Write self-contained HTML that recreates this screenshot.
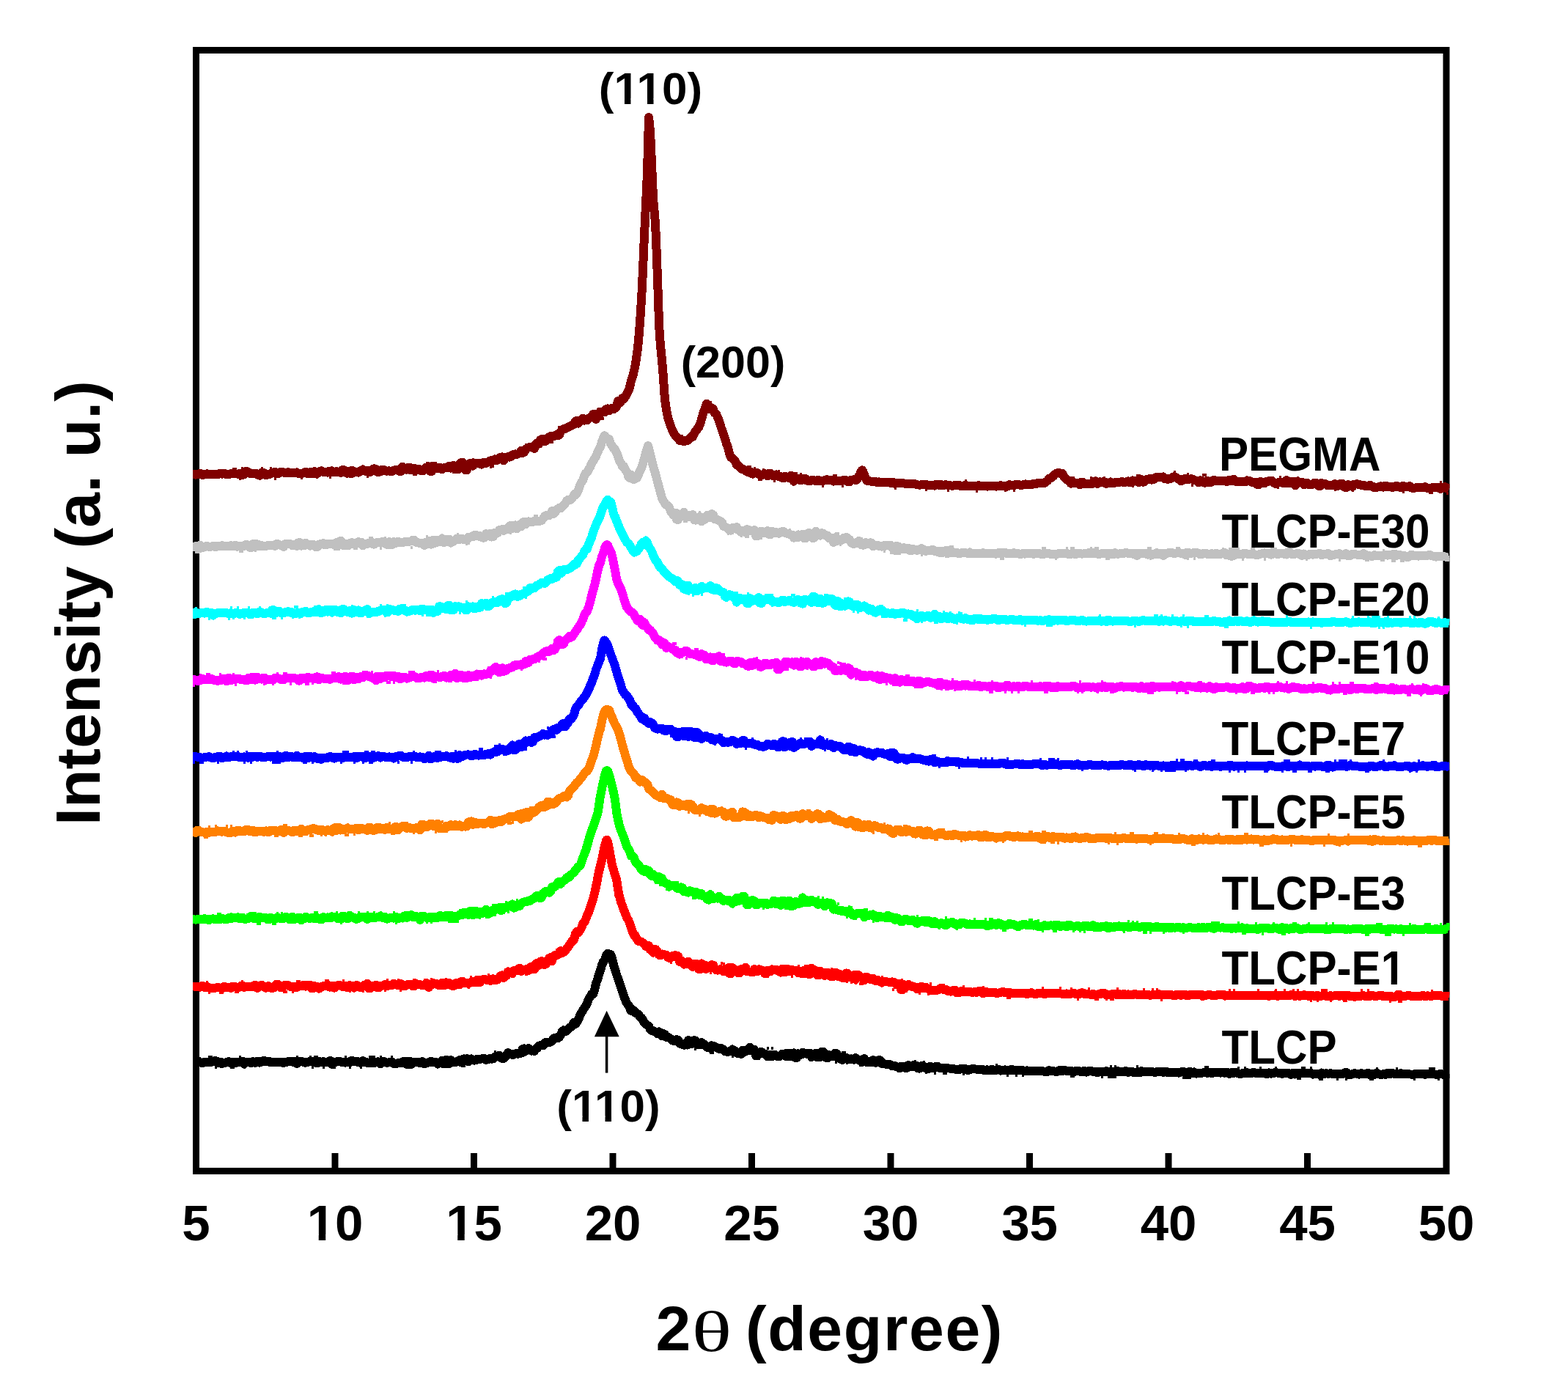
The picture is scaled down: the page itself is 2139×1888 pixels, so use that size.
<!DOCTYPE html>
<html><head><meta charset="utf-8"><title>XRD patterns</title>
<style>
html,body{margin:0;padding:0;background:#fff;}
body{width:2139px;height:1888px;overflow:hidden;}
svg{display:block;}
text{font-family:"Liberation Sans",Arial,sans-serif;font-weight:bold;fill:#000;}
</style></head><body>
<svg width="2139" height="1888" viewBox="0 0 2139 1888">
<rect x="0" y="0" width="2139" height="1888" fill="#fff"/>
<rect x="267.5" y="68.5" width="1705.5" height="1529.0" fill="none" stroke="#000" stroke-width="9"/>
<path d="M457.0,1573 V1595 M646.5,1573 V1595 M836.0,1573 V1595 M1025.5,1573 V1595 M1215.0,1573 V1595 M1404.5,1573 V1595 M1594.0,1573 V1595 M1783.5,1573 V1595" stroke="#000" stroke-width="9" fill="none"/>
<text id="tk0" x="267.5" y="1692" font-size="69" text-anchor="middle">5</text>
<text id="tk1" x="457.0" y="1692" font-size="69" text-anchor="middle">10</text>
<rect x="422.07" y="1684.16" width="12.66" height="8.64" fill="#fff"/><rect x="444.20" y="1684.16" width="11.78" height="8.64" fill="#fff"/><text id="tk2" x="646.5" y="1692" font-size="69" text-anchor="middle">15</text>
<rect x="611.57" y="1684.16" width="12.66" height="8.64" fill="#fff"/><rect x="633.70" y="1684.16" width="11.78" height="8.64" fill="#fff"/><text id="tk3" x="836.0" y="1692" font-size="69" text-anchor="middle">20</text>
<text id="tk4" x="1025.5" y="1692" font-size="69" text-anchor="middle">25</text>
<text id="tk5" x="1215.0" y="1692" font-size="69" text-anchor="middle">30</text>
<text id="tk6" x="1404.5" y="1692" font-size="69" text-anchor="middle">35</text>
<text id="tk7" x="1594.0" y="1692" font-size="69" text-anchor="middle">40</text>
<text id="tk8" x="1783.5" y="1692" font-size="69" text-anchor="middle">45</text>
<text id="tk9" x="1973.0" y="1692" font-size="69" text-anchor="middle">50</text>
<text x="894.5" y="1842" font-size="86">2</text>
<text transform="translate(971,1842.5) scale(1.33,0.915)" x="0" y="0" font-size="86" text-anchor="middle" style="font-family:'Liberation Serif',serif;font-weight:normal">&#952;</text>
<text x="1017" y="1842" font-size="86" letter-spacing="1.6">(degree)</text>
<text transform="translate(136,822.5) rotate(-90)" x="0" y="0" font-size="86" text-anchor="middle">Intensity (a. u.)</text>
<defs><clipPath id="pc"><rect x="263" y="0" width="1714.5" height="1888"/></clipPath></defs>
<g clip-path="url(#pc)">
<path d="M263.0,647.2 265.0,647.2 267.0,647.6 269.0,647.2 271.0,647.2 273.0,645.9 275.0,647.7 277.0,647.7 279.0,647.3 281.0,646.5 283.0,646.4 285.0,647.4 287.0,647.2 289.0,647.2 291.0,647.1 293.0,646.8 295.0,646.8 297.0,647.3 299.0,646.1 301.0,646.0 303.0,646.6 305.0,646.2 307.0,646.2 309.0,647.3 311.0,646.7 313.0,646.7 315.0,646.3 317.0,645.7 319.0,645.7 321.0,646.2 323.0,646.5 325.0,646.5 327.0,646.1 329.0,647.8 331.0,647.8 333.0,647.5 335.0,643.3 337.0,643.2 339.0,644.1 341.0,646.0 343.0,646.0 345.0,645.7 347.0,646.4 349.0,646.4 351.0,646.3 353.0,648.6 355.0,648.6 357.0,644.6 359.0,645.5 361.0,645.4 363.0,648.4 365.0,646.7 367.0,646.6 369.0,646.6 371.0,645.1 373.0,645.0 375.0,643.5 377.0,645.8 379.0,645.8 381.0,645.7 383.0,643.9 385.0,643.8 387.0,644.5 389.0,645.3 391.0,645.3 393.0,644.0 395.0,645.1 397.0,645.1 399.0,645.3 401.0,645.2 403.0,645.2 405.0,644.4 407.0,645.9 409.0,645.8 411.0,646.2 413.0,645.4 415.0,645.3 417.0,643.6 419.0,645.9 421.0,645.8 423.0,644.0 425.0,646.0 427.0,645.9 429.0,643.0 431.0,645.9 433.0,645.9 435.0,644.4 437.0,642.5 439.0,642.4 441.0,643.8 443.0,644.4 445.0,644.3 447.0,644.6 449.0,642.6 451.0,642.5 453.0,642.3 455.0,644.3 457.0,644.3 459.0,643.2 461.0,644.2 463.0,644.2 465.0,645.0 467.0,641.0 469.0,641.0 471.0,644.0 473.0,645.6 475.0,645.5 477.0,642.9 479.0,642.0 481.0,642.0 483.0,644.5 485.0,643.6 487.0,643.6 489.0,644.6 491.0,642.4 493.0,642.4 495.0,640.3 497.0,642.6 499.0,642.6 501.0,641.9 503.0,644.0 505.0,643.9 507.0,642.8 509.0,639.5 511.0,639.4 513.0,640.1 515.0,643.8 517.0,643.7 519.0,643.3 521.0,640.8 523.0,640.7 525.0,641.8 527.0,642.6 529.0,642.5 531.0,642.4 533.0,643.1 535.0,643.1 537.0,641.8 539.0,641.1 541.0,641.0 543.0,640.6 545.0,643.0 547.0,643.0 549.0,636.5 551.0,640.5 553.0,640.4 555.0,640.7 557.0,637.8 559.0,637.7 560.0,641.1 561.0,641.0 563.0,639.0 565.0,638.9 567.0,641.8 569.0,639.8 571.0,639.7 573.0,641.2 575.0,642.2 577.0,642.2 579.0,640.4 581.0,637.7 583.0,637.7 585.0,636.3 587.0,642.8 589.0,642.8 591.0,638.8 593.0,637.5 595.0,637.4 597.0,639.1 599.0,638.3 601.0,638.2 603.0,640.2 605.0,638.4 607.0,638.3 609.0,638.1 611.0,636.4 613.0,636.3 615.0,638.7 617.0,635.3 618.7,635.2 619.0,635.2 621.0,638.6 623.0,640.3 625.0,640.1 627.0,633.4 629.0,631.1 631.0,630.9 633.0,637.4 635.0,641.3 637.0,641.1 639.0,633.1 641.0,632.2 643.0,632.0 645.0,635.7 647.0,632.3 649.0,631.9 651.0,632.4 653.0,632.4 655.0,632.1 657.0,633.7 659.0,631.2 661.0,630.9 662.7,632.1 663.0,632.1 665.0,630.6 667.0,630.2 669.0,628.3 671.0,629.0 673.0,628.5 675.0,626.6 677.0,628.1 679.0,627.5 681.0,624.5 683.0,624.0 685.0,623.4 687.0,628.2 689.0,624.4 691.0,623.7 692.1,623.4 693.0,623.1 695.0,623.7 697.0,623.0 699.0,620.4 701.0,620.1 703.0,619.4 705.0,620.0 707.0,619.0 709.0,618.2 711.0,614.5 713.0,617.8 715.0,617.0 717.0,613.3 719.0,611.5 721.0,610.6 721.5,610.4 723.0,610.0 725.0,610.1 727.0,609.1 729.0,611.9 731.0,605.5 733.0,604.4 735.0,605.7 737.0,600.3 739.0,599.1 741.0,601.9 743.0,602.4 745.0,601.3 747.0,598.0 749.0,596.1 750.8,595.1 751.0,595.0 753.0,595.5 755.0,595.3 757.0,594.2 759.0,593.0 761.0,594.3 763.0,593.2 765.0,588.7 767.0,586.1 769.0,585.0 771.0,584.8 773.0,583.8 775.0,582.7 777.0,582.0 779.0,580.7 780.2,580.1 781.0,579.7 783.0,579.2 785.0,574.6 787.0,573.6 789.0,577.6 791.0,573.8 793.0,572.9 795.0,570.8 797.0,573.5 799.0,572.6 801.0,573.1 803.0,570.6 805.0,569.8 807.0,568.3 809.0,565.3 809.5,565.1 811.0,564.5 813.0,571.9 815.0,567.1 817.0,566.5 819.0,561.5 821.0,561.7 823.0,561.1 825.0,562.4 827.0,558.2 829.0,557.5 831.0,560.2 831.5,559.9 833.0,558.0 835.0,556.8 837.0,558.5 839.0,556.6 841.0,554.9 843.0,547.2 845.0,549.8 846.2,548.7 847.0,547.9 849.0,543.2 851.0,544.4 853.0,541.4 855.0,537.2 857.0,533.9 858.0,531.5 859.0,528.3 861.0,519.2 863.0,513.9 865.0,505.8 866.0,501.2 867.0,496.0 869.0,482.1 870.0,474.6 871.0,465.0 873.0,440.1 875.0,408.4 876.0,389.9 877.0,368.1 879.0,320.0 881.0,279.5 883.0,234.8 885.0,160.1 885.3,161.9 887.0,179.0 888.0,199.8 889.0,222.9 891.0,269.9 893.0,292.5 894.0,305.1 895.0,325.8 897.0,379.9 899.0,438.8 899.7,453.9 901.0,471.8 903.0,491.6 904.2,504.8 905.0,516.5 907.0,545.2 907.2,546.9 909.0,558.6 911.0,569.0 913.0,576.0 913.2,576.6 915.0,581.7 917.0,586.3 919.0,590.3 921.0,594.0 923.0,595.9 923.7,596.5 925.0,597.6 927.0,600.9 929.0,600.4 931.0,601.4 933.0,602.4 935.0,601.3 937.0,601.2 939.0,600.6 941.0,597.9 943.0,595.9 945.0,596.0 947.0,591.0 949.0,588.1 951.0,585.6 952.0,584.0 953.0,583.5 955.0,578.2 957.0,571.9 959.0,564.7 961.0,559.3 963.0,553.2 964.0,550.7 965.0,557.1 967.0,557.5 969.0,558.1 971.0,556.5 973.0,558.2 974.6,563.2 975.0,563.6 977.0,564.6 979.0,569.1 981.0,574.1 983.0,581.0 985.0,586.9 986.5,590.8 987.0,592.2 989.0,598.6 991.0,605.1 993.0,610.0 995.0,618.9 997.0,624.0 999.0,625.0 1001.0,626.6 1002.0,627.8 1003.0,628.9 1005.0,634.3 1007.0,634.9 1009.0,636.8 1011.0,639.5 1013.0,639.9 1015.0,640.9 1015.2,641.0 1017.0,642.3 1019.0,643.6 1021.0,644.2 1023.0,643.1 1025.0,646.1 1027.0,646.6 1029.0,645.0 1030.0,645.2 1031.0,644.6 1033.0,645.0 1035.0,646.9 1037.0,647.9 1039.0,648.1 1041.0,647.2 1043.0,646.3 1045.0,646.6 1047.0,649.3 1049.0,645.5 1051.0,645.7 1053.0,647.1 1055.0,649.1 1057.0,649.3 1059.0,647.3 1061.0,649.7 1063.0,650.0 1065.0,650.1 1067.0,651.8 1069.0,652.1 1071.0,649.7 1073.0,650.4 1075.0,650.7 1077.0,652.3 1079.0,648.9 1081.0,649.3 1083.0,656.7 1085.0,652.2 1087.0,652.5 1089.0,652.7 1091.0,654.9 1093.0,655.1 1095.0,654.3 1097.0,652.7 1099.0,653.0 1101.0,655.7 1103.0,656.1 1105.0,656.2 1107.0,655.1 1109.0,655.4 1111.0,655.4 1113.0,656.2 1115.0,655.0 1116.0,655.0 1117.0,655.0 1119.0,656.2 1121.0,656.0 1123.0,656.0 1125.0,655.1 1127.0,654.4 1129.0,654.4 1131.0,655.5 1133.0,654.9 1135.0,654.9 1137.0,656.7 1139.0,655.9 1141.0,655.8 1143.0,656.5 1145.0,655.8 1147.0,655.7 1149.0,655.8 1151.0,654.7 1153.0,654.6 1155.0,656.2 1157.0,657.4 1159.0,657.3 1161.0,654.9 1163.0,654.5 1165.0,654.4 1167.0,654.9 1168.0,654.8 1169.0,654.1 1171.0,651.4 1173.0,647.4 1175.0,642.5 1176.0,641.3 1177.0,642.5 1179.0,647.7 1181.0,652.9 1183.0,656.0 1184.0,655.5 1185.0,655.7 1187.0,656.4 1189.0,656.8 1191.0,657.5 1193.0,656.9 1195.0,657.2 1197.0,658.4 1199.0,657.4 1201.0,657.6 1203.0,657.7 1205.0,658.1 1207.0,658.2 1209.0,658.5 1211.0,657.8 1213.0,657.9 1215.0,658.8 1217.0,657.9 1219.0,658.0 1221.0,659.9 1223.0,659.1 1225.0,659.2 1227.0,659.0 1229.0,659.0 1231.0,659.1 1233.0,659.5 1235.0,659.8 1237.0,659.9 1239.0,659.5 1241.0,659.7 1243.0,659.8 1245.0,660.4 1247.0,660.3 1249.0,660.4 1251.0,661.3 1253.0,661.5 1255.0,661.6 1257.0,661.1 1259.0,661.4 1261.0,661.5 1263.0,660.6 1265.0,661.8 1267.0,661.9 1269.0,661.6 1271.0,661.9 1273.0,662.0 1275.0,662.7 1277.0,660.5 1279.0,660.6 1281.0,662.1 1282.6,662.2 1283.0,661.4 1285.0,661.4 1287.0,662.5 1289.0,661.4 1291.0,661.4 1293.0,661.9 1295.0,662.4 1297.0,662.4 1299.0,662.7 1301.0,662.4 1303.0,662.5 1305.0,662.0 1307.0,662.2 1309.0,662.2 1311.0,663.1 1313.0,662.6 1315.0,662.7 1317.0,661.7 1319.0,663.2 1321.0,663.3 1323.0,663.0 1325.0,663.3 1327.0,663.4 1329.0,662.7 1331.0,663.4 1333.0,663.4 1335.0,662.3 1337.0,663.3 1339.0,663.3 1341.0,662.7 1343.0,663.4 1345.0,663.4 1347.0,663.6 1349.0,662.6 1350.0,662.6 1351.0,662.6 1353.0,663.0 1355.0,663.0 1357.0,663.0 1359.0,663.6 1361.0,663.3 1363.0,663.2 1365.0,662.0 1367.0,662.9 1369.0,662.9 1371.0,662.9 1373.0,663.6 1375.0,663.5 1377.0,661.2 1379.0,661.8 1381.0,661.7 1383.0,662.6 1385.0,661.0 1387.0,660.9 1389.0,660.8 1391.0,661.7 1393.0,661.5 1395.0,661.7 1397.0,660.6 1399.0,660.4 1401.0,661.0 1403.0,660.6 1405.0,660.5 1407.0,661.1 1409.0,660.1 1411.0,660.0 1413.0,660.4 1415.0,659.2 1417.0,659.0 1419.0,659.2 1421.0,659.1 1422.0,658.9 1423.0,658.7 1425.0,659.0 1427.0,657.3 1429.0,655.9 1431.0,652.8 1433.0,652.6 1435.0,651.0 1437.0,649.6 1439.0,647.0 1441.0,645.9 1443.0,645.0 1444.0,644.9 1445.0,645.2 1447.0,646.1 1449.0,645.6 1451.0,650.0 1453.0,652.2 1455.0,654.4 1457.0,655.4 1459.0,657.2 1461.0,659.7 1463.0,658.2 1465.0,658.2 1467.0,659.0 1469.0,659.0 1471.0,659.0 1473.0,661.4 1475.0,657.8 1477.0,657.8 1479.0,659.9 1481.0,660.3 1483.0,660.3 1485.0,659.6 1487.0,660.5 1489.0,660.4 1491.0,658.0 1493.0,656.5 1495.0,656.4 1497.0,659.8 1499.0,657.5 1501.0,657.4 1503.0,658.3 1505.0,657.2 1507.0,657.2 1509.0,659.8 1511.0,659.5 1513.0,659.4 1515.0,657.4 1517.0,659.4 1519.0,659.3 1521.0,658.2 1522.0,658.2 1523.0,657.8 1525.0,657.7 1527.0,657.8 1529.0,657.4 1531.0,657.2 1533.0,658.2 1535.0,657.6 1537.0,657.5 1539.0,656.4 1541.0,658.2 1543.0,658.0 1545.0,655.4 1547.0,656.6 1549.0,656.4 1551.0,656.4 1553.0,657.8 1555.0,657.6 1557.0,654.3 1559.0,657.7 1561.0,657.5 1563.0,654.7 1565.0,653.9 1567.0,653.7 1569.0,652.7 1571.0,654.6 1573.0,654.4 1575.0,653.3 1577.0,651.0 1579.0,650.8 1581.0,650.5 1583.0,651.3 1585.0,651.0 1587.0,650.5 1589.0,653.5 1591.0,653.4 1593.0,653.8 1595.0,652.8 1596.6,652.8 1597.0,652.8 1599.0,651.8 1601.0,650.3 1603.0,650.5 1605.0,651.6 1607.0,653.4 1609.0,653.7 1611.0,656.2 1613.0,654.3 1615.0,654.6 1617.0,652.9 1619.0,653.7 1621.0,654.0 1623.0,653.5 1625.0,653.2 1627.0,653.5 1629.0,654.7 1631.0,655.5 1632.6,655.5 1633.0,655.6 1635.0,658.5 1637.0,655.4 1639.0,655.5 1641.0,657.8 1643.0,658.6 1645.0,658.6 1647.0,655.8 1649.0,658.4 1651.0,658.5 1653.0,657.0 1655.0,655.1 1657.0,655.1 1659.0,656.3 1661.0,655.9 1663.0,655.9 1665.0,655.5 1667.0,655.6 1669.0,655.7 1671.0,656.3 1673.0,656.8 1675.0,656.8 1677.0,654.6 1679.0,656.1 1681.0,656.1 1683.0,653.6 1685.0,656.7 1687.0,656.7 1689.0,657.3 1691.0,656.6 1693.0,656.6 1695.0,656.9 1697.0,657.4 1699.0,657.5 1701.0,655.4 1703.0,656.1 1705.0,656.2 1707.0,657.5 1709.0,658.4 1711.0,658.4 1713.0,657.5 1715.0,661.1 1717.0,661.2 1719.0,656.9 1721.0,658.7 1723.0,658.8 1725.0,659.3 1727.0,657.1 1729.0,657.2 1731.0,656.2 1733.0,655.7 1735.0,655.8 1737.0,658.0 1739.0,659.6 1741.0,659.7 1743.0,658.4 1745.0,658.4 1747.0,658.5 1749.0,657.7 1751.0,659.3 1753.0,659.3 1755.0,655.3 1757.0,659.0 1759.0,659.1 1761.0,658.9 1763.0,656.9 1765.0,657.0 1767.0,662.4 1769.0,657.2 1771.0,657.3 1773.0,657.9 1775.0,657.8 1777.0,657.9 1779.0,661.3 1781.0,658.6 1783.0,658.7 1785.0,661.0 1787.0,660.9 1789.0,661.0 1791.0,660.7 1793.0,658.6 1795.0,658.7 1797.0,659.7 1799.0,662.9 1801.0,663.0 1803.0,659.1 1805.0,659.8 1807.0,659.9 1809.0,660.8 1811.0,662.2 1813.0,662.3 1815.0,661.6 1816.0,661.6 1817.0,662.3 1819.0,662.4 1821.0,660.1 1823.0,662.7 1825.0,662.8 1827.0,662.4 1829.0,659.7 1831.0,659.8 1833.0,663.8 1835.0,664.8 1837.0,664.8 1839.0,661.1 1841.0,662.2 1843.0,662.3 1845.0,663.9 1847.0,660.5 1849.0,660.6 1851.0,660.1 1853.0,661.0 1855.0,661.0 1857.0,662.0 1859.0,662.0 1861.0,662.1 1863.0,663.5 1865.0,663.2 1867.0,663.2 1869.0,661.6 1871.0,663.7 1873.0,663.8 1875.0,665.3 1877.0,664.6 1879.0,664.6 1881.0,664.4 1883.0,663.4 1885.0,663.5 1887.0,664.6 1889.0,662.6 1891.0,662.6 1893.0,664.5 1895.0,663.7 1897.0,663.7 1899.0,665.0 1901.0,664.4 1903.0,664.5 1905.0,662.9 1907.0,664.2 1909.0,664.3 1911.0,665.4 1913.0,663.2 1915.0,663.2 1917.0,663.8 1919.0,663.7 1921.0,663.7 1923.0,663.1 1925.0,665.5 1927.0,665.5 1929.0,665.9 1931.0,665.4 1933.0,665.5 1935.0,665.0 1937.0,664.8 1939.0,664.9 1941.0,665.2 1943.0,664.4 1945.0,664.4 1947.0,665.8 1949.0,666.0 1951.0,666.0 1953.0,666.0 1955.0,664.8 1957.0,664.9 1959.0,665.4 1961.0,665.3 1963.0,665.3 1965.0,666.8 1967.0,665.6 1969.0,665.7 1971.0,664.3 1973.0,665.9 1975.0,665.9 1977.0,666.8" fill="none" stroke="#800000" stroke-width="12" stroke-linejoin="round" shape-rendering="crispEdges"/>
<path d="M317 638h6v4h-6zM326 651h3v4h-3zM329 637h3v4h-3zM356 637h3v4h-3zM368 637h3v4h-3zM374 651h3v4h-3zM410 650h3v4h-3zM431 649h3v4h-3zM449 649h3v4h-3zM476 648h6v4h-6zM500 648h3v4h-3zM563 645h6v4h-6zM581 630h3v4h-3zM587 630h3v4h-3zM590 630h6v4h-6zM617 642h3v4h-3zM644 625h3v4h-3zM668 635h3v4h-3zM671 634h3v4h-3zM680 618h3v4h-3zM686 630h3v4h-3zM716 605h6v4h-6zM740 593h3v4h-3zM749 601h6v4h-6zM761 581h3v4h-3zM818 569h6v4h-6zM824 553h6v4h-6zM929 593h3v4h-3zM965 547h6v4h-6zM1019 635h6v4h-6zM1028 637h3v4h-3zM1034 652h6v4h-6zM1040 639h3v4h-3zM1055 654h3v4h-3zM1061 641h3v4h-3zM1085 644h3v4h-3zM1091 645h3v4h-3zM1121 661h3v4h-3zM1136 647h3v4h-3zM1139 647h3v4h-3zM1148 661h3v4h-3zM1166 646h6v4h-6zM1220 664h3v4h-3zM1262 666h3v4h-3zM1292 667h3v4h-3zM1316 654h3v4h-3zM1331 668h3v4h-3zM1370 667h3v4h-3zM1382 667h3v4h-3zM1460 650h6v4h-6zM1487 650h3v4h-3zM1505 650h3v4h-3zM1544 661h3v4h-3zM1550 647h6v4h-6zM1601 642h3v4h-3zM1619 645h3v4h-3zM1625 660h3v4h-3zM1640 646h6v4h-6zM1742 663h3v4h-3zM1745 649h3v4h-3zM1769 650h3v4h-3zM1820 666h3v4h-3zM1844 667h3v4h-3zM1913 669h3v4h-3zM1949 670h6v4h-6zM1964 656h3v4h-3zM1973 671h3v4h-3z" fill="#800000" shape-rendering="crispEdges"/>
<path d="M263.0,745.7 265.0,745.7 267.0,745.2 269.0,745.2 271.0,745.2 273.0,743.5 275.0,746.9 277.0,746.9 279.0,746.3 281.0,745.0 283.0,745.0 285.0,746.0 287.0,745.5 289.0,745.5 291.0,744.6 293.0,746.1 295.0,746.0 297.0,744.7 299.0,744.7 301.0,744.7 303.0,744.1 305.0,745.4 307.0,745.4 309.0,744.7 311.0,745.4 313.0,745.4 315.0,744.1 317.0,744.9 319.0,744.8 321.0,743.6 323.0,745.6 325.0,745.5 327.0,744.8 329.0,744.9 331.0,744.9 333.0,744.9 335.0,743.2 337.0,743.2 339.0,745.3 341.0,746.8 343.0,746.8 345.0,742.2 347.0,742.0 349.0,742.0 351.0,742.2 353.0,745.1 355.0,745.1 357.0,744.2 359.0,745.3 361.0,745.3 363.0,744.8 365.0,744.1 367.0,744.1 369.0,744.1 371.0,743.5 373.0,743.5 375.0,744.8 377.0,742.1 379.0,742.0 381.0,743.0 383.0,743.8 385.0,743.8 387.0,745.9 389.0,742.3 391.0,742.3 393.0,741.8 395.0,742.5 397.0,742.4 399.0,744.5 401.0,742.8 403.0,742.7 405.0,745.0 407.0,740.3 409.0,740.2 411.0,744.6 413.0,744.4 415.0,744.4 417.0,740.7 419.0,743.0 421.0,742.9 423.0,744.5 425.0,742.8 427.0,742.7 429.0,744.1 431.0,746.1 433.0,746.1 435.0,742.8 437.0,742.0 439.0,741.9 441.0,741.1 443.0,743.3 445.0,743.2 447.0,741.9 449.0,741.8 451.0,741.8 453.0,741.9 455.0,743.0 457.0,743.0 459.0,740.2 461.0,739.4 463.0,739.4 465.0,737.8 467.0,743.7 469.0,743.7 471.0,741.8 473.0,744.1 475.0,744.1 477.0,741.6 479.0,740.3 481.0,740.3 483.0,742.3 485.0,741.3 487.0,741.3 489.0,739.2 491.0,739.8 493.0,739.8 495.0,744.2 497.0,741.8 499.0,741.8 501.0,741.9 503.0,740.6 505.0,740.6 507.0,739.8 509.0,742.5 511.0,742.5 513.0,740.7 515.0,739.6 517.0,739.5 519.0,740.6 521.0,739.2 523.0,739.1 525.0,741.0 527.0,742.7 529.0,742.6 531.0,739.1 533.0,743.1 535.0,743.0 537.0,739.2 539.0,740.7 541.0,740.6 543.0,738.8 545.0,739.9 547.0,739.8 549.0,740.2 551.0,739.3 553.0,739.3 555.0,738.7 557.0,738.7 559.0,738.6 561.0,738.3 563.0,736.9 565.0,736.8 567.0,739.2 569.0,740.3 571.0,740.3 573.0,741.2 575.0,740.6 577.0,740.5 579.0,743.9 581.0,739.8 583.0,739.7 585.0,738.2 587.0,742.5 589.0,742.5 591.0,736.8 593.0,740.6 595.0,740.5 597.0,736.7 599.0,739.1 600.0,739.1 601.0,739.0 603.0,734.4 605.0,739.9 607.0,739.7 609.0,737.5 611.0,735.8 613.0,735.6 615.0,740.6 617.0,738.6 619.0,738.4 621.0,736.7 623.0,734.9 625.0,734.6 627.0,735.8 629.0,735.3 631.0,735.0 633.0,736.5 635.0,736.4 637.0,736.1 639.0,732.8 641.0,732.7 643.0,732.3 645.0,732.1 647.0,730.0 649.0,729.6 651.0,730.9 653.0,731.6 655.0,731.3 657.0,732.7 659.0,733.7 661.0,733.3 663.0,728.1 665.0,730.7 667.0,730.2 669.0,727.5 671.0,732.5 673.0,732.0 675.0,726.8 677.0,727.4 679.0,726.8 681.0,723.1 683.0,722.8 685.0,722.2 687.0,723.8 689.0,721.9 691.0,721.3 693.0,722.2 695.0,717.5 697.0,716.8 699.0,721.0 701.0,717.0 703.0,716.4 705.0,721.5 707.0,716.5 709.0,715.9 711.0,718.4 713.0,712.4 715.0,711.8 717.0,715.3 719.0,711.9 721.0,711.4 723.0,711.8 725.0,712.4 727.0,711.9 729.0,710.7 731.0,711.4 733.0,710.8 735.0,711.2 737.0,710.4 739.0,709.7 741.0,707.4 743.0,704.0 743.9,703.6 745.0,703.2 747.0,703.3 749.0,703.3 751.0,701.9 753.0,697.1 753.9,696.5 755.0,700.8 757.0,699.3 759.0,696.1 761.0,694.4 763.0,692.8 765.0,693.1 767.0,690.9 768.8,689.4 769.0,689.3 771.0,686.9 773.0,683.3 775.0,681.8 777.0,682.5 779.0,680.9 781.0,679.0 783.0,675.1 784.3,673.7 785.0,675.6 787.0,672.6 789.0,668.5 791.0,662.0 791.6,660.8 793.0,658.1 795.0,655.5 797.0,649.4 797.6,648.1 799.0,645.3 801.0,644.4 803.0,640.6 803.7,639.4 805.0,637.4 807.0,632.0 809.0,629.3 809.3,628.8 811.0,625.7 813.0,622.6 815.0,617.7 817.0,613.1 817.6,611.8 819.0,609.6 821.0,602.7 823.0,597.7 824.8,594.3 825.0,594.3 827.0,597.0 829.0,599.2 831.0,599.1 833.0,605.2 834.2,607.0 835.0,608.1 837.0,611.6 839.0,613.3 839.8,614.7 841.0,617.3 843.0,622.2 845.0,628.3 845.3,628.9 847.0,631.6 849.0,636.1 850.9,638.4 851.0,636.4 853.0,640.6 855.0,643.6 856.4,645.3 857.0,649.9 859.0,651.8 861.0,647.7 863.0,653.2 865.0,654.1 866.0,651.5 867.0,651.6 869.0,651.7 871.0,648.0 873.0,642.0 875.0,638.9 877.0,632.2 879.0,625.3 881.0,617.5 883.0,611.8 884.1,607.9 885.0,611.5 887.0,619.8 889.0,628.0 889.5,629.7 891.0,636.0 893.0,642.1 895.0,649.7 897.0,657.3 897.4,658.8 899.0,664.5 901.0,672.0 903.0,679.2 904.0,681.7 905.0,683.3 907.0,686.5 909.0,689.1 911.0,689.6 911.8,690.6 913.0,692.1 915.0,697.7 917.0,700.5 919.0,702.9 921.0,699.9 922.9,699.9 923.0,708.5 925.0,708.9 927.0,705.2 929.0,702.3 931.0,702.3 933.0,698.8 935.0,705.4 937.0,705.5 939.0,705.4 939.6,705.4 941.0,703.0 943.0,703.8 945.0,702.1 947.0,708.9 949.0,709.6 950.0,705.5 951.0,705.5 953.0,705.6 955.0,705.0 957.0,711.3 959.0,709.2 961.0,708.9 963.0,706.1 964.0,706.2 965.0,702.6 967.0,703.1 969.0,706.0 971.0,701.1 973.0,702.4 975.0,708.1 977.0,708.0 979.0,709.5 981.0,710.1 983.0,711.2 985.0,712.7 987.0,717.8 989.0,718.4 991.0,719.6 993.0,720.8 995.0,723.1 997.0,723.7 999.0,720.2 1001.0,719.7 1003.0,720.0 1005.0,719.1 1007.0,722.8 1009.0,723.1 1011.0,725.9 1013.0,724.1 1015.0,724.3 1017.0,726.5 1019.0,722.3 1021.0,722.6 1023.0,724.5 1025.0,724.0 1027.0,724.2 1029.0,723.2 1031.0,731.0 1033.0,731.2 1035.0,728.9 1037.0,725.1 1039.0,725.2 1041.0,725.4 1043.0,727.3 1045.0,727.4 1047.0,724.2 1049.0,729.0 1051.0,729.1 1053.0,724.9 1055.0,727.4 1057.0,727.5 1059.0,726.0 1061.0,727.5 1063.0,727.6 1065.0,725.6 1067.0,725.1 1069.0,725.2 1071.0,726.9 1073.0,727.7 1075.0,727.8 1077.0,728.8 1079.0,729.8 1081.0,729.9 1083.0,733.7 1085.0,732.0 1087.0,732.0 1089.0,729.4 1091.0,732.0 1093.0,732.1 1095.0,728.6 1097.0,734.1 1099.0,734.2 1101.0,732.0 1103.0,727.3 1105.0,727.4 1107.0,732.8 1109.0,733.1 1111.0,733.2 1113.0,724.6 1115.0,729.6 1116.0,729.6 1117.0,729.7 1119.0,730.6 1121.0,727.2 1123.0,727.5 1125.0,729.8 1127.0,730.3 1129.0,730.6 1131.0,734.3 1133.0,734.1 1135.0,734.4 1137.0,740.0 1139.0,733.4 1141.0,733.8 1143.0,737.6 1145.0,735.5 1147.0,735.8 1149.0,736.6 1151.0,733.8 1153.0,734.2 1155.0,732.9 1157.0,735.7 1159.0,736.1 1161.0,739.6 1163.0,741.7 1165.0,742.0 1167.0,740.3 1169.0,740.4 1171.0,740.7 1172.0,738.1 1173.0,738.3 1175.0,743.3 1177.0,743.6 1179.0,743.5 1181.0,740.2 1183.0,740.5 1185.0,741.8 1187.0,740.3 1189.0,740.7 1191.0,745.5 1193.0,743.9 1195.0,744.2 1197.0,743.7 1199.0,744.9 1201.0,745.2 1203.0,745.6 1205.0,744.4 1207.0,744.8 1209.0,743.7 1211.0,743.9 1213.0,744.2 1215.0,743.8 1217.0,747.6 1219.0,747.8 1221.0,750.8 1223.0,745.0 1225.0,745.2 1227.0,748.2 1229.0,748.8 1231.0,749.0 1233.0,747.1 1235.0,749.0 1237.0,749.2 1239.0,747.5 1241.0,751.0 1243.0,751.1 1245.0,748.7 1247.0,749.9 1249.0,750.0 1251.0,750.9 1253.0,749.6 1255.0,749.7 1257.0,748.1 1259.0,749.9 1261.0,750.0 1263.0,751.8 1265.0,750.9 1267.0,751.0 1269.0,751.5 1271.0,750.0 1273.0,750.2 1275.0,751.7 1277.0,752.5 1279.0,752.6 1281.0,752.0 1282.6,752.0 1283.0,754.2 1285.0,754.2 1287.0,752.0 1289.0,751.3 1291.0,751.4 1293.0,750.9 1295.0,753.9 1297.0,754.0 1299.0,752.9 1301.0,754.0 1303.0,754.1 1305.0,753.7 1307.0,754.8 1309.0,754.8 1311.0,754.6 1313.0,753.5 1315.0,753.6 1317.0,754.1 1319.0,754.7 1321.0,754.8 1323.0,753.5 1325.0,755.2 1327.0,755.3 1329.0,755.2 1331.0,755.2 1333.0,755.2 1335.0,754.6 1337.0,755.0 1339.0,755.0 1341.0,754.2 1343.0,755.0 1345.0,755.0 1347.0,754.6 1349.0,755.0 1350.0,755.1 1351.0,755.1 1353.0,754.7 1355.0,755.2 1357.0,755.2 1359.0,755.7 1361.0,754.3 1363.0,754.3 1365.0,755.6 1367.0,753.9 1369.0,753.9 1371.0,753.8 1373.0,755.0 1375.0,755.0 1377.0,755.1 1379.0,755.4 1381.0,755.4 1383.0,754.1 1385.0,755.1 1387.0,755.1 1389.0,755.2 1391.0,755.9 1393.0,755.9 1395.0,755.1 1397.0,755.5 1399.0,755.5 1401.0,754.6 1403.0,755.1 1405.0,755.1 1407.0,754.9 1409.0,755.6 1411.0,755.6 1413.0,754.6 1415.0,754.7 1417.0,754.7 1419.0,755.6 1421.0,756.3 1423.0,756.3 1425.0,755.5 1427.0,755.4 1429.0,755.4 1431.0,755.0 1433.0,755.9 1435.0,755.9 1437.0,755.6 1439.0,756.3 1441.0,756.3 1443.0,755.5 1445.0,754.7 1447.0,754.7 1449.0,754.9 1451.0,754.7 1453.0,754.7 1455.0,754.5 1457.0,756.0 1459.0,756.0 1461.0,755.8 1463.0,754.5 1465.0,754.5 1467.0,756.4 1469.0,755.4 1471.0,755.4 1473.0,754.7 1475.0,755.5 1477.0,755.5 1479.0,755.3 1481.0,754.8 1483.0,754.8 1485.0,754.1 1487.0,755.3 1489.0,755.3 1491.0,755.5 1493.0,753.8 1495.0,753.8 1497.0,755.7 1499.0,755.7 1501.0,755.7 1503.0,755.0 1505.0,755.4 1507.0,755.4 1509.0,755.2 1511.0,754.8 1513.0,754.8 1515.0,755.1 1517.0,756.3 1519.0,756.3 1521.0,754.3 1523.0,755.5 1525.0,755.5 1527.0,755.5 1529.0,754.8 1531.0,754.8 1533.0,755.0 1535.0,754.2 1537.0,754.2 1539.0,754.7 1541.0,755.4 1543.0,755.4 1545.0,755.6 1547.0,754.6 1549.0,754.6 1551.0,758.0 1553.0,754.9 1555.0,754.9 1557.0,755.5 1559.0,755.2 1561.0,755.2 1563.0,755.0 1565.0,756.5 1567.0,756.5 1569.0,755.0 1571.0,756.6 1573.0,756.6 1575.0,756.4 1577.0,754.4 1579.0,754.4 1581.0,756.3 1583.0,754.8 1585.0,754.8 1587.0,758.0 1589.0,755.0 1591.0,755.0 1593.0,754.5 1595.0,753.6 1597.0,753.6 1599.0,754.2 1601.0,754.9 1603.0,754.9 1605.0,754.4 1607.0,754.2 1609.0,754.2 1611.0,754.7 1613.0,755.2 1615.0,755.2 1617.0,756.9 1619.0,753.7 1621.0,753.7 1623.0,754.9 1625.0,754.5 1627.0,754.5 1629.0,753.9 1631.0,754.2 1633.0,754.2 1635.0,754.5 1637.0,756.2 1639.0,756.2 1641.0,755.3 1643.0,754.9 1645.0,754.9 1647.0,756.1 1649.0,755.8 1651.0,755.8 1653.0,755.3 1655.0,755.9 1657.0,755.9 1659.0,754.6 1661.0,756.2 1663.0,756.2 1665.0,756.0 1667.0,755.1 1669.0,755.1 1671.0,754.2 1673.0,757.2 1675.0,757.2 1677.0,755.6 1679.0,758.8 1681.0,758.8 1683.0,754.8 1685.0,756.5 1687.0,756.5 1689.0,755.1 1691.0,755.8 1693.0,755.9 1695.0,756.5 1697.0,754.7 1699.0,754.7 1700.0,755.5 1701.0,755.5 1703.0,755.8 1705.0,755.8 1707.0,755.7 1709.0,756.3 1711.0,756.3 1713.0,756.8 1715.0,756.6 1717.0,756.6 1719.0,756.0 1721.0,755.3 1723.0,755.3 1725.0,754.4 1727.0,754.9 1729.0,754.9 1731.0,755.2 1733.0,756.5 1735.0,756.5 1737.0,755.4 1739.0,754.4 1741.0,754.4 1743.0,756.5 1745.0,754.9 1747.0,755.0 1749.0,755.0 1751.0,755.6 1753.0,755.6 1755.0,756.4 1757.0,753.2 1759.0,753.2 1761.0,754.7 1763.0,756.2 1765.0,756.2 1767.0,755.6 1769.0,755.1 1771.0,755.1 1773.0,755.5 1775.0,757.6 1777.0,757.6 1779.0,755.6 1781.0,756.9 1783.0,757.0 1785.0,757.1 1787.0,755.7 1789.0,755.7 1791.0,756.7 1793.0,755.8 1795.0,755.8 1797.0,755.6 1799.0,755.1 1801.0,755.1 1803.0,757.3 1805.0,756.0 1807.0,756.0 1809.0,755.8 1811.0,755.2 1813.0,755.3 1815.0,758.5 1817.0,757.3 1819.0,757.4 1821.0,756.5 1823.0,755.9 1825.0,755.9 1827.0,755.0 1829.0,757.0 1831.0,757.0 1833.0,757.1 1835.0,755.3 1837.0,755.3 1839.0,758.1 1841.0,757.7 1843.0,757.7 1845.0,755.9 1847.0,756.4 1849.0,756.4 1851.0,756.5 1853.0,757.2 1855.0,757.2 1857.0,756.9 1859.0,755.4 1861.0,755.4 1863.0,758.7 1865.0,757.5 1867.0,757.5 1869.0,758.5 1871.0,758.6 1873.0,758.6 1875.0,757.1 1877.0,757.7 1879.0,757.7 1881.0,758.2 1883.0,758.2 1885.0,758.3 1887.0,757.4 1889.0,756.9 1891.0,757.0 1893.0,757.7 1895.0,756.9 1897.0,756.9 1899.0,757.2 1901.0,755.8 1903.0,755.8 1905.0,757.9 1907.0,756.9 1909.0,756.9 1911.0,757.4 1913.0,757.9 1915.0,757.9 1917.0,758.3 1919.0,759.8 1921.0,759.8 1923.0,758.3 1925.0,756.9 1927.0,756.9 1929.0,758.3 1931.0,757.7 1933.0,757.7 1935.0,758.6 1937.0,757.7 1939.0,757.8 1941.0,757.8 1943.0,758.0 1945.0,758.0 1947.0,758.0 1949.0,757.0 1951.0,757.1 1953.0,758.1 1955.0,758.6 1957.0,758.7 1959.0,759.6 1961.0,758.5 1963.0,758.5 1965.0,758.5 1967.0,759.3 1969.0,759.3 1971.0,759.3 1973.0,760.0 1975.0,760.0 1977.0,759.3" fill="none" stroke="#c0c0c0" stroke-width="12" stroke-linejoin="round" shape-rendering="crispEdges"/>
<path d="M266 751h6v4h-6zM272 750h3v4h-3zM326 750h6v4h-6zM347 749h3v4h-3zM434 747h3v4h-3zM455 747h6v4h-6zM461 747h3v4h-3zM482 746h3v4h-3zM485 746h3v4h-3zM503 732h6v4h-6zM518 746h3v4h-3zM524 732h3v4h-3zM533 745h3v4h-3zM560 745h3v4h-3zM581 730h3v4h-3zM587 744h3v4h-3zM623 727h3v4h-3zM635 740h3v4h-3zM638 739h3v4h-3zM668 733h3v4h-3zM674 732h3v4h-3zM695 725h3v4h-3zM704 723h3v4h-3zM728 702h6v4h-6zM920 708h3v4h-3zM932 709h3v4h-3zM935 709h3v4h-3zM944 711h3v4h-3zM953 697h3v4h-3zM992 726h3v4h-3zM1010 729h3v4h-3zM1016 730h3v4h-3zM1019 730h3v4h-3zM1037 732h3v4h-3zM1046 719h3v4h-3zM1076 721h3v4h-3zM1079 735h3v4h-3zM1085 735h6v4h-6zM1106 736h6v4h-6zM1139 726h6v4h-6zM1145 741h3v4h-3zM1205 750h3v4h-3zM1214 752h3v4h-3zM1223 753h6v4h-6zM1256 755h3v4h-3zM1289 757h6v4h-6zM1295 744h6v4h-6zM1364 760h3v4h-3zM1367 760h3v4h-3zM1421 746h6v4h-6zM1439 760h3v4h-3zM1454 746h3v4h-3zM1460 746h6v4h-6zM1487 746h3v4h-3zM1493 746h6v4h-6zM1508 760h3v4h-3zM1511 760h3v4h-3zM1565 746h6v4h-6zM1568 760h3v4h-3zM1604 746h6v4h-6zM1619 760h3v4h-3zM1628 760h3v4h-3zM1667 747h3v4h-3zM1676 747h3v4h-3zM1679 747h3v4h-3zM1682 747h6v4h-6zM1685 747h6v4h-6zM1694 761h3v4h-3zM1706 747h6v4h-6zM1724 761h3v4h-3zM1733 747h6v4h-6zM1736 747h6v4h-6zM1781 761h3v4h-3zM1826 762h3v4h-3zM1862 762h6v4h-6zM1883 762h6v4h-6zM1886 749h3v4h-3zM1898 763h6v4h-6zM1910 763h3v4h-3zM1913 763h3v4h-3z" fill="#c0c0c0" shape-rendering="crispEdges"/>
<path d="M263.0,838.1 265.0,838.3 267.0,835.1 269.0,837.2 271.0,837.2 273.0,836.4 275.0,836.5 277.0,836.4 279.0,836.6 281.0,835.1 283.0,835.1 285.0,836.6 287.0,836.0 289.0,836.0 291.0,839.6 293.0,836.9 295.0,836.9 297.0,836.3 299.0,836.4 301.0,836.3 303.0,836.0 305.0,835.6 307.0,835.5 309.0,836.2 311.0,837.0 313.0,837.0 315.0,836.2 317.0,837.4 319.0,837.4 321.0,836.2 323.0,836.4 325.0,836.4 327.0,838.0 329.0,836.9 331.0,836.9 333.0,835.7 335.0,836.1 337.0,836.0 339.0,836.8 341.0,838.3 343.0,838.3 345.0,835.8 347.0,835.8 349.0,835.8 351.0,837.2 353.0,835.0 355.0,835.0 357.0,835.6 359.0,837.0 361.0,837.0 363.0,836.6 365.0,836.0 367.0,836.0 369.0,836.6 371.0,832.4 373.0,832.3 375.0,837.0 377.0,834.5 379.0,834.5 381.0,833.6 383.0,836.0 385.0,835.9 387.0,836.5 389.0,835.0 391.0,834.9 393.0,834.1 395.0,835.5 397.0,835.5 399.0,835.3 401.0,837.2 403.0,837.2 405.0,836.3 407.0,835.5 409.0,835.5 411.0,836.7 413.0,834.9 415.0,834.9 417.0,833.9 419.0,835.9 421.0,835.9 423.0,835.8 425.0,834.7 427.0,834.7 429.0,833.8 431.0,835.2 433.0,835.2 435.0,831.3 437.0,835.8 439.0,835.7 441.0,835.4 443.0,832.4 445.0,832.3 447.0,834.7 449.0,833.2 451.0,833.2 453.0,835.6 455.0,831.5 457.0,831.5 459.0,833.1 461.0,835.5 463.0,835.4 465.0,836.1 467.0,831.1 469.0,831.0 471.0,833.5 473.0,834.7 475.0,834.7 477.0,833.2 479.0,836.5 481.0,836.5 483.0,832.2 485.0,834.6 487.0,834.5 489.0,832.3 491.0,836.1 493.0,836.1 495.0,833.8 497.0,833.2 499.0,833.2 501.0,831.0 503.0,836.4 505.0,836.3 507.0,834.8 509.0,834.8 511.0,834.8 513.0,835.3 515.0,834.0 517.0,834.0 519.0,832.4 521.0,832.0 523.0,832.0 525.0,832.0 527.0,835.5 529.0,835.4 531.0,830.7 533.0,832.1 535.0,832.1 537.0,832.5 539.0,833.3 541.0,833.3 543.0,833.8 545.0,830.7 547.0,830.6 549.0,829.8 551.0,832.6 553.0,832.6 555.0,834.6 557.0,833.8 559.0,833.7 561.0,832.8 563.0,831.8 565.0,831.7 567.0,832.7 569.0,831.7 571.0,831.6 573.0,833.5 575.0,830.5 577.0,830.5 579.0,832.0 581.0,831.5 583.0,831.5 585.0,832.6 587.0,831.9 589.0,831.9 591.0,836.0 593.0,834.0 595.0,834.0 597.0,833.9 599.0,827.3 600.0,827.2 601.0,827.2 603.0,830.2 605.0,829.6 607.0,829.5 609.0,831.5 611.0,826.1 613.0,826.0 615.0,832.3 617.0,832.0 619.0,831.8 621.0,827.2 623.0,827.6 625.0,827.4 627.0,827.5 629.0,829.0 631.0,828.8 633.0,829.7 635.0,832.3 637.0,832.1 639.0,827.4 641.0,829.1 643.0,828.9 645.0,827.4 647.0,830.4 649.0,830.1 651.0,827.8 653.0,828.8 655.0,828.6 657.0,823.1 659.0,824.7 661.0,824.3 663.0,822.7 665.0,827.2 667.0,826.8 669.0,824.6 671.0,822.1 673.0,821.6 675.0,820.8 677.0,822.3 679.0,821.8 681.0,818.7 683.0,817.6 685.0,817.1 687.0,819.6 689.0,823.2 691.0,822.6 693.0,816.1 695.0,814.8 697.0,814.2 699.0,812.2 701.0,811.2 703.0,810.5 705.0,813.8 707.0,813.7 709.0,813.0 711.0,810.5 713.0,810.4 715.0,809.6 717.0,808.3 719.0,807.4 721.0,806.5 723.0,802.2 725.0,803.3 727.0,802.3 729.0,802.3 731.0,799.5 733.0,798.4 735.0,797.8 737.0,796.0 739.0,794.9 741.0,794.7 743.0,795.7 745.0,794.6 747.0,791.1 749.0,790.4 751.0,789.2 753.0,789.8 755.0,788.2 757.0,787.0 759.0,787.6 761.0,779.4 763.0,778.1 765.0,782.2 766.0,781.6 767.0,778.5 769.0,777.2 771.0,777.2 773.0,777.3 775.0,776.1 777.0,775.4 779.0,774.0 781.0,772.6 783.0,769.6 785.0,770.5 787.0,768.7 788.9,763.9 789.0,763.8 791.0,761.8 793.0,759.3 795.0,757.6 797.0,752.7 799.0,749.3 800.8,749.1 801.0,748.7 803.0,742.8 805.0,737.6 807.0,733.3 809.0,726.0 809.4,725.0 811.0,721.1 813.0,716.0 815.0,711.9 817.0,707.2 818.7,703.7 819.0,703.0 821.0,696.5 823.0,691.4 824.0,690.5 825.0,688.6 827.0,684.4 829.0,681.7 830.5,685.2 831.0,684.0 833.0,684.5 835.0,691.6 837.0,700.4 838.1,704.0 839.0,704.8 841.0,710.2 843.0,715.2 845.0,720.3 847.0,724.8 848.7,727.5 849.0,728.0 851.0,733.0 853.0,736.0 855.0,739.9 857.0,741.2 858.0,742.4 859.0,743.7 861.0,747.0 863.0,751.0 865.0,753.5 867.0,752.5 867.8,752.7 869.0,751.8 871.0,749.2 873.0,745.6 874.0,744.5 875.0,741.5 877.0,739.9 879.0,743.4 880.7,743.5 881.0,737.4 883.0,739.9 885.0,746.1 887.0,748.5 889.0,752.0 891.0,757.4 893.0,761.3 894.4,764.2 895.0,765.2 897.0,767.4 899.0,771.9 901.0,774.6 903.0,775.8 905.0,778.6 907.0,780.7 909.0,783.1 910.0,784.1 911.0,784.7 913.0,786.6 915.0,788.4 917.0,789.1 919.0,790.8 921.0,793.5 923.0,791.7 925.0,793.0 927.0,797.8 929.0,796.9 931.0,797.8 932.6,803.2 933.0,803.3 935.0,804.3 937.0,805.0 939.0,798.8 941.0,803.9 943.0,804.4 945.0,804.2 947.0,802.3 949.0,802.3 950.0,806.4 951.0,806.3 953.0,803.7 955.0,803.3 957.0,799.9 959.0,802.7 961.0,802.2 963.0,802.0 965.0,802.3 966.6,802.3 967.0,802.3 969.0,799.2 971.0,803.9 973.0,804.3 975.0,805.1 977.0,802.0 979.0,802.9 981.0,804.8 983.0,807.0 985.0,808.0 987.0,808.1 989.0,813.6 991.0,814.7 993.0,812.6 995.0,811.1 997.0,811.9 999.0,813.0 1001.0,815.2 1003.0,815.6 1005.0,821.6 1007.0,815.7 1009.0,815.9 1011.0,816.8 1013.0,818.0 1015.0,818.1 1017.0,816.9 1019.0,822.8 1021.0,823.0 1023.0,816.1 1025.0,819.4 1027.0,819.6 1029.0,818.2 1031.0,819.5 1033.0,819.6 1035.0,815.2 1037.0,822.7 1039.0,822.8 1041.0,818.1 1043.0,818.6 1045.0,818.6 1047.0,816.2 1049.0,816.8 1051.0,816.8 1053.0,820.2 1055.0,821.3 1057.0,821.3 1059.0,820.7 1061.0,821.9 1063.0,821.9 1065.0,820.7 1067.0,818.9 1069.0,818.9 1071.0,821.0 1073.0,820.3 1075.0,820.3 1077.0,818.5 1079.0,820.7 1081.0,820.7 1083.0,822.1 1085.0,819.4 1087.0,819.4 1089.0,817.9 1091.0,820.7 1093.0,820.7 1095.0,823.7 1097.0,818.3 1099.0,818.3 1101.0,818.6 1103.0,818.4 1105.0,818.4 1107.0,822.0 1109.0,814.0 1111.0,814.0 1113.0,819.8 1115.0,821.9 1116.0,821.9 1117.0,821.9 1119.0,816.8 1121.0,822.7 1123.0,822.8 1125.0,820.6 1127.0,818.2 1129.0,818.4 1131.0,820.5 1133.0,816.7 1135.0,817.1 1137.0,819.7 1139.0,825.6 1141.0,826.0 1143.0,820.2 1145.0,826.8 1147.0,827.3 1149.0,823.4 1151.0,826.2 1153.0,826.7 1155.0,825.0 1157.0,820.5 1159.0,821.0 1161.0,825.1 1163.0,827.1 1165.0,827.6 1167.0,825.1 1169.0,825.1 1171.0,825.5 1172.0,829.3 1173.0,829.4 1175.0,827.7 1177.0,828.1 1179.0,826.3 1181.0,828.8 1183.0,829.2 1185.0,832.6 1187.0,830.4 1189.0,830.8 1191.0,833.9 1193.0,835.3 1195.0,835.7 1197.0,833.3 1199.0,831.6 1201.0,832.0 1203.0,832.1 1205.0,834.7 1207.0,835.1 1209.0,837.0 1211.0,836.3 1213.0,836.6 1215.0,837.4 1217.0,836.0 1219.0,836.3 1221.0,837.8 1223.0,836.8 1225.0,837.0 1227.0,837.5 1229.0,836.1 1231.0,836.4 1233.0,836.1 1235.0,838.0 1237.0,838.2 1239.0,837.4 1241.0,837.8 1243.0,838.0 1245.0,840.6 1247.0,839.6 1249.0,839.8 1251.0,844.3 1253.0,841.5 1255.0,841.7 1257.0,839.6 1259.0,841.7 1261.0,841.8 1263.0,841.4 1265.0,840.0 1267.0,840.2 1269.0,842.7 1271.0,840.3 1273.0,840.4 1275.0,837.6 1277.0,842.7 1279.0,842.8 1281.0,841.1 1282.6,841.2 1283.0,843.9 1285.0,844.0 1287.0,841.4 1289.0,840.9 1291.0,841.0 1293.0,844.4 1295.0,841.4 1297.0,841.6 1299.0,843.1 1301.0,844.7 1303.0,844.8 1305.0,843.4 1307.0,843.3 1309.0,843.4 1311.0,843.7 1313.0,844.5 1315.0,844.6 1317.0,843.1 1319.0,844.6 1321.0,844.6 1323.0,844.7 1325.0,846.4 1327.0,846.4 1329.0,844.1 1331.0,843.7 1333.0,843.8 1335.0,845.2 1337.0,844.4 1339.0,844.4 1341.0,845.0 1343.0,844.9 1345.0,845.0 1347.0,845.8 1349.0,844.5 1350.0,844.6 1351.0,844.6 1353.0,845.0 1355.0,843.6 1357.0,843.6 1359.0,844.6 1361.0,846.1 1363.0,846.1 1365.0,844.8 1367.0,844.9 1369.0,844.9 1371.0,844.6 1373.0,845.7 1375.0,845.7 1377.0,845.5 1379.0,844.8 1381.0,844.8 1383.0,845.9 1385.0,845.7 1387.0,845.7 1389.0,846.0 1391.0,845.2 1393.0,845.3 1395.0,846.7 1397.0,846.0 1399.0,846.0 1401.0,845.7 1403.0,845.5 1405.0,845.5 1407.0,845.7 1409.0,846.4 1411.0,846.4 1413.0,845.7 1415.0,846.6 1417.0,846.6 1419.0,846.3 1421.0,846.8 1423.0,846.8 1425.0,846.5 1427.0,846.0 1429.0,846.1 1431.0,845.0 1433.0,846.3 1435.0,846.3 1437.0,846.7 1439.0,846.3 1441.0,846.3 1443.0,846.6 1445.0,846.0 1447.0,846.0 1449.0,846.1 1451.0,845.8 1453.0,845.8 1455.0,847.2 1457.0,846.5 1459.0,846.5 1461.0,846.1 1463.0,845.6 1465.0,845.7 1467.0,846.4 1469.0,847.4 1471.0,847.4 1473.0,846.8 1475.0,846.1 1477.0,846.1 1479.0,847.4 1481.0,847.5 1483.0,847.5 1485.0,847.2 1487.0,847.1 1489.0,847.1 1491.0,847.4 1493.0,847.0 1495.0,847.0 1497.0,847.2 1499.0,846.3 1501.0,846.3 1503.0,847.7 1505.0,846.9 1507.0,846.9 1509.0,848.0 1511.0,845.6 1513.0,845.6 1515.0,847.3 1517.0,847.5 1519.0,847.5 1521.0,846.7 1523.0,847.2 1525.0,847.2 1527.0,847.4 1529.0,847.3 1531.0,847.3 1533.0,846.7 1535.0,846.9 1537.0,846.9 1539.0,847.6 1541.0,847.8 1543.0,847.8 1545.0,847.1 1547.0,847.1 1549.0,847.1 1551.0,847.2 1553.0,847.7 1555.0,847.7 1557.0,846.5 1559.0,846.4 1561.0,846.4 1563.0,847.2 1565.0,846.5 1567.0,846.5 1569.0,846.9 1571.0,847.3 1573.0,847.3 1575.0,847.5 1577.0,846.6 1579.0,846.6 1581.0,847.8 1583.0,846.2 1585.0,846.2 1587.0,847.6 1589.0,846.4 1591.0,846.4 1593.0,846.6 1595.0,847.7 1597.0,847.8 1599.0,847.1 1601.0,846.9 1603.0,846.9 1605.0,847.2 1607.0,847.7 1609.0,847.7 1611.0,847.4 1613.0,847.4 1615.0,847.5 1617.0,848.1 1619.0,847.1 1621.0,847.1 1623.0,847.2 1625.0,847.2 1627.0,847.2 1629.0,848.3 1631.0,848.2 1633.0,848.2 1635.0,848.4 1637.0,847.6 1639.0,847.6 1641.0,847.5 1643.0,848.1 1645.0,848.2 1647.0,847.4 1649.0,848.2 1651.0,848.2 1653.0,848.1 1655.0,847.3 1657.0,847.3 1659.0,847.7 1661.0,847.7 1663.0,847.7 1665.0,848.8 1667.0,849.3 1669.0,849.3 1671.0,847.7 1673.0,847.8 1675.0,847.8 1677.0,846.5 1679.0,848.0 1681.0,848.0 1683.0,847.9 1685.0,847.3 1687.0,847.3 1689.0,848.4 1691.0,847.0 1693.0,847.0 1695.0,847.8 1697.0,848.1 1699.0,848.1 1700.0,847.3 1701.0,847.3 1703.0,848.5 1705.0,848.5 1707.0,848.7 1709.0,847.2 1711.0,847.2 1713.0,847.3 1715.0,848.5 1717.0,848.5 1719.0,848.1 1721.0,847.4 1723.0,847.4 1725.0,848.0 1727.0,848.1 1729.0,848.1 1731.0,848.1 1733.0,848.7 1735.0,848.7 1737.0,848.5 1739.0,849.3 1741.0,849.3 1743.0,849.1 1745.0,848.7 1747.0,848.7 1749.0,849.0 1751.0,849.1 1753.0,849.2 1755.0,848.8 1757.0,847.7 1759.0,847.7 1761.0,848.9 1763.0,848.5 1765.0,848.5 1767.0,849.4 1769.0,848.5 1771.0,848.5 1773.0,848.8 1775.0,848.7 1777.0,848.7 1779.0,849.5 1781.0,848.7 1783.0,848.7 1785.0,848.4 1787.0,848.8 1789.0,848.8 1791.0,848.4 1793.0,848.7 1795.0,848.7 1797.0,848.7 1799.0,848.8 1801.0,848.8 1803.0,849.8 1805.0,848.5 1807.0,848.5 1809.0,848.8 1811.0,848.6 1813.0,848.6 1815.0,849.2 1817.0,848.1 1819.0,848.1 1821.0,848.4 1823.0,848.8 1825.0,848.8 1827.0,849.2 1829.0,848.8 1831.0,848.8 1833.0,848.6 1835.0,848.4 1837.0,848.4 1839.0,849.2 1841.0,849.8 1843.0,849.8 1845.0,849.2 1847.0,849.1 1849.0,849.1 1851.0,849.3 1853.0,848.4 1855.0,848.5 1857.0,848.8 1859.0,848.9 1861.0,848.9 1863.0,849.2 1865.0,849.1 1867.0,849.1 1869.0,848.4 1871.0,849.8 1873.0,849.8 1875.0,850.2 1877.0,849.0 1879.0,849.0 1881.0,849.4 1883.0,849.3 1885.0,849.4 1887.0,849.7 1889.0,848.3 1891.0,848.3 1893.0,850.2 1895.0,849.0 1897.0,849.0 1899.0,850.0 1901.0,849.3 1903.0,849.4 1905.0,849.1 1907.0,849.2 1909.0,849.3 1911.0,849.9 1913.0,848.8 1915.0,848.9 1917.0,849.2 1919.0,849.1 1921.0,849.1 1923.0,848.4 1925.0,850.2 1927.0,850.2 1929.0,849.8 1931.0,849.4 1933.0,849.5 1935.0,850.2 1937.0,848.9 1939.0,848.9 1941.0,849.5 1943.0,850.6 1945.0,850.6 1947.0,850.1 1949.0,848.2 1951.0,848.2 1953.0,847.6 1955.0,849.0 1957.0,849.0 1959.0,850.2 1961.0,849.3 1963.0,849.3 1965.0,849.5 1967.0,850.0 1969.0,850.0 1971.0,849.1 1973.0,849.8 1975.0,849.8 1977.0,850.2" fill="none" stroke="#00ffff" stroke-width="12" stroke-linejoin="round" shape-rendering="crispEdges"/>
<path d="M266 828h3v4h-3zM284 842h3v4h-3zM311 842h3v4h-3zM314 827h3v4h-3zM317 841h3v4h-3zM323 827h3v4h-3zM332 841h3v4h-3zM338 827h3v4h-3zM353 827h3v4h-3zM368 827h3v4h-3zM371 841h6v4h-6zM383 841h3v4h-3zM398 840h3v4h-3zM401 826h6v4h-6zM407 840h3v4h-3zM428 826h3v4h-3zM446 826h6v4h-6zM479 825h3v4h-3zM500 839h6v4h-6zM518 824h3v4h-3zM524 838h3v4h-3zM527 824h3v4h-3zM551 824h3v4h-3zM575 837h3v4h-3zM581 837h3v4h-3zM584 837h3v4h-3zM614 821h3v4h-3zM626 834h3v4h-3zM635 819h3v4h-3zM650 831h3v4h-3zM671 813h3v4h-3zM689 808h6v4h-6zM701 805h6v4h-6zM713 800h6v4h-6zM716 813h3v4h-3zM935 793h3v4h-3zM938 808h3v4h-3zM944 810h3v4h-3zM956 809h3v4h-3zM1001 807h3v4h-3zM1004 807h3v4h-3zM1019 808h3v4h-3zM1043 810h3v4h-3zM1046 810h3v4h-3zM1049 810h6v4h-6zM1052 824h3v4h-3zM1079 810h6v4h-6zM1088 824h6v4h-6zM1124 810h6v4h-6zM1142 827h3v4h-3zM1151 815h6v4h-6zM1163 832h3v4h-3zM1166 819h6v4h-6zM1169 833h3v4h-3zM1199 825h6v4h-6zM1202 839h6v4h-6zM1232 844h6v4h-6zM1250 831h3v4h-3zM1256 846h3v4h-3zM1274 847h6v4h-6zM1286 833h3v4h-3zM1295 834h3v4h-3zM1304 848h3v4h-3zM1307 834h3v4h-3zM1310 835h3v4h-3zM1397 851h3v4h-3zM1427 851h6v4h-6zM1433 851h3v4h-3zM1499 838h3v4h-3zM1547 852h3v4h-3zM1574 838h3v4h-3zM1577 838h3v4h-3zM1583 838h3v4h-3zM1598 838h3v4h-3zM1610 852h3v4h-3zM1613 838h3v4h-3zM1619 853h3v4h-3zM1643 839h6v4h-6zM1670 853h6v4h-6zM1709 839h3v4h-3zM1754 839h3v4h-3zM1787 854h3v4h-3zM1844 840h3v4h-3zM1865 840h3v4h-3zM1871 840h6v4h-6zM1877 840h6v4h-6zM1880 854h3v4h-3zM1886 854h3v4h-3zM1892 840h3v4h-3zM1922 840h3v4h-3zM1928 840h3v4h-3zM1961 841h3v4h-3z" fill="#00ffff" shape-rendering="crispEdges"/>
<path d="M263.0,927.3 265.0,927.2 267.0,927.5 269.0,928.9 271.0,928.9 273.0,928.1 275.0,926.2 277.0,926.1 279.0,927.5 281.0,926.9 283.0,926.9 285.0,927.5 287.0,925.9 289.0,925.9 291.0,927.6 293.0,927.5 295.0,927.5 297.0,928.8 299.0,927.5 301.0,927.5 303.0,927.7 305.0,925.6 307.0,925.6 309.0,929.4 311.0,925.1 313.0,925.0 315.0,928.2 317.0,926.6 319.0,926.6 321.0,926.0 323.0,926.2 325.0,926.1 327.0,926.1 329.0,927.2 331.0,927.2 333.0,926.6 335.0,928.4 337.0,928.4 339.0,924.5 341.0,926.6 343.0,926.6 345.0,925.5 347.0,927.5 349.0,927.5 351.0,923.9 353.0,926.1 355.0,926.0 357.0,926.7 359.0,924.6 361.0,924.5 363.0,927.6 365.0,926.5 367.0,926.5 369.0,927.5 371.0,927.4 373.0,927.4 375.0,924.9 377.0,925.1 379.0,925.1 381.0,925.8 383.0,927.0 385.0,927.0 387.0,927.1 389.0,925.0 391.0,925.0 393.0,925.1 395.0,924.8 397.0,924.8 399.0,925.0 401.0,925.5 403.0,925.4 405.0,925.6 407.0,928.6 409.0,928.5 411.0,924.9 413.0,925.2 415.0,925.2 417.0,926.2 419.0,924.2 421.0,924.1 423.0,924.9 425.0,925.5 427.0,925.4 429.0,926.5 431.0,923.4 433.0,923.4 435.0,927.3 437.0,924.8 439.0,924.7 441.0,925.5 443.0,926.4 445.0,926.4 447.0,926.1 449.0,926.7 451.0,926.6 453.0,925.3 455.0,925.0 457.0,924.9 459.0,925.4 461.0,923.4 463.0,923.4 465.0,926.7 467.0,923.6 469.0,923.6 471.0,922.8 473.0,927.9 475.0,927.9 477.0,924.5 479.0,922.8 481.0,922.8 483.0,927.5 485.0,924.1 487.0,924.1 489.0,926.2 491.0,923.2 493.0,923.2 495.0,924.1 497.0,921.7 499.0,921.7 501.0,921.3 503.0,922.8 505.0,922.8 507.0,924.2 509.0,925.6 511.0,925.6 513.0,928.2 515.0,922.5 517.0,922.5 519.0,925.9 521.0,923.2 523.0,923.1 525.0,923.9 527.0,921.6 529.0,921.6 531.0,921.6 533.0,922.7 535.0,922.7 537.0,921.9 539.0,923.9 541.0,923.9 543.0,922.7 545.0,926.0 547.0,925.9 549.0,924.0 551.0,924.0 553.0,924.0 555.0,925.6 557.0,924.5 559.0,924.5 561.0,923.5 563.0,923.4 565.0,923.3 567.0,923.3 569.0,925.3 571.0,925.3 573.0,924.7 575.0,923.9 577.0,923.9 579.0,924.6 581.0,922.2 583.0,922.2 585.0,924.0 587.0,920.5 589.0,920.5 591.0,925.4 593.0,923.0 595.0,923.0 597.0,923.1 599.0,923.8 600.0,923.8 601.0,923.8 603.0,922.6 605.0,922.1 607.0,922.0 609.0,924.6 611.0,922.5 613.0,922.5 615.0,920.5 617.0,922.9 619.0,922.8 621.0,918.7 623.0,924.9 625.0,924.8 627.0,921.2 629.0,921.5 631.0,921.4 633.0,925.5 635.0,925.2 637.0,925.0 639.0,921.0 641.0,921.8 643.0,921.7 645.0,922.4 647.0,923.4 649.0,923.3 651.0,919.5 653.0,919.9 655.0,919.7 657.0,921.7 659.0,919.5 660.0,919.4 661.0,919.3 663.0,920.0 665.0,919.3 667.0,918.9 669.0,915.1 671.0,915.2 673.0,914.7 675.0,910.6 676.6,910.1 677.0,915.0 679.0,914.5 681.0,917.5 683.0,911.9 685.0,911.4 687.0,916.0 689.0,915.1 691.0,914.6 693.0,911.8 693.3,911.7 695.0,911.3 697.0,910.7 699.0,910.3 701.0,907.7 703.0,907.0 705.0,907.6 707.0,907.4 709.0,906.7 709.9,906.4 711.0,907.4 713.0,907.0 715.0,906.3 717.0,902.3 719.0,904.7 721.0,903.9 723.0,899.8 725.0,900.1 726.5,899.5 727.0,899.2 729.0,899.3 731.0,897.5 733.0,896.4 735.0,895.1 737.0,894.7 739.0,893.6 741.0,890.9 743.0,889.5 743.1,889.5 745.0,888.4 747.0,888.1 749.0,889.1 751.0,887.9 753.0,884.7 755.0,887.2 757.0,885.9 759.0,881.6 759.8,881.1 761.0,874.5 763.0,873.2 765.0,876.8 767.0,879.5 769.0,878.2 771.0,873.9 773.0,871.7 775.0,870.3 776.4,868.4 777.0,867.9 779.0,869.7 781.0,867.7 783.0,864.9 785.0,861.9 787.0,859.1 789.0,855.5 791.0,853.2 793.0,849.5 794.0,847.0 795.0,845.2 797.0,839.2 799.0,835.6 801.0,833.7 803.0,828.2 805.0,821.4 807.0,813.0 808.1,808.6 809.0,805.9 811.0,798.4 812.8,791.0 813.0,790.2 815.0,780.2 817.0,772.2 817.3,771.0 819.0,767.6 821.0,759.8 822.0,757.0 823.0,754.2 825.0,747.9 827.0,743.9 828.0,743.0 829.0,743.9 831.0,748.2 833.0,752.0 834.0,754.8 835.0,758.3 837.0,768.1 838.1,773.4 839.0,778.0 841.0,789.2 841.4,790.8 843.0,795.6 845.0,799.6 847.0,803.7 848.7,808.1 849.0,808.9 851.0,816.6 853.0,822.9 854.9,828.0 855.0,828.2 857.0,830.5 859.0,833.3 861.0,835.0 863.0,835.9 865.0,837.9 867.0,842.3 869.0,845.7 870.0,846.7 871.0,847.7 873.0,844.7 875.0,851.0 877.0,852.8 879.0,849.3 881.0,854.1 883.0,856.1 883.8,857.0 885.0,859.4 887.0,859.3 889.0,861.8 891.0,864.1 893.0,868.8 895.0,870.8 895.3,871.1 897.0,873.7 899.0,873.0 901.0,874.4 903.0,879.1 905.0,876.6 907.0,877.9 909.0,883.8 911.0,881.8 913.0,882.8 915.0,884.0 916.2,884.5 917.0,885.6 919.0,886.4 921.0,886.5 923.0,890.5 925.0,891.2 927.0,892.6 929.0,889.7 931.0,890.3 933.0,889.3 935.0,887.6 937.0,888.1 939.0,889.5 941.0,891.7 943.0,892.2 945.0,892.4 947.0,892.9 949.0,893.4 951.0,893.9 953.0,895.5 955.0,895.9 957.0,892.1 959.0,893.3 961.0,893.7 963.0,899.0 965.0,898.7 967.0,899.1 969.0,896.3 971.0,900.9 973.0,901.3 975.0,897.0 977.0,898.4 979.0,898.7 981.0,895.3 983.0,901.9 985.0,902.2 987.0,900.5 989.0,903.3 991.0,903.6 993.0,903.0 995.0,901.7 997.0,901.9 999.0,902.3 1000.0,902.4 1001.0,905.0 1003.0,905.2 1005.0,902.1 1007.0,902.3 1009.0,902.5 1011.0,903.2 1013.0,905.2 1015.0,905.4 1017.0,905.9 1019.0,908.5 1021.0,908.7 1023.0,904.0 1025.0,907.5 1027.0,907.6 1029.0,903.1 1031.0,906.3 1033.0,906.5 1035.0,905.4 1037.0,909.6 1039.0,909.7 1041.0,907.0 1043.0,904.5 1045.0,904.6 1047.0,907.3 1049.0,906.8 1051.0,906.8 1053.0,905.2 1055.0,905.3 1057.0,905.3 1059.0,903.7 1061.0,913.3 1063.0,913.3 1065.0,906.5 1067.0,908.6 1069.0,908.6 1071.0,903.0 1073.0,903.2 1075.0,903.1 1077.0,905.5 1079.0,905.4 1081.0,905.4 1083.0,907.7 1085.0,903.1 1087.0,903.0 1089.0,906.8 1091.0,909.2 1093.0,909.2 1095.0,902.9 1097.0,907.5 1099.0,907.4 1101.0,902.6 1103.0,905.9 1105.0,905.9 1107.0,905.9 1109.0,909.4 1111.0,909.3 1113.0,903.1 1115.0,905.3 1116.0,905.3 1117.0,905.3 1119.0,907.5 1121.0,902.2 1123.0,902.5 1125.0,905.6 1127.0,904.0 1129.0,904.5 1131.0,905.4 1133.0,909.0 1135.0,909.6 1137.0,910.2 1139.0,914.8 1141.0,915.5 1143.0,913.7 1145.0,914.2 1147.0,914.9 1149.0,912.6 1151.0,913.1 1153.0,913.8 1155.0,915.5 1157.0,911.1 1159.0,911.9 1161.0,920.6 1163.0,916.5 1165.0,917.0 1167.0,916.8 1169.0,918.5 1171.0,918.9 1172.0,921.9 1173.0,922.1 1175.0,923.2 1177.0,923.5 1179.0,920.6 1181.0,922.6 1183.0,922.9 1185.0,922.3 1187.0,920.8 1189.0,921.1 1191.0,923.7 1193.0,923.7 1195.0,924.0 1197.0,921.4 1199.0,926.7 1201.0,926.9 1203.0,922.2 1205.0,925.9 1207.0,926.1 1209.0,924.0 1211.0,924.7 1213.0,925.0 1215.0,925.5 1217.0,928.2 1219.0,928.4 1221.0,925.2 1223.0,927.3 1225.0,927.5 1227.0,930.7 1229.0,927.1 1231.0,927.3 1233.0,928.6 1235.0,929.9 1237.0,930.1 1239.0,928.2 1241.0,930.1 1243.0,930.3 1245.0,928.6 1247.0,931.0 1249.0,931.1 1251.0,930.3 1253.0,928.9 1255.0,929.0 1257.0,932.8 1259.0,930.6 1261.0,930.8 1263.0,930.6 1265.0,929.8 1267.0,930.0 1269.0,930.8 1271.0,931.5 1273.0,931.6 1275.0,932.1 1277.0,933.6 1279.0,933.7 1281.0,930.5 1282.6,930.6 1283.0,932.0 1285.0,932.1 1287.0,934.3 1289.0,933.1 1291.0,933.3 1293.0,933.7 1295.0,935.4 1297.0,935.5 1299.0,934.1 1301.0,934.4 1303.0,934.5 1305.0,934.1 1307.0,936.3 1309.0,936.4 1311.0,935.8 1313.0,934.0 1315.0,934.2 1317.0,935.6 1319.0,934.1 1321.0,934.3 1323.0,936.5 1325.0,936.2 1327.0,936.3 1329.0,935.7 1331.0,935.6 1333.0,935.8 1335.0,934.9 1337.0,936.8 1339.0,936.8 1341.0,936.3 1343.0,936.3 1345.0,936.3 1347.0,937.0 1349.0,936.2 1350.0,936.2 1351.0,936.2 1353.0,936.3 1355.0,936.2 1357.0,936.3 1359.0,935.9 1361.0,938.1 1363.0,938.2 1365.0,936.6 1367.0,936.5 1369.0,936.6 1371.0,937.3 1373.0,934.9 1375.0,934.9 1377.0,936.8 1379.0,936.8 1381.0,936.9 1383.0,936.3 1385.0,937.2 1387.0,937.2 1389.0,935.7 1391.0,936.9 1393.0,936.9 1395.0,937.5 1397.0,935.6 1399.0,935.6 1401.0,936.1 1403.0,936.9 1405.0,936.9 1407.0,937.0 1409.0,936.6 1411.0,936.6 1413.0,937.2 1415.0,937.2 1417.0,937.2 1419.0,936.2 1421.0,937.0 1423.0,937.0 1425.0,936.3 1427.0,935.8 1429.0,935.8 1431.0,935.6 1433.0,937.7 1435.0,937.7 1437.0,937.0 1439.0,938.3 1441.0,938.3 1443.0,936.2 1445.0,936.9 1447.0,936.9 1449.0,937.3 1451.0,937.0 1453.0,937.1 1455.0,937.4 1457.0,937.2 1459.0,937.2 1461.0,936.8 1463.0,935.6 1465.0,935.6 1467.0,936.5 1469.0,938.4 1471.0,938.4 1473.0,937.7 1475.0,938.2 1477.0,938.2 1479.0,936.8 1481.0,937.1 1483.0,937.1 1485.0,936.6 1487.0,937.5 1489.0,937.6 1491.0,937.3 1493.0,937.6 1495.0,937.6 1497.0,938.7 1499.0,936.6 1501.0,936.6 1503.0,937.9 1505.0,936.2 1507.0,936.1 1509.0,938.2 1511.0,936.9 1513.0,936.9 1515.0,937.3 1517.0,937.4 1519.0,937.4 1521.0,938.7 1523.0,937.3 1525.0,937.3 1527.0,936.9 1529.0,936.3 1531.0,936.3 1533.0,937.6 1535.0,936.6 1537.0,936.6 1539.0,936.9 1541.0,937.3 1543.0,937.3 1545.0,938.0 1547.0,936.7 1549.0,936.7 1551.0,938.0 1553.0,939.0 1555.0,939.0 1557.0,936.0 1559.0,938.7 1561.0,938.7 1563.0,939.4 1565.0,936.9 1567.0,936.9 1569.0,938.0 1571.0,936.1 1573.0,936.1 1575.0,937.8 1577.0,937.1 1579.0,937.1 1581.0,937.7 1583.0,936.6 1585.0,936.6 1587.0,936.6 1589.0,937.0 1591.0,937.0 1593.0,936.8 1595.0,936.8 1597.0,936.8 1599.0,937.3 1601.0,936.4 1603.0,936.4 1605.0,937.3 1607.0,938.0 1609.0,938.0 1611.0,935.1 1613.0,937.7 1615.0,937.7 1617.0,936.7 1619.0,936.4 1621.0,936.4 1623.0,936.1 1625.0,936.6 1627.0,936.6 1629.0,936.7 1631.0,937.9 1633.0,937.9 1635.0,936.2 1637.0,938.6 1639.0,938.6 1641.0,936.7 1643.0,938.3 1645.0,938.3 1647.0,938.7 1649.0,936.3 1651.0,936.3 1653.0,938.7 1655.0,939.9 1657.0,939.9 1659.0,937.2 1661.0,938.3 1663.0,938.3 1665.0,937.6 1667.0,937.8 1669.0,937.8 1671.0,937.5 1673.0,937.2 1675.0,937.2 1677.0,938.6 1679.0,938.8 1681.0,938.8 1683.0,937.8 1685.0,939.5 1687.0,939.5 1689.0,939.1 1691.0,938.7 1693.0,938.7 1695.0,937.2 1697.0,940.0 1699.0,940.0 1700.0,939.4 1701.0,939.4 1703.0,935.7 1705.0,935.7 1707.0,936.8 1709.0,937.5 1711.0,937.5 1713.0,939.1 1715.0,939.4 1717.0,939.5 1719.0,937.8 1721.0,938.4 1723.0,938.4 1725.0,938.9 1727.0,936.8 1729.0,936.8 1731.0,938.9 1733.0,937.9 1735.0,937.9 1737.0,938.5 1739.0,938.2 1741.0,938.2 1743.0,937.0 1745.0,937.3 1747.0,937.3 1749.0,938.4 1751.0,938.5 1753.0,938.5 1755.0,938.1 1757.0,939.6 1759.0,939.6 1761.0,938.1 1763.0,937.2 1765.0,937.2 1767.0,938.2 1769.0,938.4 1771.0,938.4 1773.0,938.5 1775.0,939.9 1777.0,939.9 1779.0,939.2 1781.0,939.8 1783.0,939.8 1785.0,939.4 1787.0,938.6 1789.0,938.6 1791.0,939.9 1793.0,938.5 1795.0,938.6 1797.0,939.1 1799.0,937.8 1801.0,937.8 1803.0,939.0 1805.0,938.6 1807.0,938.6 1809.0,939.4 1811.0,940.9 1813.0,941.0 1815.0,941.6 1817.0,940.2 1819.0,940.2 1821.0,939.1 1823.0,940.0 1825.0,940.1 1827.0,939.5 1829.0,938.6 1831.0,938.6 1833.0,939.2 1835.0,939.1 1837.0,939.1 1839.0,938.8 1841.0,940.8 1843.0,940.8 1845.0,938.9 1847.0,939.0 1849.0,939.0 1851.0,940.2 1853.0,938.9 1855.0,938.9 1857.0,938.5 1859.0,938.8 1861.0,938.8 1863.0,940.2 1865.0,940.1 1867.0,940.1 1869.0,940.1 1871.0,939.4 1873.0,939.4 1875.0,939.0 1877.0,940.8 1879.0,940.8 1881.0,938.6 1883.0,939.8 1885.0,939.8 1887.0,938.8 1889.0,939.7 1891.0,939.7 1893.0,940.0 1895.0,941.3 1897.0,941.3 1899.0,937.5 1901.0,941.5 1903.0,941.5 1905.0,939.5 1907.0,940.6 1909.0,940.6 1911.0,941.1 1913.0,939.7 1915.0,939.8 1917.0,940.4 1919.0,941.0 1921.0,941.0 1923.0,940.5 1925.0,940.0 1927.0,940.0 1929.0,940.8 1931.0,940.8 1933.0,940.8 1935.0,939.5 1937.0,941.9 1939.0,942.0 1941.0,941.0 1943.0,938.9 1945.0,938.9 1947.0,940.3 1949.0,942.4 1951.0,942.4 1953.0,942.3 1955.0,941.3 1957.0,941.3 1959.0,939.9 1961.0,941.0 1963.0,941.0 1965.0,942.0 1967.0,941.5 1969.0,941.6 1971.0,941.1 1973.0,940.9 1975.0,940.9 1977.0,941.9" fill="none" stroke="#ff00ff" stroke-width="12" stroke-linejoin="round" shape-rendering="crispEdges"/>
<path d="M263 933h3v4h-3zM272 919h3v4h-3zM281 918h6v4h-6zM299 918h3v4h-3zM317 918h3v4h-3zM320 932h3v4h-3zM341 918h3v4h-3zM344 918h6v4h-6zM359 931h3v4h-3zM371 931h3v4h-3zM377 917h3v4h-3zM386 917h6v4h-6zM395 931h3v4h-3zM416 931h3v4h-3zM419 931h3v4h-3zM425 930h3v4h-3zM452 916h6v4h-6zM455 916h3v4h-3zM467 930h6v4h-6zM470 930h3v4h-3zM494 915h6v4h-6zM506 915h3v4h-3zM527 929h6v4h-6zM536 929h3v4h-3zM557 915h6v4h-6zM563 915h3v4h-3zM590 928h6v4h-6zM596 914h3v4h-3zM611 927h6v4h-6zM641 926h3v4h-3zM650 925h3v4h-3zM665 909h3v4h-3zM668 922h3v4h-3zM710 911h3v4h-3zM734 900h3v4h-3zM740 897h6v4h-6zM827 749h3v4h-3zM917 876h6v4h-6zM929 894h3v4h-3zM935 896h3v4h-3zM947 884h6v4h-6zM983 891h6v4h-6zM1031 896h3v4h-3zM1070 911h6v4h-6zM1079 897h3v4h-3zM1091 896h3v4h-3zM1100 910h3v4h-3zM1118 896h3v4h-3zM1124 897h3v4h-3zM1142 902h3v4h-3zM1145 903h3v4h-3zM1148 904h6v4h-6zM1166 924h3v4h-3zM1208 931h3v4h-3zM1217 932h6v4h-6zM1226 933h3v4h-3zM1235 920h6v4h-6zM1247 935h6v4h-6zM1253 935h3v4h-3zM1277 937h6v4h-6zM1283 938h3v4h-3zM1289 938h6v4h-6zM1298 925h3v4h-3zM1301 939h3v4h-3zM1328 927h3v4h-3zM1349 942h6v4h-6zM1352 928h3v4h-3zM1370 942h3v4h-3zM1379 942h3v4h-3zM1388 942h3v4h-3zM1406 928h3v4h-3zM1424 942h6v4h-6zM1469 942h3v4h-3zM1472 928h3v4h-3zM1475 942h3v4h-3zM1496 942h3v4h-3zM1502 928h3v4h-3zM1514 942h3v4h-3zM1517 942h3v4h-3zM1565 943h3v4h-3zM1568 943h6v4h-6zM1598 929h3v4h-3zM1604 943h3v4h-3zM1616 943h6v4h-6zM1634 929h6v4h-6zM1685 943h3v4h-3zM1706 943h6v4h-6zM1730 943h3v4h-3zM1736 943h3v4h-3zM1742 929h3v4h-3zM1754 929h3v4h-3zM1790 930h3v4h-3zM1817 930h3v4h-3zM1826 930h3v4h-3zM1832 944h6v4h-6zM1841 930h6v4h-6zM1844 930h3v4h-3zM1874 931h6v4h-6zM1919 946h6v4h-6zM1925 932h3v4h-3zM1937 946h3v4h-3zM1940 932h3v4h-3z" fill="#ff00ff" shape-rendering="crispEdges"/>
<path d="M263.0,1032.4 265.0,1032.4 267.0,1032.0 269.0,1032.7 271.0,1032.7 273.0,1033.2 275.0,1033.7 277.0,1033.7 279.0,1033.0 281.0,1032.5 283.0,1032.5 285.0,1032.3 287.0,1033.5 289.0,1033.5 291.0,1034.2 293.0,1033.2 295.0,1033.2 297.0,1032.0 299.0,1032.2 301.0,1032.2 303.0,1034.3 305.0,1033.1 307.0,1033.1 309.0,1031.5 311.0,1032.9 313.0,1032.9 315.0,1032.0 317.0,1032.4 319.0,1032.4 321.0,1032.5 323.0,1032.3 325.0,1032.3 327.0,1033.5 329.0,1032.9 331.0,1032.9 333.0,1032.4 335.0,1033.3 337.0,1033.3 339.0,1033.7 341.0,1031.5 343.0,1031.5 345.0,1032.7 347.0,1032.1 349.0,1032.1 351.0,1032.8 353.0,1031.8 355.0,1031.8 357.0,1033.0 359.0,1033.0 361.0,1033.0 363.0,1032.7 365.0,1032.0 367.0,1032.0 369.0,1032.6 371.0,1031.9 373.0,1031.9 375.0,1031.7 377.0,1033.2 379.0,1033.2 381.0,1031.9 383.0,1034.2 385.0,1034.2 387.0,1033.7 389.0,1031.0 391.0,1031.0 393.0,1033.3 395.0,1031.9 397.0,1031.9 399.0,1033.0 401.0,1033.0 403.0,1033.0 405.0,1030.9 407.0,1032.8 409.0,1032.8 411.0,1032.7 413.0,1034.0 415.0,1034.0 417.0,1031.8 419.0,1033.8 421.0,1033.8 423.0,1031.8 425.0,1032.6 427.0,1032.6 429.0,1032.1 431.0,1034.6 433.0,1034.6 435.0,1033.6 437.0,1035.6 439.0,1035.7 441.0,1033.7 443.0,1033.9 445.0,1033.9 447.0,1033.9 449.0,1032.3 451.0,1032.3 453.0,1032.9 455.0,1034.5 457.0,1034.5 459.0,1032.6 461.0,1033.2 463.0,1033.2 465.0,1033.0 467.0,1033.7 469.0,1033.7 471.0,1032.6 473.0,1032.8 475.0,1032.8 477.0,1033.3 479.0,1033.1 481.0,1033.1 483.0,1032.0 485.0,1034.0 487.0,1034.0 489.0,1031.5 491.0,1031.6 493.0,1031.6 495.0,1031.5 497.0,1034.1 499.0,1034.1 501.0,1032.6 503.0,1031.8 505.0,1031.8 507.0,1031.6 509.0,1033.5 511.0,1033.5 513.0,1031.7 515.0,1031.4 517.0,1031.4 519.0,1033.7 521.0,1031.5 523.0,1031.5 525.0,1032.6 527.0,1032.9 529.0,1032.9 531.0,1032.4 533.0,1032.9 535.0,1032.9 537.0,1034.6 539.0,1032.3 541.0,1032.3 543.0,1031.4 545.0,1030.6 547.0,1030.6 549.0,1032.7 551.0,1032.5 553.0,1032.5 555.0,1033.2 557.0,1032.3 559.0,1032.3 561.0,1032.3 563.0,1032.0 565.0,1032.0 567.0,1032.2 569.0,1033.1 571.0,1033.1 573.0,1032.4 575.0,1033.0 577.0,1033.0 579.0,1035.3 581.0,1033.5 583.0,1033.5 585.0,1030.8 587.0,1035.1 589.0,1035.1 591.0,1033.3 593.0,1031.6 595.0,1031.6 597.0,1034.0 599.0,1032.8 600.0,1032.8 601.0,1032.8 603.0,1032.0 605.0,1031.9 607.0,1031.9 609.0,1031.3 611.0,1032.7 613.0,1032.6 615.0,1033.9 617.0,1031.9 619.0,1031.8 621.0,1032.8 623.0,1034.7 625.0,1034.6 627.0,1030.1 629.0,1032.0 631.0,1031.9 633.0,1030.9 635.0,1029.6 637.0,1029.5 639.0,1029.3 641.0,1030.6 643.0,1030.5 645.0,1030.9 647.0,1029.2 649.0,1029.0 651.0,1029.7 653.0,1030.6 655.0,1030.4 657.0,1029.4 659.0,1030.2 660.0,1030.1 661.0,1029.9 663.0,1028.9 665.0,1028.5 667.0,1027.9 669.0,1029.6 671.0,1027.1 673.0,1026.5 675.0,1025.1 676.6,1024.7 677.0,1025.7 679.0,1025.3 681.0,1021.7 683.0,1022.4 685.0,1021.9 687.0,1023.7 689.0,1022.9 691.0,1022.5 693.0,1023.9 693.3,1023.9 695.0,1020.4 697.0,1019.9 699.0,1016.4 701.0,1023.4 703.0,1023.0 705.0,1020.7 707.0,1015.5 709.0,1015.0 709.9,1014.7 711.0,1019.5 713.0,1015.9 715.0,1015.0 717.0,1010.4 719.0,1012.1 721.0,1011.0 723.0,1009.7 725.0,1012.8 726.5,1012.2 727.0,1012.0 729.0,1006.3 731.0,1006.5 733.0,1005.7 735.0,1004.8 737.0,1003.7 739.0,1002.9 741.0,1001.0 743.0,1002.5 743.1,1002.4 745.0,1001.7 747.0,1002.8 749.0,1001.1 751.0,1000.4 753.0,996.4 755.0,995.2 757.0,994.4 759.0,996.0 759.8,995.6 761.0,993.4 763.0,992.3 765.0,991.2 767.0,988.0 769.0,986.6 771.0,991.2 773.0,987.7 775.0,985.7 776.4,981.4 777.0,980.8 779.0,981.0 781.0,978.0 783.0,975.1 785.0,967.2 787.0,963.6 789.0,962.2 791.0,959.0 793.0,955.8 795.0,954.5 797.0,950.9 799.0,948.3 801.0,945.0 801.3,944.4 803.0,940.9 805.0,935.5 807.0,931.2 809.0,925.8 809.6,924.3 811.0,920.9 813.0,913.5 815.0,908.5 817.0,903.3 817.9,900.7 819.0,899.0 821.0,886.4 823.0,877.1 824.6,873.5 825.0,873.8 827.0,876.9 829.0,880.8 831.0,886.2 833.0,892.3 834.6,896.6 835.0,897.6 837.0,902.9 839.0,908.6 841.0,915.5 842.9,922.6 843.0,922.9 845.0,928.7 847.0,934.6 849.0,941.6 851.0,944.3 851.2,944.7 853.0,947.8 855.0,949.0 857.0,952.1 859.0,954.9 859.5,955.6 861.0,961.2 863.0,962.0 865.0,965.3 867.0,966.4 869.0,971.0 870.0,972.1 871.0,973.1 873.0,976.0 875.0,979.8 877.0,981.5 879.0,979.4 881.0,983.8 883.0,985.2 885.0,986.7 887.0,985.1 889.0,986.1 890.0,987.6 891.0,988.1 893.0,993.0 895.0,993.9 897.0,994.6 899.0,993.6 901.0,994.4 903.0,993.9 905.0,996.3 907.0,996.9 909.0,994.8 910.0,995.1 911.0,995.5 913.0,996.1 915.0,994.9 917.0,997.3 919.0,997.9 921.0,998.1 923.0,1005.0 925.0,1005.5 927.0,999.3 929.0,1003.1 930.0,1003.3 931.0,1003.5 933.0,1004.1 935.0,1001.1 937.0,1001.5 939.0,1005.0 941.0,997.7 943.0,998.1 945.0,1003.7 947.0,1005.9 949.0,1006.2 950.0,998.8 951.0,999.0 953.0,1002.2 955.0,1002.5 957.0,1008.0 959.0,1005.2 961.0,1005.5 963.0,1003.8 965.0,1005.8 967.0,1006.1 969.0,1006.0 969.7,1006.1 971.0,1009.3 973.0,1009.6 975.0,1009.4 977.0,1008.0 979.0,1008.4 981.0,1007.8 983.0,1009.6 985.0,1010.0 987.0,1013.5 989.0,1011.6 989.7,1011.7 991.0,1011.9 993.0,1012.9 995.0,1011.5 997.0,1011.8 999.0,1009.5 1001.0,1011.2 1003.0,1011.5 1005.0,1015.0 1007.0,1013.9 1009.0,1014.1 1009.6,1014.2 1011.0,1011.7 1013.0,1010.1 1015.0,1010.2 1017.0,1014.6 1019.0,1013.6 1021.0,1013.7 1023.0,1013.8 1025.0,1014.0 1027.0,1014.1 1029.0,1015.7 1031.0,1015.8 1033.0,1015.9 1035.0,1017.7 1037.0,1017.7 1039.0,1017.8 1041.0,1018.9 1043.0,1017.6 1045.0,1017.7 1047.0,1014.8 1049.0,1015.6 1051.0,1015.7 1053.0,1017.1 1055.0,1015.1 1057.0,1015.1 1059.0,1017.4 1061.0,1018.9 1063.0,1019.0 1065.0,1013.9 1067.0,1011.4 1067.5,1011.4 1069.0,1011.4 1071.0,1019.0 1073.0,1016.0 1075.0,1015.9 1077.0,1017.6 1079.0,1012.4 1081.0,1012.3 1083.0,1020.0 1085.0,1017.4 1087.0,1017.3 1089.0,1015.0 1091.0,1014.3 1093.0,1014.2 1095.0,1015.3 1097.0,1014.5 1099.0,1014.5 1101.0,1014.1 1103.0,1011.9 1105.0,1011.8 1107.0,1017.9 1109.0,1014.5 1111.0,1014.5 1111.5,1014.5 1113.0,1014.8 1115.0,1014.9 1117.0,1015.1 1119.0,1009.3 1121.0,1016.5 1123.0,1016.7 1125.0,1015.0 1127.0,1015.5 1129.0,1015.8 1131.0,1017.1 1133.0,1015.1 1135.0,1015.5 1137.0,1020.1 1139.0,1017.0 1141.0,1017.5 1143.0,1017.5 1145.0,1018.0 1147.0,1018.4 1149.0,1021.1 1151.0,1022.9 1153.0,1023.2 1155.0,1020.6 1155.6,1020.7 1157.0,1018.9 1159.0,1019.2 1161.0,1025.2 1163.0,1020.8 1165.0,1021.2 1167.0,1026.4 1169.0,1024.0 1171.0,1024.3 1173.0,1023.3 1175.0,1023.7 1177.0,1024.0 1179.0,1026.6 1181.0,1027.8 1183.0,1028.1 1185.0,1026.2 1187.0,1028.8 1189.0,1029.1 1191.0,1031.6 1193.0,1027.4 1195.0,1027.7 1197.0,1026.2 1199.0,1026.7 1201.0,1027.0 1203.0,1026.7 1205.0,1028.4 1207.0,1028.7 1209.0,1028.8 1211.0,1028.0 1213.0,1028.3 1214.0,1031.8 1215.0,1031.9 1217.0,1026.6 1219.0,1026.9 1221.0,1029.5 1223.0,1035.5 1225.0,1035.7 1227.0,1034.3 1229.0,1033.7 1231.0,1034.0 1233.0,1034.2 1235.0,1036.5 1237.0,1036.8 1239.0,1035.1 1241.0,1034.6 1243.0,1034.9 1245.0,1033.2 1247.0,1035.2 1249.0,1035.4 1251.0,1034.7 1253.0,1035.0 1255.0,1035.3 1257.0,1035.5 1259.0,1036.7 1261.0,1036.9 1263.0,1036.7 1265.0,1038.4 1267.0,1038.6 1269.0,1036.0 1271.0,1037.6 1273.0,1037.8 1275.0,1040.4 1277.0,1038.3 1279.0,1038.5 1281.0,1040.0 1283.0,1040.0 1285.0,1040.1 1287.0,1040.4 1289.0,1039.9 1291.0,1040.1 1293.0,1038.0 1295.0,1039.3 1297.0,1039.4 1299.0,1039.5 1301.0,1038.6 1303.0,1038.7 1305.0,1039.8 1307.0,1039.3 1309.0,1039.5 1311.0,1039.5 1313.0,1040.8 1315.0,1040.9 1317.0,1040.9 1319.0,1040.6 1321.0,1040.7 1323.0,1040.6 1325.0,1041.0 1327.0,1041.0 1329.0,1041.2 1331.0,1041.3 1333.0,1041.3 1335.0,1041.6 1337.0,1041.5 1339.0,1041.5 1341.0,1042.1 1343.0,1042.2 1345.0,1042.2 1347.0,1042.2 1349.0,1041.6 1350.0,1041.6 1351.0,1041.6 1353.0,1041.7 1355.0,1042.3 1357.0,1042.3 1359.0,1042.0 1361.0,1042.1 1363.0,1042.1 1365.0,1040.7 1367.0,1040.6 1369.0,1040.6 1371.0,1042.5 1373.0,1042.5 1375.0,1042.5 1377.0,1043.2 1379.0,1042.8 1381.0,1042.8 1383.0,1042.5 1385.0,1042.4 1387.0,1042.5 1389.0,1041.6 1391.0,1043.0 1393.0,1043.0 1395.0,1042.2 1397.0,1042.9 1399.0,1042.9 1401.0,1042.7 1403.0,1042.8 1405.0,1042.8 1407.0,1043.2 1409.0,1042.4 1411.0,1042.4 1413.0,1042.5 1415.0,1042.3 1417.0,1042.3 1419.0,1042.6 1421.0,1043.8 1423.0,1043.9 1425.0,1042.7 1427.0,1043.6 1429.0,1043.6 1431.0,1043.4 1433.0,1043.4 1435.0,1043.4 1437.0,1043.5 1439.0,1042.4 1441.0,1042.4 1443.0,1043.3 1445.0,1044.0 1447.0,1044.1 1449.0,1042.7 1451.0,1043.1 1453.0,1043.1 1455.0,1042.8 1457.0,1043.4 1459.0,1043.4 1461.0,1042.6 1463.0,1044.2 1465.0,1044.2 1467.0,1043.1 1469.0,1042.4 1471.0,1042.4 1473.0,1044.4 1475.0,1044.0 1477.0,1044.0 1479.0,1043.7 1481.0,1043.8 1483.0,1043.8 1485.0,1043.3 1487.0,1043.4 1489.0,1043.4 1491.0,1044.0 1493.0,1044.1 1495.0,1044.1 1497.0,1044.1 1499.0,1043.7 1501.0,1043.7 1503.0,1043.4 1505.0,1043.5 1507.0,1043.6 1509.0,1044.4 1511.0,1044.6 1513.0,1044.6 1515.0,1043.5 1517.0,1043.5 1519.0,1043.5 1521.0,1044.5 1523.0,1044.2 1525.0,1044.3 1527.0,1044.3 1529.0,1043.1 1531.0,1043.1 1533.0,1043.7 1535.0,1043.6 1537.0,1043.6 1539.0,1044.1 1541.0,1042.9 1543.0,1043.0 1545.0,1044.7 1547.0,1044.2 1549.0,1044.2 1551.0,1044.3 1553.0,1043.3 1555.0,1043.4 1557.0,1044.1 1559.0,1044.9 1561.0,1044.9 1563.0,1043.2 1565.0,1044.3 1567.0,1044.3 1569.0,1044.6 1571.0,1043.8 1573.0,1043.8 1575.0,1044.7 1577.0,1044.0 1579.0,1044.0 1581.0,1045.0 1583.0,1044.6 1585.0,1044.6 1587.0,1044.4 1589.0,1045.5 1591.0,1045.5 1593.0,1044.8 1595.0,1045.1 1597.0,1045.1 1599.0,1043.7 1601.0,1044.0 1603.0,1044.0 1605.0,1044.9 1607.0,1045.0 1609.0,1045.0 1611.0,1044.4 1613.0,1044.9 1615.0,1044.9 1617.0,1043.9 1619.0,1044.6 1621.0,1044.6 1623.0,1043.8 1625.0,1044.7 1627.0,1044.8 1629.0,1044.3 1631.0,1044.2 1633.0,1044.2 1635.0,1044.6 1637.0,1045.7 1639.0,1045.7 1641.0,1044.0 1643.0,1044.3 1645.0,1044.3 1647.0,1045.3 1649.0,1044.4 1651.0,1044.4 1653.0,1045.8 1655.0,1044.8 1657.0,1044.8 1659.0,1044.8 1661.0,1045.0 1663.0,1045.0 1665.0,1045.8 1667.0,1045.2 1669.0,1045.2 1671.0,1045.1 1673.0,1044.9 1675.0,1045.0 1677.0,1043.9 1679.0,1044.3 1681.0,1044.3 1683.0,1045.7 1685.0,1045.3 1687.0,1045.4 1689.0,1045.2 1691.0,1045.3 1693.0,1045.3 1695.0,1044.6 1697.0,1045.1 1699.0,1045.1 1701.0,1044.4 1703.0,1045.2 1705.0,1045.2 1707.0,1044.5 1709.0,1044.8 1711.0,1044.8 1713.0,1045.3 1715.0,1044.8 1717.0,1044.8 1719.0,1045.4 1721.0,1045.3 1723.0,1045.3 1725.0,1045.2 1727.0,1045.8 1729.0,1045.8 1731.0,1044.2 1733.0,1044.1 1735.0,1044.1 1737.0,1045.4 1739.0,1045.6 1741.0,1045.7 1743.0,1046.3 1745.0,1045.6 1747.0,1045.6 1749.0,1045.6 1751.0,1044.6 1753.0,1044.6 1755.0,1045.6 1757.0,1045.6 1759.0,1045.6 1761.0,1044.5 1763.0,1044.6 1765.0,1044.6 1767.0,1045.1 1769.0,1045.4 1771.0,1045.4 1773.0,1043.4 1775.0,1045.2 1777.0,1045.3 1779.0,1045.4 1781.0,1045.1 1783.0,1045.1 1785.0,1045.4 1787.0,1045.5 1789.0,1045.5 1791.0,1044.6 1793.0,1045.5 1795.0,1045.5 1797.0,1045.1 1799.0,1044.7 1801.0,1044.7 1803.0,1045.4 1805.0,1046.2 1807.0,1046.2 1809.0,1044.4 1811.0,1044.3 1813.0,1044.3 1815.0,1044.3 1817.0,1046.5 1819.0,1046.5 1821.0,1045.2 1823.0,1045.3 1825.0,1045.3 1827.0,1044.9 1829.0,1044.8 1831.0,1044.8 1833.0,1044.1 1835.0,1045.5 1837.0,1045.5 1839.0,1045.5 1841.0,1044.2 1843.0,1044.2 1845.0,1044.8 1847.0,1044.9 1849.0,1044.9 1851.0,1045.4 1853.0,1045.5 1855.0,1045.5 1857.0,1046.1 1859.0,1046.2 1861.0,1046.2 1863.0,1046.1 1865.0,1046.2 1867.0,1046.2 1869.0,1044.7 1871.0,1045.1 1873.0,1045.1 1875.0,1046.1 1877.0,1045.6 1879.0,1045.6 1881.0,1045.4 1883.0,1044.3 1885.0,1044.3 1887.0,1044.3 1889.0,1045.9 1891.0,1045.9 1893.0,1045.7 1895.0,1045.3 1897.0,1045.3 1899.0,1045.2 1901.0,1044.4 1903.0,1044.4 1905.0,1045.7 1907.0,1046.1 1909.0,1046.1 1911.0,1046.5 1913.0,1045.5 1915.0,1045.5 1917.0,1045.4 1919.0,1044.8 1921.0,1044.8 1923.0,1046.2 1925.0,1046.5 1927.0,1046.5 1929.0,1045.1 1931.0,1045.7 1933.0,1045.7 1935.0,1045.5 1937.0,1045.1 1939.0,1045.1 1941.0,1044.0 1943.0,1045.3 1945.0,1045.3 1947.0,1045.9 1949.0,1044.6 1951.0,1044.6 1953.0,1045.0 1955.0,1043.5 1957.0,1043.5 1959.0,1046.3 1961.0,1045.8 1963.0,1045.8 1965.0,1045.5 1967.0,1045.3 1969.0,1045.3 1971.0,1045.1 1973.0,1045.5 1975.0,1045.5 1977.0,1045.3" fill="none" stroke="#0000ff" stroke-width="12" stroke-linejoin="round" shape-rendering="crispEdges"/>
<path d="M263 1038h3v4h-3zM272 1038h6v4h-6zM296 1038h3v4h-3zM317 1024h3v4h-3zM323 1024h3v4h-3zM332 1038h3v4h-3zM335 1024h3v4h-3zM341 1038h3v4h-3zM371 1038h6v4h-6zM374 1038h6v4h-6zM377 1024h3v4h-3zM380 1038h3v4h-3zM413 1038h3v4h-3zM416 1038h3v4h-3zM425 1038h3v4h-3zM464 1038h3v4h-3zM467 1024h3v4h-3zM470 1024h6v4h-6zM482 1038h3v4h-3zM494 1038h3v4h-3zM497 1024h6v4h-6zM503 1038h6v4h-6zM506 1024h6v4h-6zM542 1038h3v4h-3zM560 1038h3v4h-3zM563 1024h3v4h-3zM593 1024h3v4h-3zM596 1024h6v4h-6zM617 1037h3v4h-3zM620 1023h3v4h-3zM653 1020h3v4h-3zM656 1020h3v4h-3zM674 1016h6v4h-6zM680 1014h3v4h-3zM686 1027h6v4h-6zM713 1020h6v4h-6zM716 1005h3v4h-3zM746 991h3v4h-3zM752 1003h6v4h-6zM758 987h3v4h-3zM902 998h6v4h-6zM905 999h6v4h-6zM914 1002h3v4h-3zM929 992h6v4h-6zM932 992h6v4h-6zM974 1013h3v4h-3zM980 1000h3v4h-3zM983 1001h3v4h-3zM1016 1019h3v4h-3zM1025 1006h3v4h-3zM1058 1021h3v4h-3zM1067 1021h3v4h-3zM1082 1021h3v4h-3zM1091 1006h3v4h-3zM1097 1006h3v4h-3zM1124 1021h3v4h-3zM1127 1007h3v4h-3zM1181 1031h6v4h-6zM1187 1032h3v4h-3zM1271 1029h6v4h-6zM1280 1044h3v4h-3zM1307 1045h3v4h-3zM1319 1032h3v4h-3zM1337 1033h3v4h-3zM1343 1033h3v4h-3zM1352 1033h3v4h-3zM1373 1033h3v4h-3zM1418 1034h3v4h-3zM1430 1034h3v4h-3zM1433 1034h3v4h-3zM1436 1034h3v4h-3zM1442 1034h3v4h-3zM1475 1048h3v4h-3zM1547 1049h3v4h-3zM1571 1049h3v4h-3zM1583 1049h3v4h-3zM1589 1049h3v4h-3zM1592 1049h6v4h-6zM1598 1049h6v4h-6zM1604 1035h3v4h-3zM1610 1035h3v4h-3zM1613 1035h3v4h-3zM1616 1049h3v4h-3zM1628 1036h6v4h-6zM1631 1036h3v4h-3zM1652 1036h6v4h-6zM1676 1050h3v4h-3zM1688 1050h3v4h-3zM1697 1050h3v4h-3zM1724 1050h6v4h-6zM1748 1050h3v4h-3zM1751 1036h6v4h-6zM1757 1036h3v4h-3zM1763 1050h6v4h-6zM1766 1050h3v4h-3zM1784 1050h6v4h-6zM1808 1050h6v4h-6zM1820 1036h3v4h-3zM1826 1036h3v4h-3zM1829 1036h3v4h-3zM1832 1036h6v4h-6zM1841 1036h3v4h-3zM1862 1050h6v4h-6zM1886 1036h3v4h-3zM1922 1050h3v4h-3zM1931 1050h3v4h-3zM1934 1036h3v4h-3z" fill="#0000ff" shape-rendering="crispEdges"/>
<path d="M263.0,1135.3 265.0,1135.4 267.0,1135.9 269.0,1132.8 271.0,1132.7 273.0,1134.5 275.0,1135.4 277.0,1135.4 279.0,1135.7 281.0,1135.1 283.0,1135.1 285.0,1135.8 287.0,1134.8 289.0,1134.8 291.0,1135.0 293.0,1134.6 295.0,1134.6 297.0,1133.4 299.0,1133.6 301.0,1133.6 303.0,1134.7 305.0,1133.8 307.0,1133.8 309.0,1135.5 311.0,1135.5 313.0,1135.5 315.0,1136.0 317.0,1134.2 319.0,1134.2 321.0,1135.6 323.0,1133.2 325.0,1133.2 327.0,1133.2 329.0,1134.1 331.0,1134.1 333.0,1134.3 335.0,1132.2 337.0,1132.2 339.0,1132.0 341.0,1134.3 343.0,1134.3 345.0,1132.9 347.0,1135.2 349.0,1135.2 351.0,1134.2 353.0,1134.1 355.0,1134.1 357.0,1133.9 359.0,1134.7 361.0,1134.7 363.0,1133.4 365.0,1134.9 367.0,1134.8 369.0,1132.9 371.0,1133.2 373.0,1133.2 375.0,1132.6 377.0,1134.1 379.0,1134.1 381.0,1133.4 383.0,1132.2 385.0,1132.2 387.0,1135.8 389.0,1132.7 391.0,1132.7 393.0,1133.0 395.0,1133.6 397.0,1133.6 399.0,1135.3 401.0,1132.8 403.0,1132.7 405.0,1133.8 407.0,1133.0 409.0,1133.0 411.0,1130.8 413.0,1133.8 415.0,1133.8 417.0,1134.1 419.0,1132.3 421.0,1132.3 423.0,1132.6 425.0,1130.5 427.0,1130.4 429.0,1130.3 431.0,1131.9 433.0,1131.9 435.0,1133.3 437.0,1131.7 439.0,1131.6 441.0,1132.7 443.0,1133.6 445.0,1133.6 447.0,1132.3 449.0,1133.0 451.0,1132.9 453.0,1134.2 455.0,1130.1 457.0,1130.1 459.0,1133.0 461.0,1129.1 463.0,1129.0 465.0,1132.5 467.0,1132.1 469.0,1132.0 471.0,1130.9 473.0,1130.0 475.0,1130.0 477.0,1131.5 479.0,1130.9 481.0,1130.9 483.0,1131.6 485.0,1130.0 487.0,1130.0 489.0,1132.2 491.0,1129.7 493.0,1129.6 495.0,1130.7 497.0,1130.6 499.0,1130.5 501.0,1133.1 503.0,1128.7 505.0,1128.6 507.0,1130.3 509.0,1132.9 511.0,1132.8 513.0,1129.8 515.0,1128.8 517.0,1128.7 519.0,1131.2 521.0,1130.2 523.0,1130.1 525.0,1132.0 527.0,1129.0 529.0,1128.9 531.0,1130.7 533.0,1131.5 535.0,1131.4 537.0,1132.0 539.0,1128.3 541.0,1128.3 543.0,1132.5 545.0,1128.5 547.0,1128.4 549.0,1127.3 551.0,1128.2 553.0,1128.1 555.0,1130.0 557.0,1129.1 559.0,1129.0 561.0,1130.3 563.0,1130.4 565.0,1130.3 567.0,1129.9 569.0,1128.8 571.0,1128.7 573.0,1132.4 575.0,1125.0 577.0,1124.9 579.0,1125.7 581.0,1127.9 583.0,1127.8 585.0,1126.3 587.0,1123.8 589.0,1123.7 591.0,1126.9 593.0,1126.9 595.0,1126.8 597.0,1123.5 599.0,1129.7 600.0,1129.6 601.0,1129.6 603.0,1130.3 605.0,1130.1 607.0,1130.0 609.0,1126.5 611.0,1127.6 613.0,1127.5 615.0,1124.9 617.0,1127.3 619.0,1127.1 621.0,1125.2 623.0,1127.1 625.0,1127.0 627.0,1125.3 629.0,1127.8 631.0,1127.6 633.0,1127.0 635.0,1127.6 637.0,1127.4 639.0,1121.4 641.0,1120.7 643.0,1120.4 645.0,1124.8 647.0,1122.5 649.0,1122.2 651.0,1124.0 653.0,1123.6 655.0,1123.3 657.0,1122.8 659.0,1124.1 660.0,1124.0 661.0,1123.9 663.0,1122.8 665.0,1122.3 667.0,1122.0 669.0,1118.7 671.0,1124.1 673.0,1123.8 675.0,1119.8 677.0,1121.7 679.0,1121.3 681.0,1119.2 683.0,1120.9 685.0,1120.5 687.0,1117.6 689.0,1117.3 691.0,1116.9 693.0,1116.4 693.3,1116.3 695.0,1114.0 697.0,1113.7 699.0,1113.6 701.0,1114.2 703.0,1113.8 705.0,1113.4 707.0,1111.1 709.0,1110.6 709.9,1110.4 711.0,1117.6 713.0,1109.6 715.0,1109.1 717.0,1110.0 719.0,1115.4 721.0,1114.7 723.0,1107.4 725.0,1109.7 726.5,1109.2 727.0,1109.0 729.0,1108.0 731.0,1105.3 733.0,1104.4 735.0,1101.1 737.0,1099.9 739.0,1098.9 741.0,1101.0 743.0,1100.9 743.1,1100.8 745.0,1100.0 747.0,1093.9 749.0,1097.9 751.0,1097.1 753.0,1094.6 755.0,1096.9 757.0,1095.9 759.0,1093.5 759.8,1093.0 761.0,1090.5 763.0,1089.3 765.0,1088.5 767.0,1087.8 769.0,1086.2 771.0,1086.6 773.0,1087.5 775.0,1085.6 776.4,1080.0 777.0,1079.4 779.0,1077.0 781.0,1074.8 783.0,1073.3 785.0,1069.9 787.0,1067.4 789.0,1065.9 791.0,1063.2 793.0,1060.9 795.0,1058.3 797.0,1055.1 799.0,1053.0 801.0,1051.8 801.3,1051.3 803.0,1048.9 805.0,1044.0 807.0,1037.6 809.0,1032.7 809.6,1030.9 811.0,1025.9 813.0,1017.5 815.0,1008.4 817.0,1000.3 817.9,997.0 819.0,994.1 821.0,983.8 823.0,975.4 825.0,970.4 827.0,968.1 828.0,969.7 829.0,968.1 831.0,968.7 833.0,974.2 834.6,978.0 835.0,978.8 837.0,983.8 839.0,988.0 841.0,991.8 842.9,995.1 843.0,995.4 845.0,1001.2 847.0,1008.5 849.0,1016.6 851.0,1023.3 851.2,1024.0 853.0,1030.2 855.0,1036.0 857.0,1043.4 859.0,1048.7 860.0,1050.9 861.0,1052.6 863.0,1053.5 865.0,1055.9 867.0,1060.9 869.0,1060.9 870.0,1061.8 871.0,1062.5 873.0,1066.6 875.0,1063.6 877.0,1064.8 879.0,1067.2 880.0,1067.9 881.0,1067.8 883.0,1069.5 885.0,1075.7 887.0,1077.5 889.0,1079.3 890.0,1080.5 891.0,1081.3 893.0,1083.0 895.0,1084.8 897.0,1085.5 899.0,1087.0 900.0,1087.6 901.0,1088.2 903.0,1083.7 905.0,1088.7 907.0,1089.4 909.0,1088.5 910.0,1089.0 911.0,1089.9 913.0,1091.2 915.0,1091.1 917.0,1097.1 919.0,1098.5 920.0,1096.8 921.0,1097.2 923.0,1094.4 925.0,1094.9 927.0,1099.8 929.0,1099.0 930.0,1099.3 931.0,1099.5 933.0,1097.7 935.0,1099.7 937.0,1100.1 939.0,1099.4 940.0,1099.6 941.0,1096.6 943.0,1097.4 945.0,1099.7 947.0,1104.6 949.0,1105.2 950.0,1105.1 951.0,1105.2 953.0,1105.3 955.0,1105.6 957.0,1102.2 959.0,1103.7 961.0,1103.9 963.0,1105.7 965.0,1107.4 967.0,1107.6 969.0,1104.1 969.7,1104.2 971.0,1103.9 973.0,1104.2 975.0,1109.7 977.0,1107.6 979.0,1108.0 981.0,1107.3 983.0,1106.9 985.0,1107.2 987.0,1107.8 989.0,1113.4 989.7,1113.5 991.0,1113.7 993.0,1112.4 995.0,1109.3 997.0,1109.5 999.0,1107.7 1001.0,1115.0 1003.0,1115.2 1005.0,1115.1 1007.0,1114.4 1009.0,1114.6 1009.6,1114.7 1011.0,1113.9 1013.0,1107.4 1015.0,1107.6 1017.0,1109.2 1019.0,1114.0 1021.0,1114.2 1023.0,1112.3 1025.0,1113.8 1027.0,1114.0 1029.0,1112.3 1031.0,1112.2 1033.0,1112.4 1035.0,1115.5 1037.0,1113.4 1039.0,1113.5 1041.0,1114.7 1043.0,1115.5 1045.0,1115.7 1047.0,1115.7 1049.0,1118.2 1051.0,1118.3 1053.0,1119.0 1055.0,1112.2 1057.0,1112.3 1059.0,1115.2 1061.0,1114.3 1063.0,1114.3 1065.0,1117.9 1067.0,1113.2 1067.5,1113.2 1069.0,1113.2 1071.0,1117.9 1073.0,1117.6 1075.0,1117.5 1077.0,1117.1 1079.0,1113.1 1081.0,1112.9 1083.0,1114.6 1085.0,1112.3 1087.0,1112.1 1089.0,1115.5 1091.0,1116.7 1093.0,1116.5 1095.0,1110.2 1097.0,1111.7 1099.0,1111.5 1101.0,1113.0 1103.0,1112.0 1105.0,1111.8 1107.0,1116.9 1109.0,1112.6 1111.0,1112.6 1111.5,1112.6 1113.0,1113.7 1115.0,1110.3 1117.0,1110.5 1119.0,1117.2 1121.0,1114.1 1123.0,1114.4 1125.0,1116.2 1127.0,1115.0 1129.0,1115.5 1131.0,1111.0 1133.0,1112.7 1135.0,1113.2 1137.0,1114.4 1139.0,1118.8 1141.0,1119.4 1143.0,1117.7 1145.0,1120.3 1147.0,1120.8 1149.0,1121.0 1151.0,1121.4 1153.0,1121.8 1155.0,1123.8 1155.6,1123.9 1157.0,1122.5 1159.0,1122.8 1161.0,1119.1 1163.0,1121.7 1165.0,1122.1 1167.0,1127.6 1169.0,1122.0 1171.0,1122.4 1173.0,1128.0 1175.0,1129.0 1177.0,1129.3 1179.0,1125.0 1181.0,1127.3 1183.0,1127.7 1185.0,1124.5 1187.0,1129.3 1189.0,1129.6 1191.0,1126.9 1193.0,1126.2 1195.0,1126.6 1197.0,1128.7 1199.0,1128.9 1201.0,1129.3 1203.0,1129.3 1205.0,1131.1 1207.0,1131.4 1209.0,1131.0 1211.0,1130.4 1213.0,1130.7 1214.0,1133.7 1215.0,1133.8 1217.0,1136.7 1219.0,1136.9 1221.0,1133.0 1223.0,1131.9 1225.0,1132.2 1227.0,1131.9 1229.0,1134.9 1231.0,1135.1 1233.0,1133.9 1235.0,1134.6 1237.0,1134.8 1239.0,1131.8 1241.0,1133.4 1243.0,1133.7 1245.0,1133.8 1247.0,1137.4 1249.0,1137.6 1251.0,1135.9 1253.0,1132.7 1255.0,1132.9 1257.0,1137.6 1259.0,1138.7 1261.0,1138.8 1263.0,1139.2 1265.0,1133.4 1267.0,1133.6 1269.0,1138.0 1271.0,1139.0 1273.0,1139.1 1275.0,1139.0 1277.0,1137.9 1279.0,1138.0 1281.0,1136.0 1283.0,1138.0 1285.0,1138.1 1287.0,1138.3 1289.0,1139.6 1291.0,1139.7 1293.0,1139.9 1295.0,1138.8 1297.0,1138.9 1299.0,1140.4 1301.0,1138.1 1303.0,1138.2 1305.0,1138.8 1307.0,1139.7 1309.0,1139.7 1311.0,1140.6 1313.0,1139.6 1315.0,1139.6 1317.0,1141.6 1319.0,1140.7 1321.0,1140.7 1323.0,1139.2 1325.0,1140.5 1327.0,1140.5 1329.0,1139.5 1331.0,1139.5 1333.0,1139.5 1335.0,1139.1 1337.0,1142.3 1339.0,1142.3 1341.0,1141.8 1343.0,1139.1 1345.0,1139.1 1347.0,1142.2 1349.0,1142.0 1350.0,1142.0 1351.0,1142.1 1353.0,1140.7 1355.0,1141.6 1357.0,1141.7 1359.0,1143.6 1361.0,1141.5 1363.0,1141.5 1365.0,1141.7 1367.0,1142.5 1369.0,1142.5 1371.0,1140.3 1373.0,1140.1 1375.0,1140.1 1377.0,1140.0 1379.0,1141.4 1381.0,1141.4 1383.0,1142.4 1385.0,1140.7 1387.0,1140.8 1389.0,1140.3 1391.0,1141.9 1393.0,1141.9 1395.0,1141.4 1397.0,1142.4 1399.0,1142.4 1401.0,1141.8 1403.0,1141.7 1405.0,1141.8 1407.0,1141.9 1409.0,1142.1 1411.0,1142.1 1413.0,1141.2 1415.0,1141.1 1417.0,1141.1 1419.0,1143.7 1421.0,1145.1 1423.0,1145.1 1425.0,1143.3 1427.0,1140.8 1429.0,1140.9 1431.0,1142.4 1433.0,1143.5 1435.0,1143.5 1437.0,1141.0 1439.0,1142.1 1441.0,1142.1 1443.0,1142.2 1445.0,1141.8 1447.0,1141.8 1449.0,1141.9 1451.0,1143.5 1453.0,1143.6 1455.0,1142.4 1457.0,1142.6 1459.0,1142.6 1461.0,1144.2 1463.0,1142.2 1465.0,1142.2 1467.0,1141.4 1469.0,1143.4 1471.0,1143.5 1473.0,1144.5 1475.0,1143.2 1477.0,1143.2 1479.0,1143.3 1481.0,1142.1 1483.0,1142.2 1485.0,1142.5 1487.0,1144.2 1489.0,1144.2 1491.0,1144.1 1493.0,1143.6 1495.0,1143.7 1497.0,1142.9 1499.0,1142.6 1501.0,1142.7 1503.0,1142.8 1505.0,1142.7 1507.0,1142.7 1509.0,1143.8 1511.0,1143.0 1513.0,1143.0 1515.0,1143.2 1517.0,1144.0 1519.0,1144.0 1521.0,1144.0 1523.0,1143.7 1525.0,1143.7 1527.0,1144.0 1529.0,1143.7 1531.0,1143.7 1533.0,1142.6 1535.0,1143.7 1537.0,1143.8 1539.0,1143.6 1541.0,1143.6 1543.0,1143.7 1545.0,1144.0 1547.0,1143.6 1549.0,1143.6 1551.0,1144.7 1553.0,1143.9 1555.0,1143.9 1557.0,1144.1 1559.0,1144.3 1561.0,1144.3 1563.0,1144.0 1565.0,1144.5 1567.0,1144.5 1569.0,1144.6 1571.0,1144.6 1573.0,1144.6 1575.0,1143.8 1577.0,1143.7 1579.0,1143.8 1581.0,1144.0 1583.0,1144.3 1585.0,1144.4 1587.0,1143.3 1589.0,1143.9 1591.0,1143.9 1593.0,1143.8 1595.0,1144.1 1597.0,1144.1 1599.0,1144.0 1601.0,1145.0 1603.0,1145.0 1605.0,1144.8 1607.0,1145.2 1609.0,1145.2 1611.0,1144.0 1613.0,1144.2 1615.0,1144.2 1617.0,1144.5 1619.0,1145.7 1621.0,1145.7 1623.0,1145.8 1625.0,1144.4 1627.0,1144.4 1629.0,1145.2 1631.0,1146.1 1633.0,1146.1 1635.0,1144.3 1637.0,1144.8 1639.0,1144.8 1641.0,1145.7 1643.0,1145.4 1645.0,1145.4 1647.0,1144.4 1649.0,1145.9 1651.0,1145.9 1653.0,1145.6 1655.0,1145.5 1657.0,1145.5 1659.0,1144.4 1661.0,1145.0 1663.0,1145.1 1665.0,1146.0 1667.0,1145.5 1669.0,1145.5 1671.0,1145.7 1673.0,1145.1 1675.0,1145.1 1677.0,1146.2 1679.0,1145.2 1681.0,1145.2 1683.0,1145.9 1685.0,1145.5 1687.0,1145.6 1689.0,1144.8 1691.0,1146.3 1693.0,1146.3 1695.0,1144.7 1697.0,1145.0 1699.0,1145.0 1701.0,1145.6 1703.0,1144.7 1705.0,1144.7 1707.0,1144.4 1709.0,1145.5 1711.0,1145.5 1713.0,1145.3 1715.0,1145.4 1717.0,1145.4 1719.0,1145.9 1721.0,1147.0 1723.0,1147.0 1725.0,1145.4 1727.0,1147.1 1729.0,1147.2 1731.0,1145.8 1733.0,1145.7 1735.0,1145.7 1737.0,1144.1 1739.0,1144.8 1741.0,1144.9 1743.0,1145.9 1745.0,1146.1 1747.0,1146.1 1749.0,1145.3 1751.0,1146.0 1753.0,1146.0 1755.0,1146.4 1757.0,1145.5 1759.0,1145.5 1761.0,1144.9 1763.0,1145.3 1765.0,1145.3 1767.0,1145.7 1769.0,1146.1 1771.0,1146.1 1773.0,1146.4 1775.0,1145.4 1777.0,1145.4 1779.0,1146.0 1781.0,1145.9 1783.0,1145.9 1785.0,1146.1 1787.0,1146.7 1789.0,1146.7 1791.0,1146.8 1793.0,1145.8 1795.0,1145.8 1797.0,1145.7 1799.0,1145.7 1801.0,1145.7 1803.0,1145.8 1805.0,1145.9 1807.0,1145.9 1809.0,1146.1 1811.0,1145.9 1813.0,1145.9 1815.0,1145.5 1817.0,1145.5 1819.0,1145.5 1821.0,1146.3 1823.0,1147.7 1825.0,1147.7 1827.0,1146.6 1829.0,1146.6 1831.0,1146.7 1833.0,1146.5 1835.0,1146.2 1837.0,1146.2 1839.0,1147.5 1841.0,1146.1 1843.0,1146.1 1845.0,1145.7 1847.0,1145.6 1849.0,1145.6 1851.0,1146.5 1853.0,1145.8 1855.0,1145.8 1857.0,1145.8 1859.0,1145.9 1861.0,1145.9 1863.0,1145.6 1865.0,1146.5 1867.0,1146.5 1869.0,1145.4 1871.0,1147.8 1873.0,1147.8 1875.0,1144.8 1877.0,1145.6 1879.0,1145.6 1881.0,1146.5 1883.0,1146.7 1885.0,1146.7 1887.0,1146.3 1889.0,1146.6 1891.0,1146.6 1893.0,1146.6 1895.0,1146.6 1897.0,1146.6 1899.0,1146.9 1901.0,1146.7 1903.0,1146.7 1905.0,1146.5 1907.0,1146.4 1909.0,1146.4 1911.0,1147.1 1913.0,1146.4 1915.0,1146.4 1917.0,1146.9 1919.0,1147.5 1921.0,1147.5 1923.0,1146.8 1925.0,1147.3 1927.0,1147.3 1929.0,1146.3 1931.0,1146.7 1933.0,1146.7 1935.0,1146.9 1937.0,1146.7 1939.0,1146.7 1941.0,1146.9 1943.0,1147.4 1945.0,1147.4 1947.0,1146.4 1949.0,1146.2 1951.0,1146.2 1953.0,1146.8 1955.0,1145.7 1957.0,1145.7 1959.0,1146.6 1961.0,1147.3 1963.0,1147.3 1965.0,1146.6 1967.0,1146.9 1969.0,1146.9 1971.0,1146.8 1973.0,1147.3 1975.0,1147.3 1977.0,1146.9" fill="none" stroke="#ff8000" stroke-width="12" stroke-linejoin="round" shape-rendering="crispEdges"/>
<path d="M278 1140h6v4h-6zM284 1126h3v4h-3zM293 1125h3v4h-3zM308 1125h3v4h-3zM314 1125h3v4h-3zM374 1138h6v4h-6zM386 1124h6v4h-6zM407 1138h3v4h-3zM410 1138h3v4h-3zM422 1138h6v4h-6zM437 1137h3v4h-3zM443 1137h3v4h-3zM452 1137h3v4h-3zM455 1123h6v4h-6zM458 1123h6v4h-6zM470 1137h6v4h-6zM473 1123h3v4h-3zM482 1136h3v4h-3zM530 1121h3v4h-3zM533 1135h6v4h-6zM548 1121h3v4h-3zM551 1121h6v4h-6zM563 1134h3v4h-3zM575 1120h3v4h-3zM593 1133h3v4h-3zM602 1119h3v4h-3zM608 1132h3v4h-3zM683 1123h3v4h-3zM692 1121h6v4h-6zM698 1120h3v4h-3zM716 1102h6v4h-6zM722 1100h6v4h-6zM734 1095h6v4h-6zM740 1092h3v4h-3zM749 1088h3v4h-3zM935 1091h6v4h-6zM938 1106h3v4h-3zM944 1094h3v4h-3zM953 1110h3v4h-3zM968 1111h6v4h-6zM983 1100h3v4h-3zM989 1115h3v4h-3zM1049 1120h6v4h-6zM1058 1107h3v4h-3zM1100 1104h6v4h-6zM1118 1119h3v4h-3zM1169 1130h3v4h-3zM1190 1134h3v4h-3zM1205 1122h3v4h-3zM1232 1125h6v4h-6zM1238 1126h3v4h-3zM1256 1128h3v4h-3zM1274 1143h6v4h-6zM1283 1130h6v4h-6zM1310 1145h3v4h-3zM1367 1146h3v4h-3zM1403 1133h3v4h-3zM1406 1133h3v4h-3zM1421 1133h6v4h-6zM1424 1147h3v4h-3zM1433 1147h6v4h-6zM1436 1147h3v4h-3zM1442 1148h3v4h-3zM1511 1148h3v4h-3zM1520 1135h3v4h-3zM1523 1149h3v4h-3zM1541 1135h6v4h-6zM1568 1149h3v4h-3zM1574 1135h6v4h-6zM1607 1136h3v4h-3zM1625 1150h6v4h-6zM1640 1136h3v4h-3zM1661 1136h3v4h-3zM1697 1136h6v4h-6zM1718 1151h6v4h-6zM1760 1151h3v4h-3zM1805 1151h3v4h-3zM1811 1137h3v4h-3zM1826 1151h3v4h-3zM1838 1137h3v4h-3zM1934 1152h6v4h-6z" fill="#ff8000" shape-rendering="crispEdges"/>
<path d="M263.0,1254.4 265.0,1254.4 267.0,1254.6 269.0,1254.1 271.0,1254.1 273.0,1253.5 275.0,1253.8 277.0,1253.8 279.0,1253.3 281.0,1254.2 283.0,1254.1 285.0,1255.3 287.0,1253.6 289.0,1253.5 291.0,1253.4 293.0,1254.4 295.0,1254.4 297.0,1254.2 299.0,1254.0 301.0,1253.9 303.0,1252.8 305.0,1253.7 307.0,1253.7 309.0,1254.4 311.0,1252.3 313.0,1252.2 315.0,1253.1 317.0,1251.5 319.0,1251.5 321.0,1252.1 323.0,1251.5 325.0,1251.4 327.0,1253.2 329.0,1252.0 331.0,1251.9 333.0,1253.7 335.0,1253.5 337.0,1253.5 339.0,1253.1 341.0,1250.3 343.0,1250.2 345.0,1252.6 347.0,1253.1 349.0,1253.1 351.0,1253.3 353.0,1251.2 355.0,1251.2 357.0,1252.5 359.0,1251.8 361.0,1251.8 363.0,1252.0 365.0,1254.3 367.0,1254.3 369.0,1251.9 371.0,1252.8 373.0,1252.8 375.0,1254.0 377.0,1252.1 379.0,1252.0 381.0,1252.6 383.0,1252.9 385.0,1252.9 387.0,1252.8 389.0,1251.0 391.0,1251.0 393.0,1252.7 395.0,1254.4 397.0,1254.4 399.0,1250.5 401.0,1253.7 403.0,1253.7 405.0,1252.7 407.0,1251.6 409.0,1251.6 411.0,1255.2 413.0,1253.5 415.0,1253.4 417.0,1250.7 419.0,1252.4 421.0,1252.4 423.0,1253.1 425.0,1252.0 427.0,1252.0 429.0,1253.2 431.0,1252.1 433.0,1252.1 435.0,1253.1 437.0,1254.2 439.0,1254.2 441.0,1251.1 443.0,1252.4 445.0,1252.4 447.0,1251.4 449.0,1252.2 451.0,1252.2 453.0,1250.3 455.0,1251.1 457.0,1251.1 459.0,1251.7 461.0,1253.3 463.0,1253.3 465.0,1253.6 467.0,1249.9 469.0,1249.9 471.0,1250.7 473.0,1252.8 475.0,1252.8 477.0,1248.8 479.0,1251.1 481.0,1251.1 483.0,1251.7 485.0,1253.7 487.0,1253.7 489.0,1252.8 491.0,1251.3 493.0,1251.3 495.0,1251.2 497.0,1251.4 499.0,1251.3 501.0,1254.1 503.0,1251.1 505.0,1251.0 507.0,1251.2 509.0,1252.2 511.0,1252.2 513.0,1251.5 515.0,1251.4 517.0,1251.3 519.0,1249.9 521.0,1251.6 523.0,1251.6 525.0,1250.9 527.0,1253.5 529.0,1253.5 531.0,1252.6 533.0,1251.6 535.0,1251.5 537.0,1252.6 539.0,1251.0 541.0,1251.0 543.0,1253.2 545.0,1251.5 547.0,1251.5 549.0,1252.4 551.0,1249.4 553.0,1249.4 555.0,1252.0 557.0,1248.7 559.0,1248.7 561.0,1248.1 563.0,1250.9 565.0,1250.9 567.0,1249.9 569.0,1251.6 571.0,1251.6 573.0,1255.0 575.0,1249.9 577.0,1249.9 579.0,1250.2 581.0,1251.6 583.0,1251.6 585.0,1252.0 587.0,1250.9 589.0,1250.9 591.0,1250.8 593.0,1252.3 595.0,1252.3 597.0,1251.9 599.0,1249.3 600.0,1249.3 601.0,1249.2 603.0,1250.8 605.0,1250.9 607.0,1250.8 609.0,1248.9 611.0,1250.9 613.0,1250.8 615.0,1248.7 617.0,1251.7 619.0,1251.5 621.0,1249.9 623.0,1249.5 625.0,1249.3 627.0,1247.9 629.0,1248.5 631.0,1248.2 633.0,1244.6 635.0,1245.8 637.0,1245.6 639.0,1248.0 641.0,1243.1 643.0,1242.8 645.0,1248.2 647.0,1242.9 649.0,1242.6 651.0,1247.2 653.0,1243.8 655.0,1243.5 657.0,1246.3 659.0,1244.7 661.0,1244.4 663.0,1240.6 665.0,1245.9 667.0,1245.6 669.0,1245.6 671.0,1242.1 673.0,1241.7 675.0,1240.8 677.0,1240.6 679.0,1240.2 681.0,1238.0 682.2,1237.8 683.0,1242.1 685.0,1241.7 687.0,1237.7 689.0,1238.3 691.0,1237.9 693.0,1235.8 695.0,1235.7 697.0,1235.3 699.0,1233.4 701.0,1238.6 703.0,1238.1 705.0,1234.4 707.0,1236.4 709.0,1235.8 711.0,1233.1 713.0,1231.0 715.0,1230.4 717.0,1230.5 717.4,1230.4 719.0,1229.4 721.0,1228.6 723.0,1229.0 725.0,1227.3 727.0,1226.4 729.0,1225.6 731.0,1222.5 733.0,1221.5 735.0,1221.6 737.0,1225.2 739.0,1224.1 740.9,1218.6 741.0,1218.6 743.0,1216.7 745.0,1215.6 747.0,1217.0 749.0,1217.7 751.0,1216.5 753.0,1210.0 755.0,1210.9 757.0,1209.6 759.0,1207.4 761.0,1204.0 763.0,1202.6 764.4,1206.0 765.0,1205.6 767.0,1202.8 769.0,1201.5 771.0,1200.3 773.0,1197.4 775.0,1196.0 777.0,1196.6 779.0,1193.3 781.0,1191.6 783.0,1190.4 785.0,1186.8 787.0,1184.6 787.9,1183.5 789.0,1181.9 791.0,1181.4 793.0,1176.9 795.0,1170.2 797.0,1165.7 799.0,1160.3 801.0,1153.8 803.0,1146.4 805.0,1139.6 807.0,1133.4 809.0,1128.4 810.2,1124.8 811.0,1122.6 813.0,1116.5 815.0,1110.4 815.5,1108.4 817.0,1099.3 818.7,1087.5 819.0,1085.8 821.0,1075.6 822.5,1068.8 823.0,1066.7 825.0,1057.7 827.0,1051.4 828.0,1051.0 829.0,1051.5 831.0,1057.2 833.0,1065.1 833.5,1066.9 835.0,1072.1 837.0,1081.2 838.5,1088.0 839.0,1091.1 841.0,1107.0 841.3,1109.0 843.0,1117.8 844.5,1124.2 845.0,1126.5 847.0,1132.3 849.0,1137.5 850.3,1140.7 851.0,1142.7 853.0,1148.4 855.0,1154.2 857.0,1157.9 857.8,1159.5 859.0,1161.7 861.0,1167.6 863.0,1167.4 865.0,1170.3 867.0,1175.9 869.0,1177.8 871.0,1180.1 871.7,1180.8 873.0,1182.6 875.0,1186.1 877.0,1187.9 879.0,1188.9 881.0,1185.9 883.0,1187.3 885.0,1187.7 887.0,1193.5 889.0,1194.8 891.0,1192.7 893.0,1195.7 895.0,1196.9 897.0,1199.7 899.0,1196.2 900.2,1196.9 901.0,1197.4 903.0,1197.8 905.0,1203.4 907.0,1204.6 909.0,1205.3 911.0,1205.9 913.0,1207.0 915.0,1208.6 917.0,1207.8 919.0,1208.7 921.0,1208.1 923.0,1211.6 925.0,1212.3 927.0,1211.3 929.0,1210.4 931.0,1211.0 933.0,1216.3 935.0,1215.6 937.0,1216.2 939.0,1217.7 941.0,1215.1 943.0,1215.6 945.0,1216.8 947.0,1216.5 949.0,1216.9 951.0,1217.6 953.0,1220.5 955.0,1220.9 957.0,1219.1 959.0,1222.2 961.0,1222.6 963.0,1222.9 965.0,1227.2 967.0,1227.6 969.0,1220.3 971.0,1225.9 973.0,1226.3 975.0,1224.6 977.0,1225.2 979.0,1225.6 981.0,1222.8 983.0,1225.5 985.0,1225.9 987.0,1229.1 989.0,1227.6 991.0,1228.0 993.0,1228.8 995.0,1228.3 997.0,1228.6 999.0,1232.3 1001.0,1229.8 1003.0,1230.0 1005.0,1224.8 1007.0,1228.7 1008.7,1228.8 1009.0,1228.8 1011.0,1225.6 1013.0,1222.5 1015.0,1222.6 1017.0,1229.5 1019.0,1234.3 1021.0,1234.4 1023.0,1231.2 1025.0,1228.2 1027.0,1228.3 1029.0,1228.9 1031.0,1234.3 1033.0,1234.3 1035.0,1231.9 1037.0,1231.7 1039.0,1231.7 1041.0,1231.5 1043.0,1231.8 1045.0,1231.9 1047.0,1233.9 1049.0,1233.3 1051.0,1233.3 1053.0,1232.5 1055.0,1229.2 1057.0,1229.3 1059.0,1233.3 1061.0,1230.2 1063.0,1230.2 1065.0,1234.8 1067.0,1228.7 1067.5,1228.7 1069.0,1228.7 1071.0,1231.6 1073.0,1231.9 1075.0,1231.9 1077.0,1228.5 1079.0,1236.1 1081.0,1236.0 1083.0,1235.3 1085.0,1230.3 1087.0,1230.2 1089.0,1233.2 1091.0,1232.1 1093.0,1232.0 1095.0,1224.4 1097.0,1231.5 1099.0,1231.4 1101.0,1230.6 1103.0,1230.9 1105.0,1230.8 1107.0,1227.8 1109.0,1229.8 1111.0,1229.8 1111.5,1229.8 1113.0,1230.1 1115.0,1233.6 1117.0,1233.7 1119.0,1232.1 1121.0,1231.7 1123.0,1232.3 1125.0,1236.2 1127.0,1232.4 1129.0,1233.1 1131.0,1234.2 1133.0,1232.0 1135.0,1232.8 1137.0,1240.6 1139.0,1240.2 1141.0,1241.0 1143.0,1241.7 1145.0,1241.9 1147.0,1242.7 1149.0,1242.2 1151.0,1243.0 1153.0,1243.6 1155.0,1243.0 1155.6,1243.1 1157.0,1243.5 1159.0,1243.9 1161.0,1244.9 1163.0,1248.4 1165.0,1248.7 1167.0,1247.0 1169.0,1246.1 1171.0,1246.4 1173.0,1245.7 1175.0,1245.9 1177.0,1246.2 1179.0,1251.1 1181.0,1249.2 1183.0,1249.5 1185.0,1248.9 1187.0,1248.3 1189.0,1248.6 1191.0,1247.4 1193.0,1249.7 1195.0,1250.0 1197.0,1252.1 1199.0,1249.9 1201.0,1250.1 1203.0,1250.7 1205.0,1251.0 1207.0,1251.2 1209.0,1252.1 1211.0,1249.2 1213.0,1249.5 1214.0,1252.1 1215.0,1252.2 1217.0,1251.3 1219.0,1251.6 1221.0,1254.9 1223.0,1252.2 1225.0,1252.5 1227.0,1255.1 1229.0,1256.9 1231.0,1257.1 1233.0,1254.2 1235.0,1254.0 1237.0,1254.2 1239.0,1255.8 1241.0,1255.7 1243.0,1255.9 1245.0,1254.5 1247.0,1257.0 1249.0,1257.2 1251.0,1259.8 1253.0,1256.5 1255.0,1256.7 1257.0,1256.9 1259.0,1255.8 1261.0,1256.0 1263.0,1258.2 1265.0,1256.1 1267.0,1256.2 1269.0,1256.6 1271.0,1260.1 1273.0,1260.2 1275.0,1257.2 1277.0,1260.2 1279.0,1260.2 1281.0,1261.0 1283.0,1259.3 1285.0,1259.4 1287.0,1259.9 1289.0,1261.9 1291.0,1262.0 1293.0,1259.2 1295.0,1258.7 1297.0,1258.8 1299.0,1257.9 1301.0,1259.8 1303.0,1259.9 1305.0,1261.9 1307.0,1261.3 1309.0,1261.3 1311.0,1259.0 1313.0,1259.2 1315.0,1259.3 1317.0,1259.8 1319.0,1260.8 1321.0,1260.9 1323.0,1260.4 1325.0,1260.9 1327.0,1261.0 1329.0,1261.1 1331.0,1260.5 1333.0,1260.5 1335.0,1260.9 1337.0,1261.3 1339.0,1261.3 1341.0,1261.0 1343.0,1261.7 1345.0,1261.8 1347.0,1263.4 1349.0,1262.0 1350.0,1262.0 1351.0,1262.0 1353.0,1261.4 1355.0,1259.5 1357.0,1259.5 1359.0,1261.9 1361.0,1259.3 1363.0,1259.3 1365.0,1260.0 1367.0,1262.6 1369.0,1262.6 1371.0,1262.5 1373.0,1261.6 1375.0,1261.6 1377.0,1259.9 1379.0,1261.4 1381.0,1261.5 1383.0,1261.2 1385.0,1262.6 1387.0,1262.7 1389.0,1264.5 1391.0,1262.3 1393.0,1262.3 1395.0,1261.3 1397.0,1260.9 1399.0,1261.0 1401.0,1262.2 1403.0,1262.1 1405.0,1262.1 1407.0,1261.2 1409.0,1262.5 1411.0,1262.5 1413.0,1261.3 1415.0,1263.6 1417.0,1263.7 1419.0,1263.6 1421.0,1263.7 1423.0,1263.7 1425.0,1262.2 1427.0,1263.2 1429.0,1263.2 1431.0,1262.6 1433.0,1262.4 1435.0,1262.5 1437.0,1262.5 1439.0,1261.7 1441.0,1261.7 1443.0,1261.6 1445.0,1263.8 1447.0,1263.8 1449.0,1262.9 1451.0,1263.3 1453.0,1263.3 1455.0,1264.1 1457.0,1261.6 1459.0,1261.7 1461.0,1262.6 1463.0,1263.5 1465.0,1263.5 1467.0,1263.7 1469.0,1263.1 1471.0,1263.1 1473.0,1264.4 1475.0,1263.7 1477.0,1263.7 1479.0,1262.5 1481.0,1262.8 1483.0,1262.8 1485.0,1264.3 1487.0,1264.1 1489.0,1264.1 1491.0,1262.2 1493.0,1264.9 1495.0,1264.9 1497.0,1264.3 1499.0,1264.9 1501.0,1265.0 1503.0,1263.6 1505.0,1263.7 1507.0,1263.8 1509.0,1263.2 1511.0,1265.9 1513.0,1265.9 1515.0,1264.0 1517.0,1265.3 1519.0,1265.3 1521.0,1263.8 1523.0,1264.3 1525.0,1264.4 1527.0,1263.3 1529.0,1264.1 1531.0,1264.1 1533.0,1265.0 1535.0,1263.7 1537.0,1263.7 1539.0,1265.1 1541.0,1264.7 1543.0,1264.7 1545.0,1263.9 1547.0,1264.3 1549.0,1264.3 1551.0,1264.4 1553.0,1264.6 1555.0,1264.7 1557.0,1264.4 1559.0,1264.3 1561.0,1264.3 1563.0,1264.6 1565.0,1264.2 1567.0,1264.3 1569.0,1264.1 1571.0,1264.9 1573.0,1264.9 1575.0,1265.5 1577.0,1264.1 1579.0,1264.1 1581.0,1265.1 1583.0,1264.7 1585.0,1264.7 1587.0,1264.6 1589.0,1265.7 1591.0,1265.7 1593.0,1264.9 1595.0,1266.1 1597.0,1266.2 1599.0,1264.8 1601.0,1265.5 1603.0,1265.6 1605.0,1265.2 1607.0,1264.9 1609.0,1265.0 1611.0,1265.8 1613.0,1265.4 1615.0,1265.4 1617.0,1265.9 1619.0,1265.5 1621.0,1265.5 1623.0,1264.9 1625.0,1265.5 1627.0,1265.6 1629.0,1265.7 1631.0,1266.2 1633.0,1266.3 1635.0,1265.2 1637.0,1265.7 1639.0,1265.7 1641.0,1264.8 1643.0,1266.2 1645.0,1266.2 1647.0,1265.2 1649.0,1264.8 1651.0,1264.8 1653.0,1265.9 1655.0,1266.6 1657.0,1266.6 1659.0,1265.1 1661.0,1265.4 1663.0,1265.4 1665.0,1265.6 1667.0,1265.4 1669.0,1265.4 1671.0,1266.4 1673.0,1265.7 1675.0,1265.7 1677.0,1265.8 1679.0,1266.6 1681.0,1266.6 1683.0,1265.8 1685.0,1266.5 1687.0,1266.5 1689.0,1265.7 1691.0,1265.6 1693.0,1265.6 1695.0,1265.3 1697.0,1267.5 1699.0,1267.5 1701.0,1266.2 1703.0,1266.6 1705.0,1266.6 1707.0,1266.5 1709.0,1266.6 1711.0,1266.6 1713.0,1266.6 1715.0,1267.7 1717.0,1267.7 1719.0,1266.0 1721.0,1265.7 1723.0,1265.7 1725.0,1266.0 1727.0,1265.9 1729.0,1265.9 1731.0,1267.1 1733.0,1267.2 1735.0,1267.2 1737.0,1266.2 1739.0,1265.9 1741.0,1266.0 1743.0,1266.6 1745.0,1267.7 1747.0,1267.7 1749.0,1265.2 1751.0,1267.2 1753.0,1267.2 1755.0,1266.3 1757.0,1267.5 1759.0,1267.6 1761.0,1266.3 1763.0,1266.8 1765.0,1266.8 1767.0,1266.1 1769.0,1266.4 1771.0,1266.4 1773.0,1267.9 1775.0,1267.5 1777.0,1267.6 1779.0,1266.8 1781.0,1266.6 1783.0,1266.6 1785.0,1266.0 1787.0,1266.9 1789.0,1266.9 1791.0,1267.1 1793.0,1267.1 1795.0,1267.1 1797.0,1267.1 1799.0,1266.5 1801.0,1266.6 1803.0,1267.2 1805.0,1267.2 1807.0,1267.2 1809.0,1268.1 1811.0,1268.4 1813.0,1268.4 1815.0,1267.2 1817.0,1266.9 1819.0,1266.9 1821.0,1267.3 1823.0,1267.0 1825.0,1267.0 1827.0,1266.9 1829.0,1267.4 1831.0,1267.4 1833.0,1266.8 1835.0,1267.8 1837.0,1267.8 1839.0,1267.4 1841.0,1267.6 1843.0,1267.6 1845.0,1267.4 1847.0,1267.1 1849.0,1267.1 1851.0,1266.9 1853.0,1267.4 1855.0,1267.4 1857.0,1267.2 1859.0,1267.7 1861.0,1267.7 1863.0,1267.6 1865.0,1266.8 1867.0,1266.8 1869.0,1267.6 1871.0,1266.8 1873.0,1266.8 1875.0,1267.2 1877.0,1267.4 1879.0,1267.4 1881.0,1266.4 1883.0,1267.7 1885.0,1267.7 1887.0,1267.7 1889.0,1267.6 1891.0,1267.6 1893.0,1267.4 1895.0,1267.4 1897.0,1267.5 1899.0,1267.1 1901.0,1267.5 1903.0,1267.5 1905.0,1267.4 1907.0,1267.8 1909.0,1267.8 1911.0,1267.0 1913.0,1267.9 1915.0,1267.9 1917.0,1267.8 1919.0,1267.7 1921.0,1267.7 1923.0,1267.5 1925.0,1268.1 1927.0,1268.1 1929.0,1266.8 1931.0,1268.0 1933.0,1268.0 1935.0,1267.9 1937.0,1267.9 1939.0,1267.9 1941.0,1268.0 1943.0,1267.4 1945.0,1267.4 1947.0,1267.6 1949.0,1268.2 1951.0,1268.2 1953.0,1268.0 1955.0,1267.9 1957.0,1267.9 1959.0,1266.9 1961.0,1268.1 1963.0,1268.1 1965.0,1268.5 1967.0,1268.4 1969.0,1268.4 1971.0,1267.9 1973.0,1266.9 1975.0,1266.9 1977.0,1268.4" fill="none" stroke="#00ff00" stroke-width="12" stroke-linejoin="round" shape-rendering="crispEdges"/>
<path d="M296 1245h6v4h-6zM314 1245h3v4h-3zM344 1244h6v4h-6zM350 1258h6v4h-6zM371 1258h6v4h-6zM374 1258h3v4h-3zM377 1244h3v4h-3zM383 1244h3v4h-3zM428 1243h6v4h-6zM458 1243h3v4h-3zM464 1257h3v4h-3zM488 1243h3v4h-3zM500 1243h3v4h-3zM509 1243h3v4h-3zM518 1243h3v4h-3zM536 1243h3v4h-3zM539 1257h3v4h-3zM581 1256h3v4h-3zM587 1256h3v4h-3zM611 1255h6v4h-6zM617 1255h3v4h-3zM620 1255h6v4h-6zM626 1240h3v4h-3zM638 1238h3v4h-3zM653 1250h3v4h-3zM662 1249h6v4h-6zM671 1233h6v4h-6zM674 1246h3v4h-3zM683 1244h3v4h-3zM689 1229h3v4h-3zM692 1242h3v4h-3zM704 1226h3v4h-3zM737 1226h3v4h-3zM893 1202h6v4h-6zM899 1205h6v4h-6zM908 1211h6v4h-6zM911 1212h3v4h-3zM920 1202h6v4h-6zM926 1205h3v4h-3zM944 1223h6v4h-6zM998 1235h3v4h-3zM1040 1237h3v4h-3zM1052 1223h3v4h-3zM1070 1237h6v4h-6zM1073 1223h6v4h-6zM1100 1222h3v4h-3zM1115 1222h3v4h-3zM1121 1223h3v4h-3zM1127 1225h3v4h-3zM1142 1231h3v4h-3zM1154 1249h3v4h-3zM1157 1235h3v4h-3zM1160 1236h3v4h-3zM1166 1251h3v4h-3zM1178 1239h6v4h-6zM1190 1255h3v4h-3zM1208 1243h6v4h-6zM1211 1243h3v4h-3zM1226 1259h3v4h-3zM1250 1248h3v4h-3zM1280 1264h3v4h-3zM1289 1250h3v4h-3zM1304 1265h3v4h-3zM1328 1252h3v4h-3zM1343 1252h3v4h-3zM1349 1252h3v4h-3zM1352 1252h3v4h-3zM1367 1267h6v4h-6zM1403 1253h6v4h-6zM1415 1254h3v4h-3zM1421 1268h3v4h-3zM1436 1268h6v4h-6zM1463 1268h3v4h-3zM1472 1268h3v4h-3zM1478 1269h3v4h-3zM1532 1269h3v4h-3zM1538 1255h3v4h-3zM1544 1256h3v4h-3zM1550 1256h3v4h-3zM1559 1270h6v4h-6zM1568 1270h3v4h-3zM1586 1270h3v4h-3zM1613 1270h3v4h-3zM1652 1257h6v4h-6zM1658 1257h3v4h-3zM1661 1257h3v4h-3zM1688 1257h3v4h-3zM1694 1271h6v4h-6zM1712 1258h3v4h-3zM1721 1272h3v4h-3zM1736 1258h3v4h-3zM1748 1272h6v4h-6zM1763 1258h6v4h-6zM1784 1258h3v4h-3zM1808 1258h3v4h-3zM1817 1258h3v4h-3zM1862 1273h6v4h-6zM1877 1259h6v4h-6zM1880 1259h6v4h-6zM1889 1273h6v4h-6zM1895 1273h3v4h-3zM1913 1273h3v4h-3zM1922 1259h3v4h-3zM1943 1259h3v4h-3zM1946 1259h6v4h-6zM1964 1259h3v4h-3zM1973 1259h6v4h-6z" fill="#00ff00" shape-rendering="crispEdges"/>
<path d="M263.0,1346.1 265.0,1345.9 267.0,1346.1 269.0,1346.0 271.0,1346.0 273.0,1346.7 275.0,1345.1 277.0,1345.1 279.0,1346.8 281.0,1346.1 283.0,1346.1 285.0,1347.7 287.0,1347.7 289.0,1347.7 291.0,1348.1 293.0,1347.5 295.0,1347.5 297.0,1346.7 299.0,1347.5 301.0,1347.5 303.0,1348.1 305.0,1346.0 307.0,1346.0 309.0,1347.2 311.0,1346.6 313.0,1346.5 315.0,1348.0 317.0,1345.7 319.0,1345.7 321.0,1346.2 323.0,1346.9 325.0,1346.8 327.0,1346.7 329.0,1344.7 331.0,1344.6 333.0,1346.8 335.0,1346.2 337.0,1346.2 339.0,1346.0 341.0,1346.1 343.0,1346.1 345.0,1346.5 347.0,1344.2 349.0,1344.1 351.0,1348.0 353.0,1345.2 355.0,1345.1 357.0,1343.5 359.0,1346.0 361.0,1346.0 363.0,1347.8 365.0,1345.4 367.0,1345.4 369.0,1347.8 371.0,1347.8 373.0,1347.8 375.0,1344.9 377.0,1342.9 379.0,1342.8 381.0,1344.3 383.0,1347.3 385.0,1347.3 387.0,1344.8 389.0,1343.9 391.0,1343.8 393.0,1344.0 395.0,1345.7 397.0,1345.7 399.0,1345.6 401.0,1346.7 403.0,1346.7 405.0,1346.9 407.0,1344.3 409.0,1344.3 411.0,1345.3 413.0,1344.0 415.0,1344.0 417.0,1345.5 419.0,1343.9 421.0,1343.9 423.0,1343.8 425.0,1348.2 427.0,1348.2 429.0,1345.3 431.0,1346.2 433.0,1346.1 435.0,1348.7 437.0,1346.3 439.0,1346.3 441.0,1345.0 443.0,1345.2 445.0,1345.2 447.0,1344.1 449.0,1346.6 451.0,1346.6 453.0,1344.6 455.0,1347.5 457.0,1347.5 459.0,1344.5 461.0,1344.4 463.0,1344.4 465.0,1344.3 467.0,1345.8 469.0,1345.8 471.0,1345.1 473.0,1346.8 475.0,1346.8 477.0,1344.0 479.0,1345.2 481.0,1345.2 483.0,1347.6 485.0,1344.4 487.0,1344.3 489.0,1345.5 491.0,1347.0 493.0,1347.0 495.0,1345.5 497.0,1343.7 499.0,1343.6 501.0,1341.5 503.0,1348.2 505.0,1348.2 507.0,1345.2 509.0,1346.4 511.0,1346.4 513.0,1343.7 515.0,1347.2 517.0,1347.2 519.0,1345.2 521.0,1344.5 523.0,1344.5 525.0,1343.0 527.0,1344.9 529.0,1344.9 531.0,1343.6 533.0,1343.9 535.0,1343.9 537.0,1341.7 539.0,1343.5 541.0,1343.4 543.0,1344.4 545.0,1342.2 547.0,1342.2 549.0,1344.2 551.0,1345.1 553.0,1345.1 555.0,1343.6 557.0,1343.0 559.0,1343.0 561.0,1343.0 563.0,1345.4 565.0,1345.4 567.0,1341.4 569.0,1343.4 571.0,1343.3 573.0,1343.1 575.0,1344.0 577.0,1343.9 579.0,1343.5 581.0,1341.8 583.0,1341.8 585.0,1346.9 587.0,1343.8 589.0,1343.8 591.0,1341.2 593.0,1341.9 595.0,1341.8 597.0,1343.4 599.0,1344.3 600.0,1344.2 601.0,1344.2 603.0,1340.8 605.0,1344.2 607.0,1344.1 609.0,1340.5 611.0,1341.3 613.0,1341.1 615.0,1343.8 617.0,1345.0 619.0,1344.9 621.0,1341.6 623.0,1341.0 625.0,1340.8 627.0,1343.4 629.0,1339.0 631.0,1338.8 633.0,1341.0 635.0,1340.8 635.2,1340.7 637.0,1340.6 639.0,1341.8 641.0,1340.3 643.0,1340.1 645.0,1338.9 647.0,1340.4 649.0,1340.2 651.0,1336.6 653.0,1340.1 655.0,1339.9 657.0,1336.8 659.0,1336.0 661.0,1335.8 663.0,1336.6 665.0,1337.1 667.0,1336.8 669.0,1337.9 670.4,1337.6 671.0,1335.7 673.0,1335.3 675.0,1336.8 677.0,1336.8 679.0,1336.3 681.0,1333.5 683.0,1331.1 685.0,1330.5 687.0,1333.8 689.0,1331.8 691.0,1331.1 693.0,1325.4 695.0,1327.1 697.0,1326.4 699.0,1328.1 701.0,1324.2 703.0,1323.5 705.0,1324.4 705.7,1324.1 707.0,1321.5 709.0,1320.9 711.0,1324.9 713.0,1323.9 715.0,1323.3 717.0,1322.5 719.0,1324.6 721.0,1324.0 723.0,1319.5 725.0,1318.9 727.0,1318.2 729.0,1322.3 729.2,1322.2 731.0,1314.6 733.0,1313.8 735.0,1317.1 737.0,1312.1 739.0,1311.2 741.0,1313.3 743.0,1316.0 745.0,1314.9 747.0,1310.3 749.0,1307.3 751.0,1306.2 752.6,1311.3 753.0,1311.1 755.0,1304.4 757.0,1303.3 759.0,1302.9 761.0,1302.6 763.0,1301.4 765.0,1297.1 767.0,1300.0 769.0,1298.5 770.2,1298.3 771.0,1297.5 773.0,1294.2 775.0,1291.9 777.0,1288.9 779.0,1285.8 781.0,1283.2 782.0,1283.3 783.0,1282.0 785.0,1273.8 787.0,1271.1 789.0,1272.1 791.0,1269.4 793.0,1266.0 793.7,1264.8 795.0,1259.8 797.0,1258.4 799.0,1254.0 799.6,1252.6 801.0,1248.9 803.0,1244.2 805.0,1238.9 805.5,1237.5 807.0,1232.9 809.0,1226.4 811.0,1218.6 811.3,1217.4 813.0,1209.6 814.5,1202.3 815.0,1198.9 817.0,1189.0 818.0,1184.9 819.0,1180.8 820.5,1174.9 821.0,1172.8 823.0,1163.0 825.0,1153.6 827.0,1146.9 827.8,1145.5 829.0,1148.1 831.0,1157.5 833.0,1169.1 835.0,1179.7 835.3,1181.0 837.0,1186.9 839.0,1193.1 841.0,1199.9 841.3,1201.2 843.0,1212.2 844.3,1221.0 845.0,1222.8 847.0,1230.1 849.0,1235.9 850.3,1239.4 851.0,1241.5 853.0,1246.2 855.0,1251.5 857.0,1254.9 859.0,1259.2 859.3,1259.9 861.0,1265.2 863.0,1271.2 865.0,1276.1 866.0,1275.4 867.0,1276.9 869.0,1281.5 871.0,1284.0 873.0,1284.1 875.0,1284.6 877.0,1286.3 879.0,1287.7 881.0,1290.8 883.0,1292.0 883.5,1292.3 885.0,1290.1 887.0,1295.7 889.0,1296.7 891.0,1299.6 893.0,1294.9 895.0,1295.6 897.0,1298.0 899.0,1302.7 901.0,1303.4 903.0,1301.5 905.0,1301.9 907.0,1302.7 909.0,1302.6 911.0,1306.0 913.0,1306.9 915.0,1306.3 917.0,1304.3 919.0,1305.1 921.0,1303.2 923.0,1303.5 925.0,1304.2 927.0,1311.9 929.0,1310.7 930.4,1311.1 931.0,1311.3 933.0,1315.6 935.0,1314.3 937.0,1315.0 939.0,1311.8 941.0,1315.8 943.0,1316.4 945.0,1318.9 947.0,1314.8 949.0,1315.2 951.0,1316.5 953.0,1322.1 954.0,1322.3 955.0,1322.5 957.0,1314.4 959.0,1316.2 961.0,1316.4 963.0,1321.8 965.0,1319.9 967.0,1320.1 969.0,1316.9 971.0,1316.3 973.0,1316.5 975.0,1321.4 977.0,1323.4 977.4,1323.4 979.0,1323.6 981.0,1322.9 983.0,1322.2 985.0,1322.5 987.0,1325.3 989.0,1322.8 991.0,1323.1 993.0,1320.6 995.0,1327.8 997.0,1328.0 999.0,1320.2 1001.0,1323.1 1003.0,1323.2 1005.0,1323.4 1007.0,1327.3 1009.0,1327.4 1011.0,1322.0 1013.0,1323.3 1015.0,1323.4 1017.0,1319.7 1019.0,1325.1 1021.0,1325.2 1023.0,1325.5 1025.0,1326.1 1027.0,1326.2 1029.0,1322.2 1031.0,1325.2 1033.0,1325.2 1035.0,1322.3 1036.0,1322.3 1037.0,1323.4 1039.0,1323.4 1041.0,1324.4 1043.0,1328.0 1045.0,1328.0 1047.0,1323.5 1049.0,1325.1 1051.0,1325.1 1053.0,1322.4 1055.0,1323.1 1057.0,1323.1 1059.0,1322.8 1061.0,1324.2 1063.0,1324.2 1065.0,1326.6 1067.0,1321.7 1069.0,1321.7 1071.0,1326.5 1073.0,1322.1 1075.0,1322.1 1077.0,1325.5 1079.0,1323.1 1081.0,1323.1 1083.0,1323.8 1085.0,1323.6 1087.0,1323.6 1089.0,1327.4 1091.0,1325.2 1093.0,1325.2 1094.8,1327.3 1095.0,1327.3 1097.0,1323.6 1099.0,1323.7 1101.0,1324.1 1103.0,1328.8 1105.0,1328.9 1107.0,1320.9 1109.0,1323.0 1111.0,1323.2 1113.0,1325.1 1115.0,1330.2 1117.0,1330.4 1119.0,1324.8 1121.0,1328.4 1123.0,1328.7 1125.0,1330.8 1127.0,1326.8 1129.0,1327.1 1131.0,1327.5 1133.0,1332.2 1135.0,1332.5 1137.0,1327.6 1139.0,1326.7 1141.0,1327.0 1143.0,1331.8 1145.0,1328.9 1147.0,1329.2 1149.0,1333.8 1151.0,1332.3 1153.0,1332.6 1155.0,1327.5 1155.6,1327.6 1157.0,1332.6 1159.0,1332.9 1161.0,1332.6 1163.0,1331.3 1165.0,1331.6 1167.0,1336.1 1169.0,1329.8 1171.0,1330.2 1173.0,1331.8 1175.0,1333.8 1177.0,1334.2 1179.0,1337.5 1181.0,1332.7 1183.0,1333.1 1185.0,1335.5 1187.0,1335.7 1189.0,1336.1 1191.0,1334.8 1193.0,1337.5 1195.0,1337.9 1197.0,1336.7 1199.0,1338.5 1201.0,1338.9 1203.0,1340.7 1205.0,1338.7 1207.0,1339.0 1209.0,1339.4 1211.0,1339.5 1213.0,1339.8 1214.0,1340.3 1215.0,1340.4 1217.0,1339.4 1219.0,1339.7 1221.0,1340.7 1223.0,1343.5 1225.0,1343.7 1227.0,1342.2 1229.0,1350.0 1231.0,1350.3 1233.0,1343.2 1235.0,1345.8 1237.0,1346.0 1239.0,1342.9 1241.0,1345.3 1243.0,1345.6 1245.0,1345.4 1247.0,1346.4 1249.0,1346.7 1251.0,1349.2 1253.0,1347.0 1255.0,1347.3 1257.0,1345.9 1259.0,1348.2 1261.0,1348.4 1263.0,1346.9 1265.0,1348.4 1267.0,1348.6 1269.0,1351.4 1271.0,1350.6 1273.0,1350.8 1275.0,1351.1 1277.0,1350.5 1279.0,1350.6 1281.0,1350.0 1283.0,1348.0 1285.0,1348.2 1287.0,1349.9 1289.0,1350.0 1291.0,1350.1 1293.0,1351.9 1295.0,1352.4 1297.0,1352.6 1299.0,1352.1 1301.0,1350.6 1303.0,1350.8 1305.0,1354.1 1307.0,1353.7 1309.0,1353.8 1311.0,1352.0 1313.0,1352.7 1315.0,1352.8 1317.0,1353.4 1319.0,1352.9 1321.0,1353.0 1323.0,1352.9 1325.0,1353.6 1327.0,1353.7 1329.0,1353.3 1331.0,1353.6 1333.0,1353.7 1335.0,1352.0 1337.0,1352.1 1339.0,1352.2 1341.0,1355.4 1343.0,1352.5 1345.0,1352.5 1347.0,1354.4 1349.0,1354.3 1350.0,1354.3 1351.0,1354.3 1353.0,1354.2 1355.0,1353.5 1357.0,1353.5 1359.0,1355.0 1361.0,1354.5 1363.0,1354.5 1365.0,1354.0 1367.0,1353.1 1369.0,1353.2 1371.0,1354.2 1373.0,1353.9 1375.0,1353.9 1377.0,1353.5 1379.0,1354.7 1381.0,1354.8 1383.0,1354.9 1385.0,1355.2 1387.0,1355.2 1389.0,1354.7 1391.0,1354.5 1393.0,1354.5 1395.0,1355.4 1397.0,1355.2 1399.0,1355.2 1401.0,1356.2 1403.0,1355.2 1405.0,1355.2 1407.0,1354.3 1409.0,1355.5 1411.0,1355.5 1413.0,1356.4 1415.0,1355.2 1417.0,1355.2 1419.0,1355.0 1421.0,1354.7 1423.0,1354.8 1425.0,1356.3 1427.0,1355.1 1429.0,1355.1 1431.0,1355.1 1433.0,1355.4 1435.0,1355.5 1437.0,1354.5 1439.0,1355.2 1441.0,1355.2 1443.0,1354.6 1445.0,1355.3 1447.0,1355.4 1449.0,1355.8 1451.0,1356.1 1453.0,1356.1 1455.0,1355.3 1457.0,1356.1 1459.0,1356.1 1461.0,1355.4 1463.0,1354.7 1465.0,1354.7 1467.0,1356.1 1469.0,1355.6 1471.0,1355.6 1473.0,1355.9 1475.0,1354.3 1477.0,1354.3 1479.0,1356.0 1481.0,1356.0 1483.0,1356.1 1485.0,1356.1 1487.0,1356.6 1489.0,1356.6 1491.0,1355.8 1493.0,1357.3 1495.0,1357.4 1497.0,1356.5 1499.0,1356.4 1501.0,1356.5 1503.0,1354.7 1505.0,1355.0 1507.0,1355.0 1509.0,1357.1 1511.0,1356.5 1513.0,1356.5 1515.0,1356.9 1517.0,1356.1 1519.0,1356.1 1521.0,1356.3 1523.0,1356.8 1525.0,1356.8 1527.0,1356.0 1529.0,1357.3 1531.0,1357.3 1533.0,1355.9 1535.0,1356.7 1537.0,1356.7 1539.0,1356.4 1541.0,1356.8 1543.0,1356.8 1545.0,1357.4 1547.0,1356.0 1549.0,1356.0 1551.0,1357.0 1553.0,1356.8 1555.0,1356.8 1557.0,1357.3 1559.0,1356.8 1561.0,1356.8 1563.0,1356.5 1565.0,1357.2 1567.0,1357.2 1569.0,1357.7 1571.0,1357.4 1573.0,1357.4 1575.0,1357.1 1577.0,1357.2 1579.0,1357.2 1581.0,1356.1 1583.0,1356.7 1585.0,1356.7 1587.0,1356.9 1589.0,1356.8 1591.0,1356.8 1593.0,1356.7 1595.0,1357.1 1597.0,1357.1 1599.0,1357.4 1601.0,1358.3 1603.0,1358.4 1605.0,1356.8 1607.0,1356.7 1609.0,1356.7 1611.0,1357.9 1613.0,1357.4 1615.0,1357.4 1617.0,1356.8 1619.0,1358.3 1621.0,1358.3 1623.0,1357.2 1625.0,1357.2 1627.0,1357.2 1629.0,1357.1 1631.0,1356.9 1633.0,1356.9 1635.0,1357.5 1637.0,1356.9 1639.0,1356.9 1641.0,1359.0 1643.0,1357.7 1645.0,1357.7 1647.0,1357.4 1649.0,1357.1 1651.0,1357.1 1653.0,1357.7 1655.0,1358.2 1657.0,1358.2 1659.0,1357.8 1661.0,1357.0 1663.0,1357.0 1665.0,1357.5 1667.0,1356.7 1669.0,1356.7 1671.0,1358.6 1673.0,1358.1 1675.0,1358.1 1677.0,1357.9 1679.0,1357.9 1681.0,1357.9 1683.0,1357.4 1685.0,1357.7 1687.0,1357.7 1689.0,1358.4 1691.0,1357.8 1693.0,1357.8 1695.0,1358.2 1697.0,1358.0 1699.0,1358.0 1701.0,1358.0 1703.0,1358.1 1705.0,1358.1 1707.0,1358.5 1709.0,1357.8 1711.0,1357.8 1713.0,1358.4 1715.0,1357.5 1717.0,1357.5 1719.0,1357.7 1721.0,1357.6 1723.0,1357.6 1725.0,1358.5 1727.0,1357.9 1729.0,1357.9 1731.0,1358.8 1733.0,1357.5 1735.0,1357.5 1737.0,1358.3 1739.0,1357.4 1741.0,1357.4 1743.0,1358.8 1745.0,1357.7 1747.0,1357.7 1749.0,1358.4 1751.0,1357.8 1753.0,1357.8 1755.0,1357.7 1757.0,1358.3 1759.0,1358.3 1761.0,1357.2 1763.0,1357.5 1765.0,1357.5 1767.0,1359.1 1769.0,1357.8 1771.0,1357.8 1773.0,1358.8 1775.0,1357.8 1777.0,1357.8 1779.0,1357.3 1781.0,1358.0 1783.0,1358.1 1785.0,1358.8 1787.0,1358.3 1789.0,1358.3 1791.0,1358.2 1793.0,1358.9 1795.0,1358.9 1797.0,1357.9 1799.0,1358.8 1801.0,1358.8 1803.0,1358.6 1805.0,1357.8 1807.0,1357.8 1809.0,1358.9 1811.0,1359.1 1813.0,1359.1 1815.0,1358.3 1817.0,1358.5 1819.0,1358.5 1821.0,1358.3 1823.0,1357.8 1825.0,1357.8 1827.0,1358.9 1829.0,1357.8 1831.0,1357.9 1833.0,1358.8 1835.0,1358.1 1837.0,1358.2 1839.0,1357.9 1841.0,1358.8 1843.0,1358.9 1845.0,1358.6 1847.0,1359.6 1849.0,1359.6 1851.0,1358.5 1853.0,1358.6 1855.0,1358.6 1857.0,1358.6 1859.0,1358.4 1861.0,1358.4 1863.0,1359.3 1865.0,1359.4 1867.0,1359.4 1869.0,1359.0 1871.0,1357.9 1873.0,1358.0 1875.0,1358.8 1877.0,1358.6 1879.0,1358.6 1881.0,1358.3 1883.0,1357.6 1885.0,1357.7 1887.0,1359.1 1889.0,1359.3 1891.0,1359.3 1893.0,1358.8 1895.0,1358.9 1897.0,1358.9 1899.0,1359.7 1901.0,1359.8 1903.0,1359.8 1905.0,1358.7 1907.0,1356.9 1909.0,1356.9 1911.0,1359.0 1913.0,1358.7 1915.0,1358.7 1917.0,1359.0 1919.0,1358.3 1921.0,1358.3 1923.0,1358.0 1925.0,1358.9 1927.0,1358.9 1929.0,1358.5 1931.0,1358.7 1933.0,1358.7 1935.0,1358.9 1937.0,1358.7 1939.0,1358.7 1941.0,1357.8 1943.0,1359.0 1945.0,1359.0 1947.0,1358.4 1949.0,1358.5 1951.0,1358.5 1953.0,1358.9 1955.0,1357.8 1957.0,1357.8 1959.0,1358.5 1961.0,1357.5 1963.0,1357.6 1965.0,1358.3 1967.0,1358.8 1969.0,1358.8 1971.0,1358.6 1973.0,1358.5 1975.0,1358.5 1977.0,1359.0" fill="none" stroke="#ff0000" stroke-width="12" stroke-linejoin="round" shape-rendering="crispEdges"/>
<path d="M281 1338h3v4h-3zM284 1352h3v4h-3zM299 1352h6v4h-6zM320 1351h6v4h-6zM329 1337h3v4h-3zM386 1351h3v4h-3zM389 1351h3v4h-3zM398 1351h3v4h-3zM404 1337h6v4h-6zM443 1336h6v4h-6zM467 1336h3v4h-3zM476 1350h3v4h-3zM494 1350h3v4h-3zM524 1349h3v4h-3zM527 1335h3v4h-3zM542 1335h3v4h-3zM545 1349h3v4h-3zM563 1335h3v4h-3zM578 1335h6v4h-6zM581 1335h3v4h-3zM587 1334h3v4h-3zM638 1345h3v4h-3zM641 1331h3v4h-3zM665 1328h3v4h-3zM716 1327h3v4h-3zM719 1326h3v4h-3zM734 1306h6v4h-6zM746 1315h3v4h-3zM758 1294h3v4h-3zM896 1290h3v4h-3zM914 1311h3v4h-3zM950 1309h3v4h-3zM962 1324h3v4h-3zM968 1325h3v4h-3zM983 1312h3v4h-3zM986 1313h3v4h-3zM992 1314h6v4h-6zM995 1328h3v4h-3zM1046 1330h3v4h-3zM1079 1330h3v4h-3zM1088 1316h3v4h-3zM1091 1330h6v4h-6zM1094 1330h6v4h-6zM1097 1316h6v4h-6zM1133 1320h3v4h-3zM1151 1336h3v4h-3zM1154 1337h3v4h-3zM1160 1338h3v4h-3zM1163 1324h3v4h-3zM1166 1339h3v4h-3zM1172 1340h6v4h-6zM1178 1327h3v4h-3zM1190 1329h3v4h-3zM1202 1331h3v4h-3zM1217 1348h3v4h-3zM1229 1335h3v4h-3zM1232 1350h6v4h-6zM1253 1353h3v4h-3zM1265 1354h3v4h-3zM1268 1340h3v4h-3zM1286 1342h3v4h-3zM1313 1344h3v4h-3zM1340 1345h3v4h-3zM1373 1359h3v4h-3zM1376 1359h3v4h-3zM1421 1346h3v4h-3zM1445 1346h3v4h-3zM1460 1347h3v4h-3zM1469 1361h3v4h-3zM1484 1347h3v4h-3zM1493 1361h6v4h-6zM1508 1361h3v4h-3zM1514 1361h3v4h-3zM1517 1361h3v4h-3zM1523 1347h3v4h-3zM1559 1348h3v4h-3zM1571 1348h3v4h-3zM1577 1348h3v4h-3zM1583 1362h3v4h-3zM1676 1349h3v4h-3zM1682 1349h3v4h-3zM1715 1349h3v4h-3zM1739 1349h3v4h-3zM1751 1349h3v4h-3zM1763 1349h3v4h-3zM1769 1349h3v4h-3zM1787 1363h3v4h-3zM1796 1363h3v4h-3zM1802 1349h3v4h-3zM1805 1349h6v4h-6zM1814 1363h3v4h-3zM1832 1363h6v4h-6zM1856 1349h3v4h-3zM1865 1349h3v4h-3zM1895 1364h3v4h-3zM1907 1364h6v4h-6zM1952 1350h3v4h-3z" fill="#ff0000" shape-rendering="crispEdges"/>
<path d="M263.0,1448.4 265.0,1448.4 267.0,1449.1 269.0,1447.7 271.0,1447.7 273.0,1449.4 275.0,1449.8 277.0,1449.8 279.0,1448.6 281.0,1449.2 283.0,1449.3 285.0,1449.1 287.0,1448.6 289.0,1448.6 291.0,1448.2 293.0,1447.2 295.0,1447.2 297.0,1450.1 299.0,1448.9 301.0,1448.9 303.0,1451.1 305.0,1449.7 307.0,1449.7 309.0,1449.2 311.0,1448.4 313.0,1448.4 315.0,1450.2 317.0,1448.5 319.0,1448.5 321.0,1450.4 323.0,1448.6 325.0,1448.6 327.0,1449.1 329.0,1447.5 331.0,1447.5 333.0,1451.2 335.0,1448.9 337.0,1448.9 339.0,1448.6 341.0,1449.7 343.0,1449.8 345.0,1448.1 347.0,1449.7 349.0,1449.7 351.0,1447.8 353.0,1449.5 355.0,1449.5 357.0,1447.9 359.0,1447.1 361.0,1447.1 363.0,1448.4 365.0,1447.5 367.0,1447.5 369.0,1449.5 371.0,1449.0 373.0,1449.0 375.0,1449.5 377.0,1449.1 379.0,1449.1 381.0,1448.6 383.0,1449.0 385.0,1449.0 387.0,1450.1 389.0,1448.8 391.0,1448.8 393.0,1448.2 395.0,1447.9 397.0,1447.9 399.0,1448.7 401.0,1448.2 403.0,1448.2 405.0,1451.1 407.0,1447.7 409.0,1447.7 411.0,1447.8 413.0,1448.7 415.0,1448.7 417.0,1449.7 419.0,1448.7 421.0,1448.7 423.0,1447.9 425.0,1448.1 427.0,1448.1 429.0,1448.6 431.0,1450.1 433.0,1450.1 435.0,1447.9 437.0,1448.9 439.0,1448.9 441.0,1448.3 443.0,1449.4 445.0,1449.4 447.0,1449.5 449.0,1447.3 451.0,1447.3 453.0,1451.8 455.0,1449.2 457.0,1449.2 459.0,1448.4 461.0,1447.9 463.0,1447.9 465.0,1448.7 467.0,1449.0 469.0,1449.0 471.0,1449.7 473.0,1449.0 475.0,1449.0 477.0,1449.6 479.0,1447.0 481.0,1447.0 483.0,1448.1 485.0,1447.8 487.0,1447.8 489.0,1449.2 491.0,1449.6 493.0,1449.6 495.0,1447.2 497.0,1448.8 499.0,1448.8 501.0,1449.9 503.0,1450.2 505.0,1450.2 507.0,1447.6 509.0,1449.7 511.0,1449.7 513.0,1449.4 515.0,1448.4 517.0,1448.4 519.0,1451.5 521.0,1447.6 523.0,1447.6 525.0,1448.6 527.0,1449.6 529.0,1449.6 531.0,1449.3 533.0,1448.8 535.0,1448.8 537.0,1450.8 539.0,1450.9 541.0,1450.9 543.0,1450.2 545.0,1450.3 547.0,1450.3 549.0,1448.9 551.0,1447.5 553.0,1447.5 555.0,1451.9 557.0,1447.7 559.0,1447.7 560.0,1452.0 561.0,1452.0 563.0,1448.8 565.0,1448.8 567.0,1449.3 569.0,1448.8 571.0,1448.8 573.0,1450.3 575.0,1448.3 577.0,1448.3 579.0,1451.5 581.0,1449.7 583.0,1449.7 585.0,1449.2 587.0,1448.2 589.0,1448.2 591.0,1449.4 593.0,1449.0 595.0,1449.0 597.0,1451.6 599.0,1450.3 601.0,1450.3 603.0,1446.8 605.0,1451.1 607.0,1451.1 609.0,1445.7 611.0,1451.1 613.0,1451.0 615.0,1446.2 617.0,1448.6 619.0,1448.5 621.0,1449.5 623.0,1448.2 625.0,1448.0 627.0,1446.2 629.0,1449.3 631.0,1449.1 633.0,1444.4 635.0,1444.6 637.0,1444.3 639.0,1448.5 641.0,1444.7 643.0,1444.4 645.0,1445.9 647.0,1446.6 649.0,1446.4 651.0,1444.6 653.0,1445.1 654.0,1445.0 655.0,1444.9 657.0,1444.4 659.0,1444.4 661.0,1444.2 663.0,1445.8 665.0,1445.2 667.0,1445.0 669.0,1443.7 671.0,1444.6 673.0,1444.4 675.0,1441.4 677.0,1440.8 679.0,1440.5 681.0,1439.8 683.0,1443.0 685.0,1442.7 687.0,1444.1 689.0,1440.8 691.0,1440.4 693.0,1436.0 695.0,1438.3 697.0,1437.8 699.0,1439.1 701.0,1438.2 703.0,1437.5 705.0,1436.5 707.0,1437.7 709.0,1437.1 711.0,1436.4 712.6,1436.0 713.0,1431.0 715.0,1430.4 717.0,1433.8 719.0,1430.7 721.0,1430.2 723.0,1431.9 725.0,1433.6 727.0,1433.0 729.0,1433.8 731.0,1430.7 733.0,1430.0 735.0,1426.8 736.0,1426.4 737.0,1426.4 739.0,1425.6 741.0,1426.4 743.0,1422.5 745.0,1421.5 747.0,1422.1 749.0,1422.2 751.0,1421.0 753.0,1420.4 755.0,1416.9 757.0,1415.7 759.0,1415.7 759.6,1415.3 761.0,1416.2 763.0,1415.0 765.0,1411.7 767.0,1406.8 769.0,1405.4 771.0,1407.4 773.0,1406.0 775.0,1404.4 777.0,1401.7 777.2,1401.5 779.0,1400.7 781.0,1399.0 783.0,1394.7 785.0,1396.8 787.0,1394.4 789.0,1390.6 791.0,1385.9 793.0,1381.7 794.8,1379.0 795.0,1378.6 797.0,1375.3 799.0,1372.3 801.0,1368.2 803.0,1362.9 805.0,1359.9 806.6,1356.9 807.0,1356.1 809.0,1356.3 811.0,1350.7 813.0,1342.0 814.0,1339.0 815.0,1336.6 817.0,1329.6 819.0,1323.5 820.0,1320.5 821.0,1316.9 823.0,1311.7 825.0,1309.5 827.0,1303.5 829.0,1300.5 830.8,1302.5 831.0,1302.2 833.0,1302.2 834.5,1305.9 835.0,1307.4 837.0,1316.2 838.3,1320.6 839.0,1322.8 841.0,1329.0 843.0,1334.9 844.8,1340.3 845.0,1340.9 847.0,1346.9 849.0,1352.8 851.0,1358.9 851.8,1360.9 853.0,1363.7 855.0,1368.5 857.0,1370.6 859.0,1373.8 860.0,1377.9 861.0,1379.0 863.0,1377.4 865.0,1378.7 867.0,1381.9 869.0,1382.4 871.0,1384.0 871.7,1384.6 873.0,1387.1 875.0,1388.4 877.0,1391.3 879.0,1395.1 881.0,1396.5 883.0,1398.6 883.5,1399.0 885.0,1399.4 887.0,1404.4 889.0,1405.8 891.0,1406.2 893.0,1407.3 895.0,1408.5 897.0,1410.4 899.0,1407.5 901.0,1408.5 903.0,1413.3 905.0,1410.3 907.0,1411.2 909.0,1415.0 911.0,1414.8 913.0,1415.6 915.0,1417.4 917.0,1419.1 919.0,1420.0 921.0,1419.3 923.0,1418.1 925.0,1418.7 927.0,1423.3 929.0,1424.4 930.4,1424.7 931.0,1424.8 933.0,1424.1 935.0,1425.2 937.0,1425.5 939.0,1419.0 941.0,1423.6 943.0,1423.8 945.0,1423.6 947.0,1419.3 949.0,1419.6 951.0,1424.8 953.0,1424.9 954.0,1425.0 955.0,1425.2 957.0,1422.1 959.0,1424.1 961.0,1424.5 963.0,1427.1 965.0,1428.7 967.0,1429.2 969.0,1430.0 971.0,1426.4 973.0,1426.9 975.0,1427.4 977.0,1429.1 977.4,1429.1 979.0,1429.5 981.0,1430.9 983.0,1430.1 985.0,1430.5 987.0,1431.8 989.0,1434.2 991.0,1434.6 993.0,1434.9 995.0,1434.0 997.0,1434.3 999.0,1431.4 1001.0,1433.2 1003.0,1433.4 1005.0,1436.2 1007.0,1437.1 1009.0,1437.3 1011.0,1437.9 1013.0,1432.8 1015.0,1432.9 1017.0,1434.5 1019.0,1432.8 1021.0,1432.9 1023.0,1428.7 1025.0,1433.4 1027.0,1433.5 1029.0,1431.9 1031.0,1440.0 1033.0,1440.1 1035.0,1437.8 1036.0,1437.9 1037.0,1435.1 1039.0,1435.2 1041.0,1437.1 1043.0,1438.0 1045.0,1438.1 1047.0,1441.5 1049.0,1439.1 1051.0,1439.2 1053.0,1441.1 1055.0,1438.6 1057.0,1438.6 1059.0,1440.7 1061.0,1441.1 1063.0,1441.2 1065.0,1439.9 1067.0,1437.7 1069.0,1437.8 1071.0,1440.5 1073.0,1436.8 1075.0,1436.9 1077.0,1441.5 1079.0,1437.3 1081.0,1437.3 1083.0,1436.4 1085.0,1442.8 1087.0,1442.9 1089.0,1437.3 1091.0,1438.8 1093.0,1438.8 1094.8,1435.9 1095.0,1435.9 1097.0,1436.9 1099.0,1437.0 1101.0,1438.0 1103.0,1436.5 1105.0,1436.7 1107.0,1442.1 1109.0,1437.6 1111.0,1437.7 1113.0,1436.6 1115.0,1442.3 1117.0,1442.5 1119.0,1441.7 1121.0,1434.8 1123.0,1434.9 1125.0,1439.2 1127.0,1442.9 1129.0,1443.1 1131.0,1439.3 1133.0,1440.6 1135.0,1440.7 1137.0,1441.0 1139.0,1436.7 1141.0,1436.9 1143.0,1440.2 1145.0,1444.0 1147.0,1444.2 1149.0,1445.9 1151.0,1442.8 1153.0,1443.0 1155.0,1443.1 1155.6,1443.2 1157.0,1444.8 1159.0,1445.0 1161.0,1444.4 1163.0,1445.4 1165.0,1445.6 1167.0,1443.2 1169.0,1445.3 1171.0,1445.6 1173.0,1446.8 1175.0,1447.3 1177.0,1447.6 1179.0,1444.0 1181.0,1448.7 1183.0,1449.1 1185.0,1448.1 1187.0,1448.5 1189.0,1448.9 1191.0,1445.9 1193.0,1449.4 1195.0,1449.7 1197.0,1447.3 1199.0,1446.1 1201.0,1446.4 1203.0,1451.0 1205.0,1451.1 1207.0,1451.4 1209.0,1451.8 1211.0,1452.2 1213.0,1452.4 1214.0,1452.2 1215.0,1452.3 1217.0,1454.2 1219.0,1454.4 1221.0,1454.1 1223.0,1455.5 1225.0,1455.7 1227.0,1457.2 1229.0,1454.8 1231.0,1454.9 1233.0,1455.1 1235.0,1456.8 1237.0,1457.0 1239.0,1453.3 1241.0,1454.2 1243.0,1454.3 1245.0,1455.3 1247.0,1453.0 1249.0,1453.2 1251.0,1456.6 1253.0,1457.5 1255.0,1457.6 1257.0,1454.2 1259.0,1454.8 1261.0,1455.0 1263.0,1457.2 1265.0,1457.9 1267.0,1458.0 1269.0,1454.5 1271.0,1457.2 1273.0,1457.3 1275.0,1456.5 1277.0,1454.7 1279.0,1454.9 1281.0,1456.6 1283.0,1456.5 1285.0,1456.6 1287.0,1457.4 1289.0,1457.4 1291.0,1457.5 1293.0,1457.3 1295.0,1457.5 1297.0,1457.6 1299.0,1457.7 1301.0,1458.4 1303.0,1458.5 1305.0,1459.0 1307.0,1459.1 1309.0,1459.1 1311.0,1457.6 1313.0,1457.8 1315.0,1457.9 1317.0,1458.1 1319.0,1459.7 1321.0,1459.8 1323.0,1459.1 1325.0,1458.4 1327.0,1458.5 1329.0,1458.3 1331.0,1458.5 1333.0,1458.5 1335.0,1459.2 1337.0,1458.6 1339.0,1458.6 1341.0,1459.3 1343.0,1460.2 1345.0,1460.2 1347.0,1459.3 1349.0,1460.0 1350.0,1460.0 1351.0,1460.0 1353.0,1458.6 1355.0,1459.8 1357.0,1459.8 1359.0,1459.8 1361.0,1459.1 1363.0,1459.2 1365.0,1460.6 1367.0,1459.8 1369.0,1459.8 1371.0,1459.4 1373.0,1459.7 1375.0,1459.7 1377.0,1460.5 1379.0,1459.2 1381.0,1459.2 1383.0,1460.1 1385.0,1459.5 1387.0,1459.5 1389.0,1460.3 1391.0,1459.9 1393.0,1459.9 1395.0,1460.2 1397.0,1460.7 1399.0,1460.8 1401.0,1460.4 1403.0,1460.7 1405.0,1460.7 1407.0,1460.8 1409.0,1460.7 1411.0,1460.7 1413.0,1460.7 1415.0,1460.6 1417.0,1460.6 1419.0,1461.0 1421.0,1461.4 1423.0,1461.4 1425.0,1461.8 1427.0,1461.8 1429.0,1461.8 1431.0,1460.2 1433.0,1461.0 1435.0,1461.0 1437.0,1461.2 1439.0,1461.6 1441.0,1461.7 1443.0,1461.6 1445.0,1460.2 1447.0,1460.2 1449.0,1461.2 1451.0,1460.1 1453.0,1460.1 1455.0,1460.9 1457.0,1460.6 1459.0,1460.7 1461.0,1460.9 1463.0,1462.2 1465.0,1462.2 1467.0,1461.0 1469.0,1461.0 1471.0,1461.1 1473.0,1461.5 1475.0,1462.1 1477.0,1462.1 1479.0,1460.5 1481.0,1462.5 1483.0,1462.5 1485.0,1461.1 1487.0,1461.0 1489.0,1461.0 1491.0,1461.7 1493.0,1462.1 1495.0,1462.1 1497.0,1463.3 1499.0,1462.3 1501.0,1462.3 1503.0,1461.5 1505.0,1461.7 1507.0,1461.7 1509.0,1461.3 1511.0,1462.3 1513.0,1462.3 1515.0,1462.5 1517.0,1461.8 1519.0,1461.8 1521.0,1462.7 1523.0,1461.1 1525.0,1461.1 1527.0,1461.8 1529.0,1461.6 1531.0,1461.6 1533.0,1461.8 1535.0,1461.2 1537.0,1461.3 1539.0,1462.8 1541.0,1461.7 1543.0,1461.7 1545.0,1462.3 1547.0,1463.1 1549.0,1463.1 1551.0,1463.4 1553.0,1463.1 1555.0,1463.2 1557.0,1461.1 1559.0,1462.3 1561.0,1462.3 1563.0,1462.3 1565.0,1462.2 1567.0,1462.2 1569.0,1462.1 1571.0,1462.3 1573.0,1462.3 1575.0,1463.0 1577.0,1462.4 1579.0,1462.4 1581.0,1461.9 1583.0,1461.8 1585.0,1461.8 1587.0,1462.9 1589.0,1461.8 1591.0,1461.8 1593.0,1463.3 1595.0,1462.6 1597.0,1462.6 1599.0,1462.6 1601.0,1463.1 1603.0,1463.1 1605.0,1462.8 1607.0,1463.5 1609.0,1463.5 1611.0,1462.3 1613.0,1462.0 1615.0,1462.0 1617.0,1464.3 1619.0,1463.3 1621.0,1463.3 1623.0,1461.7 1625.0,1464.2 1627.0,1464.2 1629.0,1462.4 1631.0,1464.5 1633.0,1464.5 1635.0,1464.4 1637.0,1463.9 1639.0,1463.9 1641.0,1463.4 1643.0,1462.9 1645.0,1462.9 1647.0,1464.0 1649.0,1463.2 1651.0,1463.2 1653.0,1464.1 1655.0,1463.3 1657.0,1463.4 1659.0,1462.6 1661.0,1463.1 1663.0,1463.2 1665.0,1463.6 1667.0,1463.3 1669.0,1463.3 1671.0,1463.7 1673.0,1463.1 1675.0,1463.1 1677.0,1464.7 1679.0,1463.4 1681.0,1463.4 1683.0,1464.1 1685.0,1462.8 1687.0,1462.8 1689.0,1464.3 1691.0,1464.7 1693.0,1464.8 1695.0,1464.2 1697.0,1463.7 1699.0,1463.7 1701.0,1463.3 1703.0,1464.3 1705.0,1464.3 1707.0,1464.3 1709.0,1463.2 1711.0,1463.2 1713.0,1464.0 1715.0,1464.3 1717.0,1464.4 1719.0,1463.6 1721.0,1464.4 1723.0,1464.4 1725.0,1463.9 1727.0,1465.0 1729.0,1465.0 1731.0,1463.4 1733.0,1464.5 1735.0,1464.5 1737.0,1464.2 1739.0,1463.1 1741.0,1463.1 1743.0,1463.7 1745.0,1463.7 1747.0,1463.7 1749.0,1464.8 1751.0,1464.0 1753.0,1464.1 1755.0,1464.3 1757.0,1464.4 1759.0,1464.4 1761.0,1465.9 1763.0,1464.2 1765.0,1464.2 1767.0,1465.5 1769.0,1464.3 1771.0,1464.3 1773.0,1463.5 1775.0,1463.9 1777.0,1463.9 1779.0,1463.7 1781.0,1464.2 1783.0,1464.2 1785.0,1463.6 1787.0,1463.9 1789.0,1463.9 1791.0,1465.6 1793.0,1464.7 1795.0,1464.7 1797.0,1464.7 1799.0,1465.6 1801.0,1465.6 1803.0,1463.6 1805.0,1464.9 1807.0,1464.9 1809.0,1464.3 1811.0,1464.6 1813.0,1464.6 1815.0,1464.2 1817.0,1464.7 1819.0,1464.7 1821.0,1465.4 1823.0,1465.4 1825.0,1465.4 1827.0,1464.8 1829.0,1465.2 1831.0,1465.2 1833.0,1464.0 1835.0,1463.0 1837.0,1463.0 1839.0,1465.4 1841.0,1466.0 1843.0,1466.0 1845.0,1465.0 1847.0,1464.4 1849.0,1464.4 1851.0,1464.8 1853.0,1465.5 1855.0,1465.5 1857.0,1464.1 1859.0,1464.8 1861.0,1464.9 1863.0,1465.2 1865.0,1464.2 1867.0,1464.2 1869.0,1466.1 1871.0,1465.3 1873.0,1465.3 1875.0,1465.8 1877.0,1464.2 1879.0,1464.2 1881.0,1465.0 1883.0,1465.8 1885.0,1465.8 1887.0,1465.2 1889.0,1465.6 1891.0,1465.7 1893.0,1463.8 1895.0,1464.9 1897.0,1464.9 1899.0,1463.7 1901.0,1464.6 1903.0,1464.6 1905.0,1465.1 1907.0,1464.9 1909.0,1464.9 1911.0,1464.2 1913.0,1465.1 1915.0,1465.1 1917.0,1465.3 1919.0,1464.9 1921.0,1464.9 1923.0,1465.4 1925.0,1465.6 1927.0,1465.7 1929.0,1465.7 1931.0,1464.8 1933.0,1464.8 1935.0,1465.3 1937.0,1464.6 1939.0,1464.6 1941.0,1464.9 1943.0,1465.6 1945.0,1465.6 1947.0,1464.9 1949.0,1464.7 1951.0,1464.7 1953.0,1464.6 1955.0,1465.3 1957.0,1465.3 1959.0,1466.0 1961.0,1465.6 1963.0,1465.6 1965.0,1464.9 1967.0,1465.5 1969.0,1465.5 1971.0,1465.6 1973.0,1465.9 1975.0,1465.9 1977.0,1464.6" fill="none" stroke="#000000" stroke-width="12" stroke-linejoin="round" shape-rendering="crispEdges"/>
<path d="M284 1440h6v4h-6zM293 1454h3v4h-3zM314 1454h6v4h-6zM326 1440h3v4h-3zM332 1454h3v4h-3zM404 1440h3v4h-3zM422 1440h3v4h-3zM425 1454h3v4h-3zM428 1440h3v4h-3zM431 1440h3v4h-3zM440 1454h3v4h-3zM455 1454h3v4h-3zM470 1440h3v4h-3zM476 1454h3v4h-3zM491 1454h3v4h-3zM503 1440h3v4h-3zM506 1440h6v4h-6zM518 1440h3v4h-3zM533 1440h3v4h-3zM629 1452h6v4h-6zM674 1433h3v4h-3zM683 1446h3v4h-3zM731 1434h3v4h-3zM932 1428h3v4h-3zM947 1429h3v4h-3zM968 1434h3v4h-3zM971 1434h3v4h-3zM998 1439h3v4h-3zM1028 1427h3v4h-3zM1034 1442h3v4h-3zM1046 1428h3v4h-3zM1052 1428h3v4h-3zM1055 1442h3v4h-3zM1070 1443h6v4h-6zM1139 1447h3v4h-3zM1148 1434h6v4h-6zM1154 1448h3v4h-3zM1172 1451h6v4h-6zM1247 1446h3v4h-3zM1259 1447h3v4h-3zM1262 1461h3v4h-3zM1274 1462h3v4h-3zM1286 1462h6v4h-6zM1313 1463h3v4h-3zM1358 1451h3v4h-3zM1373 1465h3v4h-3zM1385 1465h3v4h-3zM1394 1465h3v4h-3zM1460 1466h6v4h-6zM1502 1467h3v4h-3zM1511 1467h6v4h-6zM1514 1453h3v4h-3zM1517 1467h6v4h-6zM1520 1453h3v4h-3zM1550 1453h3v4h-3zM1613 1468h6v4h-6zM1619 1468h6v4h-6zM1643 1454h6v4h-6zM1688 1455h3v4h-3zM1697 1455h3v4h-3zM1718 1455h3v4h-3zM1739 1455h3v4h-3zM1769 1469h6v4h-6zM1775 1455h6v4h-6zM1787 1455h3v4h-3zM1799 1470h6v4h-6zM1823 1470h3v4h-3zM1835 1470h3v4h-3zM1868 1470h3v4h-3zM1871 1470h3v4h-3zM1877 1456h3v4h-3zM1904 1456h3v4h-3zM1928 1470h3v4h-3zM1949 1456h6v4h-6zM1952 1456h6v4h-6zM1955 1456h3v4h-3zM1961 1470h3v4h-3z" fill="#000000" shape-rendering="crispEdges"/>
</g>
<g transform="translate(1663.0,641.6) scale(0.94,1)"><text id="lbPEGMA" x="0" y="0" font-size="64">PEGMA</text></g>
<g transform="translate(1666.5,747.3) scale(0.94,1)"><text id="lbTLCPE30" x="0" y="0" font-size="64">TLCP-E30</text></g>
<g transform="translate(1666.5,840) scale(0.94,1)"><text id="lbTLCPE20" x="0" y="0" font-size="64">TLCP-E20</text></g>
<g transform="translate(1666.5,919) scale(0.94,1)"><text id="lbTLCPE10" x="0" y="0" font-size="64">TLCP-E10</text><rect x="234.16" y="-7.33" width="11.81" height="8.13" fill="#fff"/><rect x="254.75" y="-7.33" width="10.99" height="8.13" fill="#fff"/></g>
<g transform="translate(1666.5,1029.8) scale(0.94,1)"><text id="lbTLCPE7" x="0" y="0" font-size="64">TLCP-E7</text></g>
<g transform="translate(1666.5,1130) scale(0.94,1)"><text id="lbTLCPE5" x="0" y="0" font-size="64">TLCP-E5</text></g>
<g transform="translate(1666.5,1241.2) scale(0.94,1)"><text id="lbTLCPE3" x="0" y="0" font-size="64">TLCP-E3</text></g>
<g transform="translate(1666.5,1343) scale(0.94,1)"><text id="lbTLCPE1" x="0" y="0" font-size="64">TLCP-E1</text><rect x="234.16" y="-7.33" width="11.81" height="8.13" fill="#fff"/><rect x="254.75" y="-7.33" width="10.99" height="8.13" fill="#fff"/></g>
<g transform="translate(1666.5,1451) scale(0.94,1)"><text id="lbTLCP" x="0" y="0" font-size="64">TLCP</text></g>
<text id="a110t" x="887.5" y="141.6" font-size="62" text-anchor="middle">(110)</text>
<rect x="840.48" y="134.47" width="11.47" height="7.93" fill="#fff"/><rect x="860.45" y="134.47" width="10.68" height="7.93" fill="#fff"/><rect x="871.54" y="134.47" width="11.47" height="7.93" fill="#fff"/><rect x="891.52" y="134.47" width="10.68" height="7.93" fill="#fff"/><text x="1000" y="515" font-size="61" text-anchor="middle">(200)</text>
<text id="a110b" x="830" y="1529.5" font-size="62" text-anchor="middle">(110)</text>
<rect x="782.98" y="1522.37" width="11.47" height="7.93" fill="#fff"/><rect x="802.95" y="1522.37" width="10.68" height="7.93" fill="#fff"/><rect x="814.04" y="1522.37" width="11.47" height="7.93" fill="#fff"/><rect x="834.02" y="1522.37" width="10.68" height="7.93" fill="#fff"/><path d="M827.6,1463.6 V1412" stroke="#000" stroke-width="3.5" fill="none"/>
<path d="M827.6,1378.8 L844.7,1414.3 L810.9,1414.3 Z" fill="#000"/>
</svg>
</body></html>
